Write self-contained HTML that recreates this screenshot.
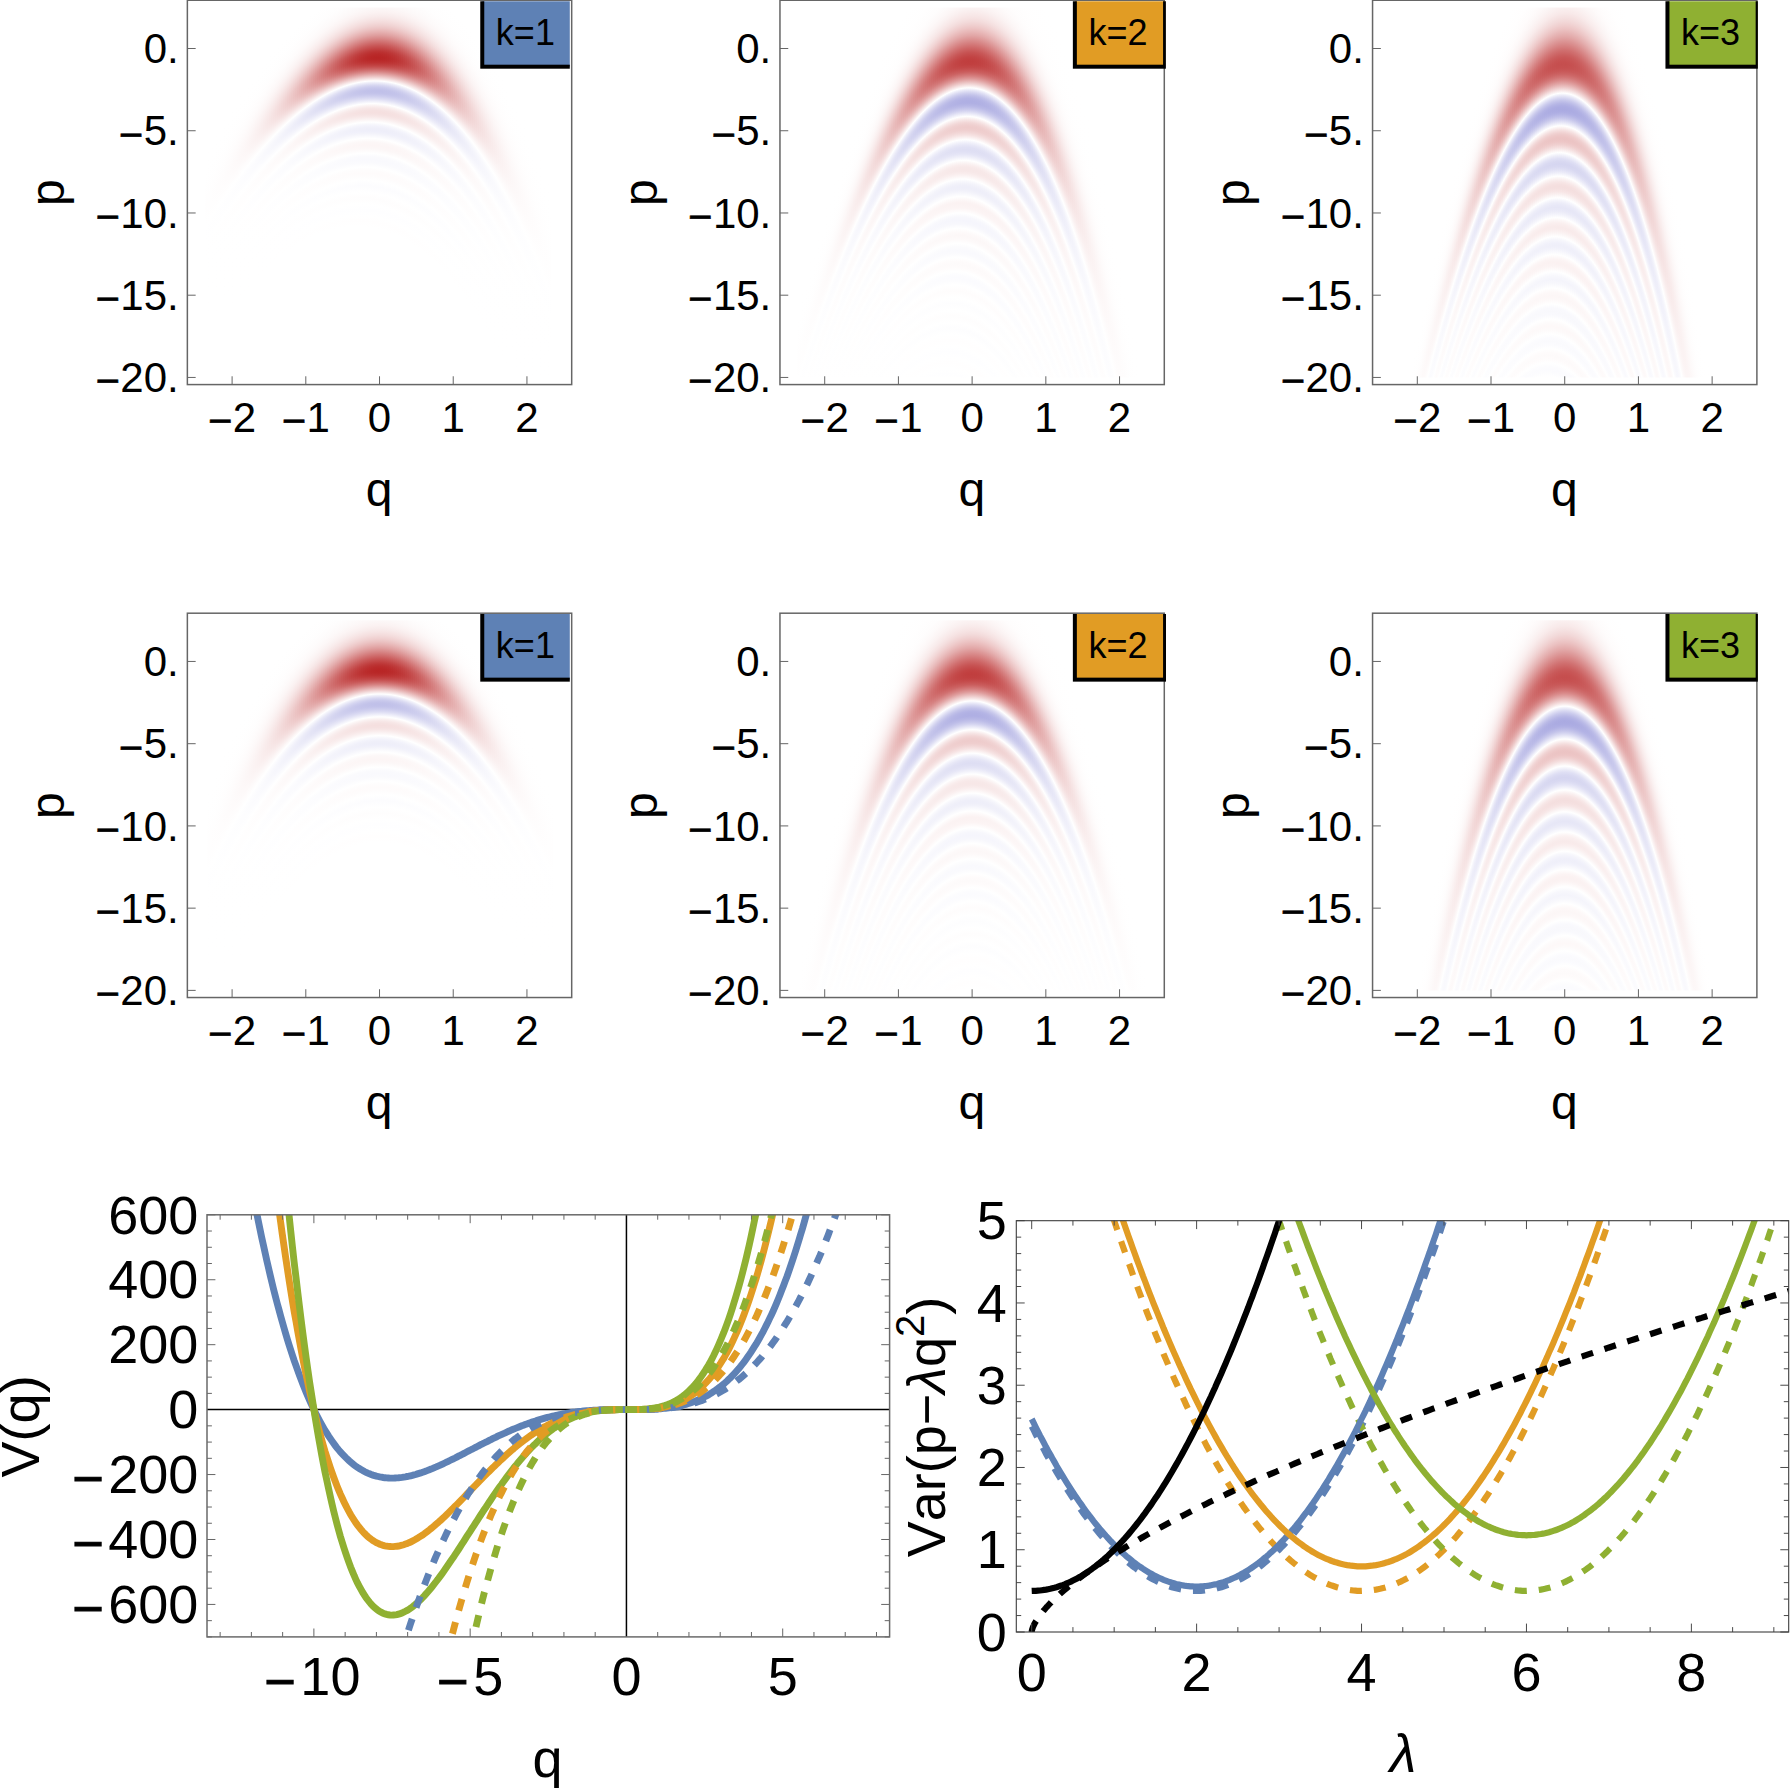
<!DOCTYPE html>
<html><head><meta charset="utf-8"><title>figure</title>
<style>html,body{margin:0;padding:0;background:#fff}svg{display:block}text{font-family:"Liberation Sans",sans-serif;fill:#000;font-kerning:none}.i{font-style:italic}</style></head><body>
<svg width="1790" height="1788" viewBox="0 0 1790 1788">
<rect width="1790" height="1788" fill="#fff"/>
<defs><linearGradient id="g00" x1="0" y1="0" x2="0" y2="1"><stop offset="0" stop-color="#fff"/><stop offset=".0551" stop-color="#fff"/><stop offset=".0784" stop-color="#fefdfd"/><stop offset=".0878" stop-color="#fdfafa"/><stop offset=".0957" stop-color="#fcf7f7"/><stop offset=".1027" stop-color="#fbf2f2"/><stop offset=".1092" stop-color="#f8ebeb"/><stop offset=".1146" stop-color="#f6e3e3"/><stop offset=".1197" stop-color="#f3dada"/><stop offset=".1249" stop-color="#efcfcf"/><stop offset=".1297" stop-color="#ebc2c2"/><stop offset=".1349" stop-color="#e6b1b1"/><stop offset=".1403" stop-color="#df9e9e"/><stop offset=".1457" stop-color="#d88888"/><stop offset=".1578" stop-color="#c85555"/><stop offset=".1643" stop-color="#c03d3d"/><stop offset=".1678" stop-color="#bc3232"/><stop offset=".1711" stop-color="#ba2b2b"/><stop offset=".1743" stop-color="#b92727"/><stop offset=".1773" stop-color="#b82525"/><stop offset=".1795" stop-color="#b82626"/><stop offset=".1814" stop-color="#b92828"/><stop offset=".1851" stop-color="#bc3030"/><stop offset=".1889" stop-color="#c03e3e"/><stop offset=".1908" stop-color="#c34646"/><stop offset=".193" stop-color="#c75252"/><stop offset=".1962" stop-color="#cd6666"/><stop offset=".2" stop-color="#d68181"/><stop offset=".2035" stop-color="#df9d9d"/><stop offset=".2116" stop-color="#f5e0e0"/><stop offset=".2157" stop-color="#fff"/><stop offset=".2181" stop-color="#efeff9"/><stop offset=".2203" stop-color="#e3e3f5"/><stop offset=".2224" stop-color="#d8d8f1"/><stop offset=".2246" stop-color="#cfcfee"/><stop offset=".2268" stop-color="#c8c8ec"/><stop offset=".2286" stop-color="#c4c4ea"/><stop offset=".2305" stop-color="#c1c1e9"/><stop offset=".2327" stop-color="#c0c0e9"/><stop offset=".2346" stop-color="#c1c1e9"/><stop offset=".2365" stop-color="#c3c3ea"/><stop offset=".2386" stop-color="#c8c8ec"/><stop offset=".2408" stop-color="#ceceee"/><stop offset=".2449" stop-color="#dcdcf3"/><stop offset=".2532" stop-color="#fff"/><stop offset=".257" stop-color="#faf1f1"/><stop offset=".2605" stop-color="#f7e7e7"/><stop offset=".2641" stop-color="#f5e1e1"/><stop offset=".2673" stop-color="#f5dfdf"/><stop offset=".2705" stop-color="#f5e1e1"/><stop offset=".2738" stop-color="#f7e6e6"/><stop offset=".277" stop-color="#f9eded"/><stop offset=".2841" stop-color="#fff"/><stop offset=".2876" stop-color="#f7f7fc"/><stop offset=".2905" stop-color="#f2f2fb"/><stop offset=".2935" stop-color="#efeff9"/><stop offset=".2965" stop-color="#eeeef9"/><stop offset=".2995" stop-color="#efeffa"/><stop offset=".3024" stop-color="#f2f2fa"/><stop offset=".3111" stop-color="#fff"/><stop offset=".317" stop-color="#fcf7f7"/><stop offset=".3224" stop-color="#fcf5f5"/><stop offset=".3278" stop-color="#fcf7f7"/><stop offset=".3359" stop-color="#fff"/><stop offset=".3416" stop-color="#fafafd"/><stop offset=".3468" stop-color="#f9f9fd"/><stop offset=".3516" stop-color="#fafafd"/><stop offset=".3592" stop-color="#fff"/><stop offset=".3646" stop-color="#fefcfc"/><stop offset=".3692" stop-color="#fefbfb"/><stop offset=".3738" stop-color="#fefcfc"/><stop offset=".3811" stop-color="#fff"/><stop offset=".3905" stop-color="#fcfcfe"/><stop offset=".4016" stop-color="#fff"/><stop offset=".4111" stop-color="#fefdfd"/><stop offset=".4216" stop-color="#fff"/><stop offset=".4305" stop-color="#fefeff"/><stop offset=".4408" stop-color="#fff"/><stop offset=".4495" stop-color="#fffefe"/><stop offset=".4592" stop-color="#fff"/><stop offset="1" stop-color="#fff"/></linearGradient><rect id="c00" x="-1.0" y="-98.68" width="2" height="608.54" fill="url(#g00)"/>
<linearGradient id="g01" x1="0" y1="0" x2="0" y2="1"><stop offset="0" stop-color="#fff"/><stop offset=".0473" stop-color="#fffefe"/><stop offset=".0719" stop-color="#fefcfc"/><stop offset=".0819" stop-color="#fdf9f9"/><stop offset=".0908" stop-color="#fcf5f5"/><stop offset=".0986" stop-color="#faf0f0"/><stop offset=".1059" stop-color="#f8e9e9"/><stop offset=".1116" stop-color="#f6e3e3"/><stop offset=".1173" stop-color="#f3dbdb"/><stop offset=".1227" stop-color="#f0d1d1"/><stop offset=".1281" stop-color="#edc6c6"/><stop offset=".1343" stop-color="#e8b7b7"/><stop offset=".1405" stop-color="#e2a7a7"/><stop offset=".1611" stop-color="#ce6767"/><stop offset=".1684" stop-color="#c75353"/><stop offset=".1727" stop-color="#c44a4a"/><stop offset=".1765" stop-color="#c24343"/><stop offset=".1803" stop-color="#c13f3f"/><stop offset=".1838" stop-color="#c03e3e"/><stop offset=".1886" stop-color="#c14040"/><stop offset=".1932" stop-color="#c34848"/><stop offset=".1978" stop-color="#c85555"/><stop offset=".2003" stop-color="#ca5d5d"/><stop offset=".2027" stop-color="#ce6868"/><stop offset=".207" stop-color="#d57d7d"/><stop offset=".2119" stop-color="#de9999"/><stop offset=".2162" stop-color="#e7b6b6"/><stop offset=".227" stop-color="#fff"/><stop offset=".2305" stop-color="#eaeaf8"/><stop offset=".2335" stop-color="#dadaf2"/><stop offset=".2365" stop-color="#cccced"/><stop offset=".2392" stop-color="#c1c1e9"/><stop offset=".2419" stop-color="#b9b9e6"/><stop offset=".2443" stop-color="#b3b3e5"/><stop offset=".247" stop-color="#b0b0e3"/><stop offset=".2495" stop-color="#afafe3"/><stop offset=".2519" stop-color="#afafe3"/><stop offset=".2543" stop-color="#b3b3e4"/><stop offset=".257" stop-color="#b8b8e6"/><stop offset=".2597" stop-color="#c0c0e9"/><stop offset=".2624" stop-color="#c9c9ec"/><stop offset=".2651" stop-color="#d4d4f0"/><stop offset=".2743" stop-color="#fff"/><stop offset=".2797" stop-color="#f7e7e7"/><stop offset=".2843" stop-color="#f2d7d7"/><stop offset=".2865" stop-color="#f0d2d2"/><stop offset=".2886" stop-color="#efcece"/><stop offset=".2908" stop-color="#ecc"/><stop offset=".2927" stop-color="#eecbcb"/><stop offset=".2968" stop-color="#efcece"/><stop offset=".3011" stop-color="#f2d7d7"/><stop offset=".3051" stop-color="#f6e2e2"/><stop offset=".313" stop-color="#fff"/><stop offset=".3132" stop-color="#fefeff"/><stop offset=".3178" stop-color="#f0f0fa"/><stop offset=".3219" stop-color="#e6e6f6"/><stop offset=".3257" stop-color="#e0e0f4"/><stop offset=".3295" stop-color="#dedef3"/><stop offset=".333" stop-color="#e0e0f4"/><stop offset=".3368" stop-color="#e5e5f6"/><stop offset=".3408" stop-color="#eeeef9"/><stop offset=".3473" stop-color="#fff"/><stop offset=".3516" stop-color="#fbf4f4"/><stop offset=".3554" stop-color="#f9ecec"/><stop offset=".3589" stop-color="#f7e8e8"/><stop offset=".3622" stop-color="#f7e7e7"/><stop offset=".3654" stop-color="#f7e8e8"/><stop offset=".3689" stop-color="#f9ecec"/><stop offset=".3724" stop-color="#fbf2f2"/><stop offset=".3786" stop-color="#fff"/><stop offset=".3827" stop-color="#f7f7fc"/><stop offset=".3862" stop-color="#f2f2fa"/><stop offset=".3895" stop-color="#efeff9"/><stop offset=".3924" stop-color="#eeeef9"/><stop offset=".3954" stop-color="#efeff9"/><stop offset=".3986" stop-color="#f2f2fa"/><stop offset=".4078" stop-color="#fff"/><stop offset=".4149" stop-color="#fcf5f5"/><stop offset=".4178" stop-color="#fbf2f2"/><stop offset=".4208" stop-color="#fbf2f2"/><stop offset=".4268" stop-color="#fcf4f4"/><stop offset=".4354" stop-color="#fff"/><stop offset=".4422" stop-color="#f7f7fc"/><stop offset=".4478" stop-color="#f5f5fc"/><stop offset=".4535" stop-color="#f7f7fc"/><stop offset=".4614" stop-color="#fff"/><stop offset=".4681" stop-color="#fdf9f9"/><stop offset=".4735" stop-color="#fcf7f7"/><stop offset=".4789" stop-color="#fdf9f9"/><stop offset=".4865" stop-color="#fff"/><stop offset=".4927" stop-color="#fbfbfd"/><stop offset=".4981" stop-color="#f9f9fd"/><stop offset=".5032" stop-color="#fafafd"/><stop offset=".5105" stop-color="#fff"/><stop offset=".5168" stop-color="#fefbfb"/><stop offset=".5219" stop-color="#fdfafa"/><stop offset=".5268" stop-color="#fefbfb"/><stop offset=".5341" stop-color="#fff"/><stop offset=".54" stop-color="#fcfcfe"/><stop offset=".5449" stop-color="#fbfbfe"/><stop offset=".5497" stop-color="#fcfcfe"/><stop offset=".5565" stop-color="#fff"/><stop offset=".567" stop-color="#fefcfc"/><stop offset=".5786" stop-color="#fff"/><stop offset=".5886" stop-color="#fdfdfe"/><stop offset=".6" stop-color="#fff"/><stop offset=".61" stop-color="#fefdfd"/><stop offset=".6208" stop-color="#fff"/><stop offset=".6305" stop-color="#fdfdfe"/><stop offset=".6414" stop-color="#fff"/><stop offset=".6508" stop-color="#fffefe"/><stop offset=".6614" stop-color="#fff"/><stop offset=".6705" stop-color="#fefeff"/><stop offset=".6808" stop-color="#fff"/><stop offset=".69" stop-color="#fffefe"/><stop offset=".7" stop-color="#fff"/><stop offset=".7092" stop-color="#fefeff"/><stop offset=".7189" stop-color="#fff"/><stop offset="1" stop-color="#fff"/></linearGradient><rect id="c01" x="-1.0" y="-98.68" width="2" height="608.54" fill="url(#g01)"/>
<linearGradient id="g02" x1="0" y1="0" x2="0" y2="1"><stop offset="0" stop-color="#fff"/><stop offset=".043" stop-color="#fffefe"/><stop offset=".0681" stop-color="#fefbfb"/><stop offset=".0784" stop-color="#fdf8f8"/><stop offset=".0876" stop-color="#fbf4f4"/><stop offset=".0959" stop-color="#faefef"/><stop offset=".1038" stop-color="#f8e9e9"/><stop offset=".1108" stop-color="#f5e1e1"/><stop offset=".1178" stop-color="#f2d8d8"/><stop offset=".1246" stop-color="#efcdcd"/><stop offset=".1311" stop-color="#ebc1c1"/><stop offset=".143" stop-color="#e2a7a7"/><stop offset=".1651" stop-color="#d06f6f"/><stop offset=".1735" stop-color="#ca5d5d"/><stop offset=".1776" stop-color="#c85656"/><stop offset=".1814" stop-color="#c75252"/><stop offset=".1849" stop-color="#c64f4f"/><stop offset=".1884" stop-color="#c54e4e"/><stop offset=".1938" stop-color="#c65050"/><stop offset=".1989" stop-color="#c85757"/><stop offset=".2041" stop-color="#cc6363"/><stop offset=".2095" stop-color="#d27575"/><stop offset=".2143" stop-color="#d98989"/><stop offset=".2197" stop-color="#e1a4a4"/><stop offset=".2246" stop-color="#eabfbf"/><stop offset=".2357" stop-color="#fff"/><stop offset=".2397" stop-color="#e9e9f7"/><stop offset=".2435" stop-color="#d7d7f1"/><stop offset=".2468" stop-color="#c9c9ec"/><stop offset=".25" stop-color="#bebee8"/><stop offset=".253" stop-color="#b5b5e5"/><stop offset=".2559" stop-color="#afafe3"/><stop offset=".2589" stop-color="#ababe2"/><stop offset=".2619" stop-color="#aaaae1"/><stop offset=".2646" stop-color="#ababe2"/><stop offset=".2676" stop-color="#aeaee3"/><stop offset=".2705" stop-color="#b4b4e5"/><stop offset=".2738" stop-color="#bdbde8"/><stop offset=".2768" stop-color="#c7c7eb"/><stop offset=".28" stop-color="#d4d4f0"/><stop offset=".2897" stop-color="#fff"/><stop offset=".2962" stop-color="#f6e3e3"/><stop offset=".2989" stop-color="#f3d9d9"/><stop offset=".3014" stop-color="#f0d1d1"/><stop offset=".3038" stop-color="#eecbcb"/><stop offset=".3062" stop-color="#edc7c7"/><stop offset=".3086" stop-color="#ecc4c4"/><stop offset=".3111" stop-color="#ebc3c3"/><stop offset=".3135" stop-color="#ecc4c4"/><stop offset=".3159" stop-color="#edc6c6"/><stop offset=".3184" stop-color="#eecbcb"/><stop offset=".3208" stop-color="#f0d0d0"/><stop offset=".3259" stop-color="#f5e0e0"/><stop offset=".3341" stop-color="#fff"/><stop offset=".3397" stop-color="#ececf8"/><stop offset=".3443" stop-color="#dfdff4"/><stop offset=".3486" stop-color="#d8d8f1"/><stop offset=".353" stop-color="#d5d5f0"/><stop offset=".3573" stop-color="#d8d8f1"/><stop offset=".3616" stop-color="#dfdff4"/><stop offset=".3662" stop-color="#eaeaf8"/><stop offset=".3732" stop-color="#fff"/><stop offset=".3784" stop-color="#faf0f0"/><stop offset=".3827" stop-color="#f7e6e6"/><stop offset=".3868" stop-color="#f5e0e0"/><stop offset=".3905" stop-color="#f4dede"/><stop offset=".3943" stop-color="#f5e0e0"/><stop offset=".3984" stop-color="#f7e5e5"/><stop offset=".4024" stop-color="#f9eeee"/><stop offset=".4092" stop-color="#fff"/><stop offset=".4141" stop-color="#f3f3fb"/><stop offset=".4178" stop-color="#ececf8"/><stop offset=".4216" stop-color="#e8e8f7"/><stop offset=".4251" stop-color="#e6e6f6"/><stop offset=".4286" stop-color="#e8e8f7"/><stop offset=".4324" stop-color="#ececf8"/><stop offset=".4365" stop-color="#f3f3fb"/><stop offset=".4424" stop-color="#fff"/><stop offset=".447" stop-color="#fcf5f5"/><stop offset=".4508" stop-color="#faefef"/><stop offset=".4543" stop-color="#f9ecec"/><stop offset=".4576" stop-color="#f8eaea"/><stop offset=".4608" stop-color="#f9ebeb"/><stop offset=".4643" stop-color="#faefef"/><stop offset=".4678" stop-color="#fbf4f4"/><stop offset=".4741" stop-color="#fff"/><stop offset=".4784" stop-color="#f7f7fc"/><stop offset=".4819" stop-color="#f3f3fb"/><stop offset=".4851" stop-color="#f0f0fa"/><stop offset=".4884" stop-color="#efeff9"/><stop offset=".4916" stop-color="#f0f0fa"/><stop offset=".4949" stop-color="#f3f3fb"/><stop offset=".5041" stop-color="#fff"/><stop offset=".5116" stop-color="#fcf4f4"/><stop offset=".5149" stop-color="#fbf2f2"/><stop offset=".5178" stop-color="#fbf1f1"/><stop offset=".5208" stop-color="#fbf2f2"/><stop offset=".5241" stop-color="#fcf4f4"/><stop offset=".5327" stop-color="#fff"/><stop offset=".54" stop-color="#f7f7fc"/><stop offset=".5459" stop-color="#f4f4fb"/><stop offset=".5519" stop-color="#f7f7fc"/><stop offset=".5603" stop-color="#fff"/><stop offset=".5673" stop-color="#fdf8f8"/><stop offset=".5732" stop-color="#fcf6f6"/><stop offset=".5789" stop-color="#fdf8f8"/><stop offset=".587" stop-color="#fff"/><stop offset=".5938" stop-color="#f9f9fd"/><stop offset=".5995" stop-color="#f8f8fc"/><stop offset=".6051" stop-color="#f9f9fd"/><stop offset=".6127" stop-color="#fff"/><stop offset=".6195" stop-color="#fdfafa"/><stop offset=".6249" stop-color="#fdf8f8"/><stop offset=".6305" stop-color="#fdfafa"/><stop offset=".6378" stop-color="#fff"/><stop offset=".6446" stop-color="#fbfbfe"/><stop offset=".6497" stop-color="#fafafd"/><stop offset=".6551" stop-color="#fbfbfe"/><stop offset=".6624" stop-color="#fff"/><stop offset=".6689" stop-color="#fefbfb"/><stop offset=".6741" stop-color="#fdfafa"/><stop offset=".6792" stop-color="#fefbfb"/><stop offset=".6865" stop-color="#fff"/><stop offset=".6927" stop-color="#fcfcfe"/><stop offset=".6978" stop-color="#fbfbfe"/><stop offset=".703" stop-color="#fcfcfe"/><stop offset=".7097" stop-color="#fff"/><stop offset=".7159" stop-color="#fefcfc"/><stop offset=".7208" stop-color="#fefcfc"/><stop offset=".7327" stop-color="#fff"/><stop offset=".7435" stop-color="#fcfcfe"/><stop offset=".7551" stop-color="#fff"/><stop offset=".7657" stop-color="#fefcfc"/><stop offset=".777" stop-color="#fff"/><stop offset=".7876" stop-color="#fdfdfe"/><stop offset=".7986" stop-color="#fff"/><stop offset=".8089" stop-color="#fefdfd"/><stop offset=".82" stop-color="#fff"/><stop offset=".8303" stop-color="#fdfdfe"/><stop offset=".8408" stop-color="#fff"/><stop offset=".8508" stop-color="#fffefe"/><stop offset=".8616" stop-color="#fff"/><stop offset=".8714" stop-color="#fefeff"/><stop offset=".8819" stop-color="#fff"/><stop offset=".8916" stop-color="#fffefe"/><stop offset=".9019" stop-color="#fff"/><stop offset=".9114" stop-color="#fefeff"/><stop offset=".9216" stop-color="#fff"/><stop offset=".9311" stop-color="#fffefe"/><stop offset=".9411" stop-color="#fff"/><stop offset=".9505" stop-color="#fefeff"/><stop offset="1" stop-color="#fff"/></linearGradient><rect id="c02" x="-1.0" y="-98.68" width="2" height="608.54" fill="url(#g02)"/>
<linearGradient id="g10" x1="0" y1="0" x2="0" y2="1"><stop offset="0" stop-color="#fff"/><stop offset=".0551" stop-color="#fff"/><stop offset=".0784" stop-color="#fefdfd"/><stop offset=".0878" stop-color="#fdfafa"/><stop offset=".0957" stop-color="#fcf7f7"/><stop offset=".1027" stop-color="#fbf2f2"/><stop offset=".1092" stop-color="#f8ebeb"/><stop offset=".1146" stop-color="#f6e3e3"/><stop offset=".1197" stop-color="#f3dada"/><stop offset=".1249" stop-color="#efcfcf"/><stop offset=".1297" stop-color="#ebc2c2"/><stop offset=".1349" stop-color="#e6b1b1"/><stop offset=".1403" stop-color="#df9e9e"/><stop offset=".1457" stop-color="#d88888"/><stop offset=".1578" stop-color="#c85555"/><stop offset=".1643" stop-color="#c03d3d"/><stop offset=".1678" stop-color="#bc3232"/><stop offset=".1711" stop-color="#ba2b2b"/><stop offset=".1743" stop-color="#b92727"/><stop offset=".1773" stop-color="#b82525"/><stop offset=".1795" stop-color="#b82626"/><stop offset=".1814" stop-color="#b92828"/><stop offset=".1851" stop-color="#bc3030"/><stop offset=".1889" stop-color="#c03e3e"/><stop offset=".1908" stop-color="#c34646"/><stop offset=".193" stop-color="#c75252"/><stop offset=".1962" stop-color="#cd6666"/><stop offset=".2" stop-color="#d68181"/><stop offset=".2035" stop-color="#df9d9d"/><stop offset=".2116" stop-color="#f5e0e0"/><stop offset=".2157" stop-color="#fff"/><stop offset=".2181" stop-color="#efeff9"/><stop offset=".2203" stop-color="#e3e3f5"/><stop offset=".2224" stop-color="#d8d8f1"/><stop offset=".2246" stop-color="#cfcfee"/><stop offset=".2268" stop-color="#c8c8ec"/><stop offset=".2286" stop-color="#c4c4ea"/><stop offset=".2305" stop-color="#c1c1e9"/><stop offset=".2327" stop-color="#c0c0e9"/><stop offset=".2346" stop-color="#c1c1e9"/><stop offset=".2365" stop-color="#c3c3ea"/><stop offset=".2386" stop-color="#c8c8ec"/><stop offset=".2408" stop-color="#ceceee"/><stop offset=".2449" stop-color="#dcdcf3"/><stop offset=".2532" stop-color="#fff"/><stop offset=".257" stop-color="#faf1f1"/><stop offset=".2605" stop-color="#f7e7e7"/><stop offset=".2641" stop-color="#f5e1e1"/><stop offset=".2673" stop-color="#f5dfdf"/><stop offset=".2705" stop-color="#f5e1e1"/><stop offset=".2738" stop-color="#f7e6e6"/><stop offset=".277" stop-color="#f9eded"/><stop offset=".2841" stop-color="#fff"/><stop offset=".2876" stop-color="#f7f7fc"/><stop offset=".2905" stop-color="#f2f2fb"/><stop offset=".2935" stop-color="#efeff9"/><stop offset=".2965" stop-color="#eeeef9"/><stop offset=".2995" stop-color="#efeffa"/><stop offset=".3024" stop-color="#f2f2fa"/><stop offset=".3111" stop-color="#fff"/><stop offset=".317" stop-color="#fcf7f7"/><stop offset=".3224" stop-color="#fcf5f5"/><stop offset=".3278" stop-color="#fcf7f7"/><stop offset=".3359" stop-color="#fff"/><stop offset=".3416" stop-color="#fafafd"/><stop offset=".3468" stop-color="#f9f9fd"/><stop offset=".3516" stop-color="#fafafd"/><stop offset=".3592" stop-color="#fff"/><stop offset=".3646" stop-color="#fefcfc"/><stop offset=".3692" stop-color="#fefbfb"/><stop offset=".3738" stop-color="#fefcfc"/><stop offset=".3811" stop-color="#fff"/><stop offset=".3905" stop-color="#fcfcfe"/><stop offset=".4016" stop-color="#fff"/><stop offset=".4111" stop-color="#fefdfd"/><stop offset=".4216" stop-color="#fff"/><stop offset=".4305" stop-color="#fefeff"/><stop offset=".4408" stop-color="#fff"/><stop offset=".4495" stop-color="#fffefe"/><stop offset=".4592" stop-color="#fff"/><stop offset="1" stop-color="#fff"/></linearGradient><rect id="c10" x="-1.0" y="-98.68" width="2" height="608.54" fill="url(#g10)"/>
<linearGradient id="g11" x1="0" y1="0" x2="0" y2="1"><stop offset="0" stop-color="#fff"/><stop offset=".0473" stop-color="#fffefe"/><stop offset=".0719" stop-color="#fefcfc"/><stop offset=".0819" stop-color="#fdf9f9"/><stop offset=".0908" stop-color="#fcf5f5"/><stop offset=".0986" stop-color="#faf0f0"/><stop offset=".1059" stop-color="#f8e9e9"/><stop offset=".1116" stop-color="#f6e3e3"/><stop offset=".1173" stop-color="#f3dbdb"/><stop offset=".1227" stop-color="#f0d1d1"/><stop offset=".1281" stop-color="#edc6c6"/><stop offset=".1343" stop-color="#e8b7b7"/><stop offset=".1405" stop-color="#e2a7a7"/><stop offset=".1611" stop-color="#ce6767"/><stop offset=".1684" stop-color="#c75353"/><stop offset=".1727" stop-color="#c44a4a"/><stop offset=".1765" stop-color="#c24343"/><stop offset=".1803" stop-color="#c13f3f"/><stop offset=".1838" stop-color="#c03e3e"/><stop offset=".1886" stop-color="#c14040"/><stop offset=".1932" stop-color="#c34848"/><stop offset=".1978" stop-color="#c85555"/><stop offset=".2003" stop-color="#ca5d5d"/><stop offset=".2027" stop-color="#ce6868"/><stop offset=".207" stop-color="#d57d7d"/><stop offset=".2119" stop-color="#de9999"/><stop offset=".2162" stop-color="#e7b6b6"/><stop offset=".227" stop-color="#fff"/><stop offset=".2305" stop-color="#eaeaf8"/><stop offset=".2335" stop-color="#dadaf2"/><stop offset=".2365" stop-color="#cccced"/><stop offset=".2392" stop-color="#c1c1e9"/><stop offset=".2419" stop-color="#b9b9e6"/><stop offset=".2443" stop-color="#b3b3e5"/><stop offset=".247" stop-color="#b0b0e3"/><stop offset=".2495" stop-color="#afafe3"/><stop offset=".2519" stop-color="#afafe3"/><stop offset=".2543" stop-color="#b3b3e4"/><stop offset=".257" stop-color="#b8b8e6"/><stop offset=".2597" stop-color="#c0c0e9"/><stop offset=".2624" stop-color="#c9c9ec"/><stop offset=".2651" stop-color="#d4d4f0"/><stop offset=".2743" stop-color="#fff"/><stop offset=".2797" stop-color="#f7e7e7"/><stop offset=".2843" stop-color="#f2d7d7"/><stop offset=".2865" stop-color="#f0d2d2"/><stop offset=".2886" stop-color="#efcece"/><stop offset=".2908" stop-color="#ecc"/><stop offset=".2927" stop-color="#eecbcb"/><stop offset=".2968" stop-color="#efcece"/><stop offset=".3011" stop-color="#f2d7d7"/><stop offset=".3051" stop-color="#f6e2e2"/><stop offset=".313" stop-color="#fff"/><stop offset=".3132" stop-color="#fefeff"/><stop offset=".3178" stop-color="#f0f0fa"/><stop offset=".3219" stop-color="#e6e6f6"/><stop offset=".3257" stop-color="#e0e0f4"/><stop offset=".3295" stop-color="#dedef3"/><stop offset=".333" stop-color="#e0e0f4"/><stop offset=".3368" stop-color="#e5e5f6"/><stop offset=".3408" stop-color="#eeeef9"/><stop offset=".3473" stop-color="#fff"/><stop offset=".3516" stop-color="#fbf4f4"/><stop offset=".3554" stop-color="#f9ecec"/><stop offset=".3589" stop-color="#f7e8e8"/><stop offset=".3622" stop-color="#f7e7e7"/><stop offset=".3654" stop-color="#f7e8e8"/><stop offset=".3689" stop-color="#f9ecec"/><stop offset=".3724" stop-color="#fbf2f2"/><stop offset=".3786" stop-color="#fff"/><stop offset=".3827" stop-color="#f7f7fc"/><stop offset=".3862" stop-color="#f2f2fa"/><stop offset=".3895" stop-color="#efeff9"/><stop offset=".3924" stop-color="#eeeef9"/><stop offset=".3954" stop-color="#efeff9"/><stop offset=".3986" stop-color="#f2f2fa"/><stop offset=".4078" stop-color="#fff"/><stop offset=".4149" stop-color="#fcf5f5"/><stop offset=".4178" stop-color="#fbf2f2"/><stop offset=".4208" stop-color="#fbf2f2"/><stop offset=".4268" stop-color="#fcf4f4"/><stop offset=".4354" stop-color="#fff"/><stop offset=".4422" stop-color="#f7f7fc"/><stop offset=".4478" stop-color="#f5f5fc"/><stop offset=".4535" stop-color="#f7f7fc"/><stop offset=".4614" stop-color="#fff"/><stop offset=".4681" stop-color="#fdf9f9"/><stop offset=".4735" stop-color="#fcf7f7"/><stop offset=".4789" stop-color="#fdf9f9"/><stop offset=".4865" stop-color="#fff"/><stop offset=".4927" stop-color="#fbfbfd"/><stop offset=".4981" stop-color="#f9f9fd"/><stop offset=".5032" stop-color="#fafafd"/><stop offset=".5105" stop-color="#fff"/><stop offset=".5168" stop-color="#fefbfb"/><stop offset=".5219" stop-color="#fdfafa"/><stop offset=".5268" stop-color="#fefbfb"/><stop offset=".5341" stop-color="#fff"/><stop offset=".54" stop-color="#fcfcfe"/><stop offset=".5449" stop-color="#fbfbfe"/><stop offset=".5497" stop-color="#fcfcfe"/><stop offset=".5565" stop-color="#fff"/><stop offset=".567" stop-color="#fefcfc"/><stop offset=".5786" stop-color="#fff"/><stop offset=".5886" stop-color="#fdfdfe"/><stop offset=".6" stop-color="#fff"/><stop offset=".61" stop-color="#fefdfd"/><stop offset=".6208" stop-color="#fff"/><stop offset=".6305" stop-color="#fdfdfe"/><stop offset=".6414" stop-color="#fff"/><stop offset=".6508" stop-color="#fffefe"/><stop offset=".6614" stop-color="#fff"/><stop offset=".6705" stop-color="#fefeff"/><stop offset=".6808" stop-color="#fff"/><stop offset=".69" stop-color="#fffefe"/><stop offset=".7" stop-color="#fff"/><stop offset=".7092" stop-color="#fefeff"/><stop offset=".7189" stop-color="#fff"/><stop offset="1" stop-color="#fff"/></linearGradient><rect id="c11" x="-1.0" y="-98.68" width="2" height="608.54" fill="url(#g11)"/>
<linearGradient id="g12" x1="0" y1="0" x2="0" y2="1"><stop offset="0" stop-color="#fff"/><stop offset=".043" stop-color="#fffefe"/><stop offset=".0681" stop-color="#fefbfb"/><stop offset=".0784" stop-color="#fdf8f8"/><stop offset=".0876" stop-color="#fbf4f4"/><stop offset=".0959" stop-color="#faefef"/><stop offset=".1038" stop-color="#f8e9e9"/><stop offset=".1108" stop-color="#f5e1e1"/><stop offset=".1178" stop-color="#f2d8d8"/><stop offset=".1246" stop-color="#efcdcd"/><stop offset=".1311" stop-color="#ebc1c1"/><stop offset=".143" stop-color="#e2a7a7"/><stop offset=".1651" stop-color="#d06f6f"/><stop offset=".1735" stop-color="#ca5d5d"/><stop offset=".1776" stop-color="#c85656"/><stop offset=".1814" stop-color="#c75252"/><stop offset=".1849" stop-color="#c64f4f"/><stop offset=".1884" stop-color="#c54e4e"/><stop offset=".1938" stop-color="#c65050"/><stop offset=".1989" stop-color="#c85757"/><stop offset=".2041" stop-color="#cc6363"/><stop offset=".2095" stop-color="#d27575"/><stop offset=".2143" stop-color="#d98989"/><stop offset=".2197" stop-color="#e1a4a4"/><stop offset=".2246" stop-color="#eabfbf"/><stop offset=".2357" stop-color="#fff"/><stop offset=".2397" stop-color="#e9e9f7"/><stop offset=".2435" stop-color="#d7d7f1"/><stop offset=".2468" stop-color="#c9c9ec"/><stop offset=".25" stop-color="#bebee8"/><stop offset=".253" stop-color="#b5b5e5"/><stop offset=".2559" stop-color="#afafe3"/><stop offset=".2589" stop-color="#ababe2"/><stop offset=".2619" stop-color="#aaaae1"/><stop offset=".2646" stop-color="#ababe2"/><stop offset=".2676" stop-color="#aeaee3"/><stop offset=".2705" stop-color="#b4b4e5"/><stop offset=".2738" stop-color="#bdbde8"/><stop offset=".2768" stop-color="#c7c7eb"/><stop offset=".28" stop-color="#d4d4f0"/><stop offset=".2897" stop-color="#fff"/><stop offset=".2962" stop-color="#f6e3e3"/><stop offset=".2989" stop-color="#f3d9d9"/><stop offset=".3014" stop-color="#f0d1d1"/><stop offset=".3038" stop-color="#eecbcb"/><stop offset=".3062" stop-color="#edc7c7"/><stop offset=".3086" stop-color="#ecc4c4"/><stop offset=".3111" stop-color="#ebc3c3"/><stop offset=".3135" stop-color="#ecc4c4"/><stop offset=".3159" stop-color="#edc6c6"/><stop offset=".3184" stop-color="#eecbcb"/><stop offset=".3208" stop-color="#f0d0d0"/><stop offset=".3259" stop-color="#f5e0e0"/><stop offset=".3341" stop-color="#fff"/><stop offset=".3397" stop-color="#ececf8"/><stop offset=".3443" stop-color="#dfdff4"/><stop offset=".3486" stop-color="#d8d8f1"/><stop offset=".353" stop-color="#d5d5f0"/><stop offset=".3573" stop-color="#d8d8f1"/><stop offset=".3616" stop-color="#dfdff4"/><stop offset=".3662" stop-color="#eaeaf8"/><stop offset=".3732" stop-color="#fff"/><stop offset=".3784" stop-color="#faf0f0"/><stop offset=".3827" stop-color="#f7e6e6"/><stop offset=".3868" stop-color="#f5e0e0"/><stop offset=".3905" stop-color="#f4dede"/><stop offset=".3943" stop-color="#f5e0e0"/><stop offset=".3984" stop-color="#f7e5e5"/><stop offset=".4024" stop-color="#f9eeee"/><stop offset=".4092" stop-color="#fff"/><stop offset=".4141" stop-color="#f3f3fb"/><stop offset=".4178" stop-color="#ececf8"/><stop offset=".4216" stop-color="#e8e8f7"/><stop offset=".4251" stop-color="#e6e6f6"/><stop offset=".4286" stop-color="#e8e8f7"/><stop offset=".4324" stop-color="#ececf8"/><stop offset=".4365" stop-color="#f3f3fb"/><stop offset=".4424" stop-color="#fff"/><stop offset=".447" stop-color="#fcf5f5"/><stop offset=".4508" stop-color="#faefef"/><stop offset=".4543" stop-color="#f9ecec"/><stop offset=".4576" stop-color="#f8eaea"/><stop offset=".4608" stop-color="#f9ebeb"/><stop offset=".4643" stop-color="#faefef"/><stop offset=".4678" stop-color="#fbf4f4"/><stop offset=".4741" stop-color="#fff"/><stop offset=".4784" stop-color="#f7f7fc"/><stop offset=".4819" stop-color="#f3f3fb"/><stop offset=".4851" stop-color="#f0f0fa"/><stop offset=".4884" stop-color="#efeff9"/><stop offset=".4916" stop-color="#f0f0fa"/><stop offset=".4949" stop-color="#f3f3fb"/><stop offset=".5041" stop-color="#fff"/><stop offset=".5116" stop-color="#fcf4f4"/><stop offset=".5149" stop-color="#fbf2f2"/><stop offset=".5178" stop-color="#fbf1f1"/><stop offset=".5208" stop-color="#fbf2f2"/><stop offset=".5241" stop-color="#fcf4f4"/><stop offset=".5327" stop-color="#fff"/><stop offset=".54" stop-color="#f7f7fc"/><stop offset=".5459" stop-color="#f4f4fb"/><stop offset=".5519" stop-color="#f7f7fc"/><stop offset=".5603" stop-color="#fff"/><stop offset=".5673" stop-color="#fdf8f8"/><stop offset=".5732" stop-color="#fcf6f6"/><stop offset=".5789" stop-color="#fdf8f8"/><stop offset=".587" stop-color="#fff"/><stop offset=".5938" stop-color="#f9f9fd"/><stop offset=".5995" stop-color="#f8f8fc"/><stop offset=".6051" stop-color="#f9f9fd"/><stop offset=".6127" stop-color="#fff"/><stop offset=".6195" stop-color="#fdfafa"/><stop offset=".6249" stop-color="#fdf8f8"/><stop offset=".6305" stop-color="#fdfafa"/><stop offset=".6378" stop-color="#fff"/><stop offset=".6446" stop-color="#fbfbfe"/><stop offset=".6497" stop-color="#fafafd"/><stop offset=".6551" stop-color="#fbfbfe"/><stop offset=".6624" stop-color="#fff"/><stop offset=".6689" stop-color="#fefbfb"/><stop offset=".6741" stop-color="#fdfafa"/><stop offset=".6792" stop-color="#fefbfb"/><stop offset=".6865" stop-color="#fff"/><stop offset=".6927" stop-color="#fcfcfe"/><stop offset=".6978" stop-color="#fbfbfe"/><stop offset=".703" stop-color="#fcfcfe"/><stop offset=".7097" stop-color="#fff"/><stop offset=".7159" stop-color="#fefcfc"/><stop offset=".7208" stop-color="#fefcfc"/><stop offset=".7327" stop-color="#fff"/><stop offset=".7435" stop-color="#fcfcfe"/><stop offset=".7551" stop-color="#fff"/><stop offset=".7657" stop-color="#fefcfc"/><stop offset=".777" stop-color="#fff"/><stop offset=".7876" stop-color="#fdfdfe"/><stop offset=".7986" stop-color="#fff"/><stop offset=".8089" stop-color="#fefdfd"/><stop offset=".82" stop-color="#fff"/><stop offset=".8303" stop-color="#fdfdfe"/><stop offset=".8408" stop-color="#fff"/><stop offset=".8508" stop-color="#fffefe"/><stop offset=".8616" stop-color="#fff"/><stop offset=".8714" stop-color="#fefeff"/><stop offset=".8819" stop-color="#fff"/><stop offset=".8916" stop-color="#fffefe"/><stop offset=".9019" stop-color="#fff"/><stop offset=".9114" stop-color="#fefeff"/><stop offset=".9216" stop-color="#fff"/><stop offset=".9311" stop-color="#fffefe"/><stop offset=".9411" stop-color="#fff"/><stop offset=".9505" stop-color="#fefeff"/><stop offset="1" stop-color="#fff"/></linearGradient><rect id="c12" x="-1.0" y="-98.68" width="2" height="608.54" fill="url(#g12)"/></defs>
<clipPath id="k00"><rect x="195.25" y="7.38" width="368.55" height="370.06"/></clipPath><g clip-path="url(#k00)"><use href="#c00" transform="matrix(1 -1.607 0 .838 206 197.73)" opacity=".004"/><use href="#c00" transform="matrix(1 -1.594 0 .837 208 194.61)" opacity=".005"/><use href="#c00" transform="matrix(1 -1.581 0 .836 210 191.52)" opacity=".005"/><use href="#c00" transform="matrix(1 -1.567 0 .835 212 188.45)" opacity=".006"/><use href="#c00" transform="matrix(1 -1.554 0 .834 214 185.42)" opacity=".007"/><use href="#c00" transform="matrix(1 -1.541 0 .834 216 182.4)" opacity=".008"/><use href="#c00" transform="matrix(1 -1.527 0 .834 218 179.42)" opacity=".009"/><use href="#c00" transform="matrix(1 -1.514 0 .834 220 176.46)" opacity=".01"/><use href="#c00" transform="matrix(1 -1.5 0 .834 222 173.53)" opacity=".011"/><use href="#c00" transform="matrix(1 -1.486 0 .834 224 170.63)" opacity=".012"/><use href="#c00" transform="matrix(1 -1.472 0 .834 226 167.75)" opacity=".014"/><use href="#c00" transform="matrix(1 -1.458 0 .834 228 164.9)" opacity=".016"/><use href="#c00" transform="matrix(1 -1.443 0 .834 230 162.09)" opacity=".017"/><use href="#c00" transform="matrix(1 -1.429 0 .834 232 159.3)" opacity=".019"/><use href="#c00" transform="matrix(1 -1.414 0 .834 234 156.53)" opacity=".022"/><use href="#c00" transform="matrix(1 -1.399 0 .835 236 153.79)" opacity=".024"/><use href="#c00" transform="matrix(1 -1.385 0 .836 238 151.09)" opacity=".027"/><use href="#c00" transform="matrix(1 -1.37 0 .836 240 148.41)" opacity=".03"/><use href="#c00" transform="matrix(1 -1.355 0 .837 242 145.76)" opacity=".033"/><use href="#c00" transform="matrix(1 -1.339 0 .838 244 143.14)" opacity=".036"/><use href="#c00" transform="matrix(1 -1.324 0 .839 246 140.56)" opacity=".04"/><use href="#c00" transform="matrix(1 -1.308 0 .839 248 138)" opacity=".044"/><use href="#c00" transform="matrix(1 -1.293 0 .84 250 135.48)" opacity=".049"/><use href="#c00" transform="matrix(1 -1.277 0 .841 252 132.98)" opacity=".054"/><use href="#c00" transform="matrix(1 -1.261 0 .843 254 130.51)" opacity=".059"/><use href="#c00" transform="matrix(1 -1.245 0 .844 256 128.07)" opacity=".065"/><use href="#c00" transform="matrix(1 -1.229 0 .846 258 125.66)" opacity=".071"/><use href="#c00" transform="matrix(1 -1.213 0 .847 260 123.29)" opacity=".077"/><use href="#c00" transform="matrix(1 -1.196 0 .849 262 120.94)" opacity=".084"/><use href="#c00" transform="matrix(1 -1.18 0 .851 264 118.63)" opacity=".092"/><use href="#c00" transform="matrix(1 -1.163 0 .852 266 116.36)" opacity=".1"/><use href="#c00" transform="matrix(1 -1.146 0 .854 268 114.12)" opacity=".108"/><use href="#c00" transform="matrix(1 -1.129 0 .856 270 111.9)" opacity=".117"/><use href="#c00" transform="matrix(1 -1.112 0 .858 272 109.72)" opacity=".127"/><use href="#c00" transform="matrix(1 -1.095 0 .86 274 107.57)" opacity=".137"/><use href="#c00" transform="matrix(1 -1.077 0 .862 276 105.45)" opacity=".148"/><use href="#c00" transform="matrix(1 -1.06 0 .864 278 103.37)" opacity=".16"/><use href="#c00" transform="matrix(1 -1.042 0 .866 280 101.32)" opacity=".172"/><use href="#c00" transform="matrix(1 -1.025 0 .869 282 99.31)" opacity=".185"/><use href="#c00" transform="matrix(1 -1.007 0 .871 284 97.34)" opacity=".198"/><use href="#c00" transform="matrix(1 -.989 0 .873 286 95.4)" opacity=".212"/><use href="#c00" transform="matrix(1 -.971 0 .875 288 93.49)" opacity=".227"/><use href="#c00" transform="matrix(1 -.952 0 .878 290 91.61)" opacity=".242"/><use href="#c00" transform="matrix(1 -.934 0 .88 292 89.77)" opacity=".258"/><use href="#c00" transform="matrix(1 -.915 0 .883 294 87.97)" opacity=".275"/><use href="#c00" transform="matrix(1 -.897 0 .885 296 86.2)" opacity=".292"/><use href="#c00" transform="matrix(1 -.878 0 .888 298 84.47)" opacity=".31"/><use href="#c00" transform="matrix(1 -.859 0 .891 300 82.78)" opacity=".329"/><use href="#c00" transform="matrix(1 -.84 0 .893 302 81.13)" opacity=".348"/><use href="#c00" transform="matrix(1 -.821 0 .896 304 79.51)" opacity=".368"/><use href="#c00" transform="matrix(1 -.801 0 .898 306 77.94)" opacity=".388"/><use href="#c00" transform="matrix(1 -.782 0 .901 308 76.39)" opacity=".409"/><use href="#c00" transform="matrix(1 -.762 0 .904 310 74.89)" opacity=".43"/><use href="#c00" transform="matrix(1 -.743 0 .906 312 73.42)" opacity=".452"/><use href="#c00" transform="matrix(1 -.723 0 .909 314 71.99)" opacity=".474"/><use href="#c00" transform="matrix(1 -.703 0 .912 316 70.6)" opacity=".497"/><use href="#c00" transform="matrix(1 -.683 0 .915 318 69.26)" opacity=".519"/><use href="#c00" transform="matrix(1 -.663 0 .917 320 67.95)" opacity=".542"/><use href="#c00" transform="matrix(1 -.642 0 .92 322 66.68)" opacity=".566"/><use href="#c00" transform="matrix(1 -.622 0 .923 324 65.46)" opacity=".589"/><use href="#c00" transform="matrix(1 -.601 0 .926 326 64.27)" opacity=".612"/><use href="#c00" transform="matrix(1 -.58 0 .928 328 63.12)" opacity=".635"/><use href="#c00" transform="matrix(1 -.559 0 .931 330 62.01)" opacity=".659"/><use href="#c00" transform="matrix(1 -.538 0 .934 332 60.94)" opacity=".682"/><use href="#c00" transform="matrix(1 -.517 0 .937 334 59.92)" opacity=".704"/><use href="#c00" transform="matrix(1 -.496 0 .94 336 58.94)" opacity=".727"/><use href="#c00" transform="matrix(1 -.474 0 .942 338 58)" opacity=".749"/><use href="#c00" transform="matrix(1 -.453 0 .945 340 57.11)" opacity=".771"/><use href="#c00" transform="matrix(1 -.431 0 .948 342 56.25)" opacity=".792"/><use href="#c00" transform="matrix(1 -.409 0 .951 344 55.44)" opacity=".812"/><use href="#c00" transform="matrix(1 -.387 0 .954 346 54.67)" opacity=".832"/><use href="#c00" transform="matrix(1 -.365 0 .956 348 53.95)" opacity=".851"/><use href="#c00" transform="matrix(1 -.343 0 .959 350 53.27)" opacity=".869"/><use href="#c00" transform="matrix(1 -.321 0 .962 352 52.63)" opacity=".886"/><use href="#c00" transform="matrix(1 -.298 0 .965 354 52.04)" opacity=".903"/><use href="#c00" transform="matrix(1 -.276 0 .968 356 51.49)" opacity=".918"/><use href="#c00" transform="matrix(1 -.253 0 .97 358 50.99)" opacity=".932"/><use href="#c00" transform="matrix(1 -.23 0 .973 360 50.53)" opacity=".945"/><use href="#c00" transform="matrix(1 -.207 0 .976 362 50.12)" opacity=".956"/><use href="#c00" transform="matrix(1 -.184 0 .979 364 49.75)" opacity=".967"/><use href="#c00" transform="matrix(1 -.161 0 .981 366 49.43)" opacity=".976"/><use href="#c00" transform="matrix(1 -.137 0 .984 368 49.16)" opacity=".984"/><use href="#c00" transform="matrix(1 -.114 0 .987 370 48.93)" opacity=".99"/><use href="#c00" transform="matrix(1 -.09 0 .99 372 48.75)" opacity=".995"/><use href="#c00" transform="matrix(1 -.066 0 .992 374 48.62)" opacity=".998"/><use href="#c00" transform="matrix(1 -.042 0 .995 376 48.53)" opacity="1"/><use href="#c00" transform="matrix(1 -.018 0 .998 378 48.5)" opacity="1"/><use href="#c00" transform="matrix(1 .006 0 1.001 380 48.51)" opacity="1"/><use href="#c00" transform="matrix(1 .03 0 1.003 382 48.56)" opacity=".997"/><use href="#c00" transform="matrix(1 .055 0 1.006 384 48.67)" opacity=".993"/><use href="#c00" transform="matrix(1 .079 0 1.009 386 48.82)" opacity=".988"/><use href="#c00" transform="matrix(1 .104 0 1.011 388 49.03)" opacity=".981"/><use href="#c00" transform="matrix(1 .129 0 1.014 390 49.28)" opacity=".973"/><use href="#c00" transform="matrix(1 .154 0 1.017 392 49.58)" opacity=".964"/><use href="#c00" transform="matrix(1 .179 0 1.019 394 49.94)" opacity=".953"/><use href="#c00" transform="matrix(1 .204 0 1.022 396 50.34)" opacity=".941"/><use href="#c00" transform="matrix(1 .229 0 1.025 398 50.8)" opacity=".928"/><use href="#c00" transform="matrix(1 .255 0 1.027 400 51.3)" opacity=".913"/><use href="#c00" transform="matrix(1 .28 0 1.03 402 51.85)" opacity=".898"/><use href="#c00" transform="matrix(1 .306 0 1.033 404 52.46)" opacity=".881"/><use href="#c00" transform="matrix(1 .332 0 1.035 406 53.11)" opacity=".864"/><use href="#c00" transform="matrix(1 .358 0 1.038 408 53.82)" opacity=".845"/><use href="#c00" transform="matrix(1 .384 0 1.04 410 54.58)" opacity=".826"/><use href="#c00" transform="matrix(1 .411 0 1.043 412 55.4)" opacity=".806"/><use href="#c00" transform="matrix(1 .437 0 1.046 414 56.26)" opacity=".785"/><use href="#c00" transform="matrix(1 .464 0 1.048 416 57.18)" opacity=".764"/><use href="#c00" transform="matrix(1 .49 0 1.051 418 58.15)" opacity=".742"/><use href="#c00" transform="matrix(1 .517 0 1.053 420 59.18)" opacity=".72"/><use href="#c00" transform="matrix(1 .544 0 1.056 422 60.26)" opacity=".698"/><use href="#c00" transform="matrix(1 .571 0 1.058 424 61.39)" opacity=".675"/><use href="#c00" transform="matrix(1 .598 0 1.061 426 62.57)" opacity=".652"/><use href="#c00" transform="matrix(1 .626 0 1.063 428 63.82)" opacity=".629"/><use href="#c00" transform="matrix(1 .653 0 1.066 430 65.11)" opacity=".605"/><use href="#c00" transform="matrix(1 .681 0 1.068 432 66.46)" opacity=".582"/><use href="#c00" transform="matrix(1 .708 0 1.071 434 67.87)" opacity=".559"/><use href="#c00" transform="matrix(1 .736 0 1.073 436 69.33)" opacity=".536"/><use href="#c00" transform="matrix(1 .764 0 1.076 438 70.84)" opacity=".513"/><use href="#c00" transform="matrix(1 .792 0 1.078 440 72.42)" opacity=".49"/><use href="#c00" transform="matrix(1 .821 0 1.081 442 74.04)" opacity=".468"/><use href="#c00" transform="matrix(1 .849 0 1.083 444 75.73)" opacity=".446"/><use href="#c00" transform="matrix(1 .878 0 1.086 446 77.47)" opacity=".425"/><use href="#c00" transform="matrix(1 .906 0 1.088 448 79.27)" opacity=".404"/><use href="#c00" transform="matrix(1 .935 0 1.09 450 81.13)" opacity=".383"/><use href="#c00" transform="matrix(1 .964 0 1.093 452 83.04)" opacity=".363"/><use href="#c00" transform="matrix(1 .993 0 1.095 454 85.01)" opacity=".343"/><use href="#c00" transform="matrix(1 1.022 0 1.098 456 87.04)" opacity=".324"/><use href="#c00" transform="matrix(1 1.051 0 1.1 458 89.13)" opacity=".306"/><use href="#c00" transform="matrix(1 1.081 0 1.102 460 91.28)" opacity=".288"/><use href="#c00" transform="matrix(1 1.11 0 1.105 462 93.48)" opacity=".271"/><use href="#c00" transform="matrix(1 1.14 0 1.107 464 95.75)" opacity=".255"/><use href="#c00" transform="matrix(1 1.17 0 1.11 466 98.07)" opacity=".239"/><use href="#c00" transform="matrix(1 1.2 0 1.112 468 100.45)" opacity=".224"/><use href="#c00" transform="matrix(1 1.23 0 1.114 470 102.9)" opacity=".209"/><use href="#c00" transform="matrix(1 1.26 0 1.117 472 105.4)" opacity=".195"/><use href="#c00" transform="matrix(1 1.291 0 1.119 474 107.97)" opacity=".182"/><use href="#c00" transform="matrix(1 1.321 0 1.121 476 110.59)" opacity=".17"/><use href="#c00" transform="matrix(1 1.352 0 1.124 478 113.28)" opacity=".158"/><use href="#c00" transform="matrix(1 1.382 0 1.126 480 116.02)" opacity=".146"/><use href="#c00" transform="matrix(1 1.413 0 1.128 482 118.83)" opacity=".136"/><use href="#c00" transform="matrix(1 1.444 0 1.13 484 121.7)" opacity=".126"/><use href="#c00" transform="matrix(1 1.475 0 1.133 486 124.64)" opacity=".116"/><use href="#c00" transform="matrix(1 1.507 0 1.135 488 127.63)" opacity=".107"/><use href="#c00" transform="matrix(1 1.538 0 1.137 490 130.69)" opacity=".099"/><use href="#c00" transform="matrix(1 1.57 0 1.14 492 133.81)" opacity=".091"/><use href="#c00" transform="matrix(1 1.601 0 1.142 494 136.99)" opacity=".083"/><use href="#c00" transform="matrix(1 1.633 0 1.144 496 140.24)" opacity=".077"/><use href="#c00" transform="matrix(1 1.665 0 1.146 498 143.55)" opacity=".07"/><use href="#c00" transform="matrix(1 1.697 0 1.148 500 146.93)" opacity=".064"/><use href="#c00" transform="matrix(1 1.729 0 1.151 502 150.36)" opacity=".059"/><use href="#c00" transform="matrix(1 1.762 0 1.153 504 153.87)" opacity=".053"/><use href="#c00" transform="matrix(1 1.794 0 1.155 506 157.44)" opacity=".049"/><use href="#c00" transform="matrix(1 1.827 0 1.157 508 161.07)" opacity=".044"/><use href="#c00" transform="matrix(1 1.86 0 1.16 510 164.77)" opacity=".04"/><use href="#c00" transform="matrix(1 1.892 0 1.162 512 168.53)" opacity=".036"/><use href="#c00" transform="matrix(1 1.925 0 1.164 514 172.36)" opacity=".033"/><use href="#c00" transform="matrix(1 1.958 0 1.166 516 176.25)" opacity=".03"/><use href="#c00" transform="matrix(1 1.992 0 1.168 518 180.22)" opacity=".027"/><use href="#c00" transform="matrix(1 2.025 0 1.17 520 184.24)" opacity=".024"/><use href="#c00" transform="matrix(1 2.059 0 1.173 522 188.34)" opacity=".022"/><use href="#c00" transform="matrix(1 2.092 0 1.175 524 192.5)" opacity=".02"/><use href="#c00" transform="matrix(1 2.126 0 1.177 526 196.73)" opacity=".018"/><use href="#c00" transform="matrix(1 2.16 0 1.179 528 201.03)" opacity=".016"/><use href="#c00" transform="matrix(1 2.194 0 1.181 530 205.39)" opacity=".014"/><use href="#c00" transform="matrix(1 2.228 0 1.183 532 209.83)" opacity=".013"/><use href="#c00" transform="matrix(1 2.262 0 1.185 534 214.33)" opacity=".011"/><use href="#c00" transform="matrix(1 2.297 0 1.187 536 218.9)" opacity=".01"/><use href="#c00" transform="matrix(1 2.331 0 1.19 538 223.54)" opacity=".009"/><use href="#c00" transform="matrix(1 2.366 0 1.192 540 228.24)" opacity=".008"/><use href="#c00" transform="matrix(1 2.401 0 1.194 542 233.02)" opacity=".007"/><use href="#c00" transform="matrix(1 2.436 0 1.196 544 237.87)" opacity=".006"/><use href="#c00" transform="matrix(1 2.471 0 1.198 546 242.79)" opacity=".006"/><use href="#c00" transform="matrix(1 2.506 0 1.2 548 247.77)" opacity=".005"/><use href="#c00" transform="matrix(1 2.542 0 1.202 550 252.83)" opacity=".004"/></g>
<clipPath id="k01"><rect x="787.85" y="7.38" width="368.55" height="370.06"/></clipPath><g clip-path="url(#k01)"><use href="#c01" transform="matrix(1 -3.221 0 .723 798 352.23)" opacity=".004"/><use href="#c01" transform="matrix(1 -3.195 0 .721 800 345.99)" opacity=".005"/><use href="#c01" transform="matrix(1 -3.169 0 .719 802 339.8)" opacity=".005"/><use href="#c01" transform="matrix(1 -3.143 0 .717 804 333.66)" opacity=".006"/><use href="#c01" transform="matrix(1 -3.116 0 .715 806 327.58)" opacity=".007"/><use href="#c01" transform="matrix(1 -3.09 0 .715 808 321.54)" opacity=".008"/><use href="#c01" transform="matrix(1 -3.063 0 .715 810 315.55)" opacity=".009"/><use href="#c01" transform="matrix(1 -3.035 0 .715 812 309.62)" opacity=".01"/><use href="#c01" transform="matrix(1 -3.008 0 .715 814 303.74)" opacity=".011"/><use href="#c01" transform="matrix(1 -2.98 0 .716 816 297.91)" opacity=".013"/><use href="#c01" transform="matrix(1 -2.952 0 .716 818 292.14)" opacity=".014"/><use href="#c01" transform="matrix(1 -2.924 0 .716 820 286.43)" opacity=".016"/><use href="#c01" transform="matrix(1 -2.895 0 .717 822 280.78)" opacity=".018"/><use href="#c01" transform="matrix(1 -2.866 0 .717 824 275.18)" opacity=".02"/><use href="#c01" transform="matrix(1 -2.837 0 .719 826 269.61)" opacity=".022"/><use href="#c01" transform="matrix(1 -2.808 0 .722 828 264.08)" opacity=".025"/><use href="#c01" transform="matrix(1 -2.778 0 .725 830 258.62)" opacity=".027"/><use href="#c01" transform="matrix(1 -2.748 0 .728 832 253.21)" opacity=".03"/><use href="#c01" transform="matrix(1 -2.718 0 .731 834 247.86)" opacity=".034"/><use href="#c01" transform="matrix(1 -2.688 0 .733 836 242.57)" opacity=".037"/><use href="#c01" transform="matrix(1 -2.657 0 .736 838 237.34)" opacity=".041"/><use href="#c01" transform="matrix(1 -2.626 0 .739 840 232.18)" opacity=".045"/><use href="#c01" transform="matrix(1 -2.595 0 .742 842 227.07)" opacity=".05"/><use href="#c01" transform="matrix(1 -2.563 0 .746 844 222.01)" opacity=".055"/><use href="#c01" transform="matrix(1 -2.532 0 .75 846 216.99)" opacity=".06"/><use href="#c01" transform="matrix(1 -2.5 0 .754 848 212.04)" opacity=".066"/><use href="#c01" transform="matrix(1 -2.468 0 .758 850 207.15)" opacity=".072"/><use href="#c01" transform="matrix(1 -2.435 0 .762 852 202.32)" opacity=".079"/><use href="#c01" transform="matrix(1 -2.402 0 .766 854 197.56)" opacity=".086"/><use href="#c01" transform="matrix(1 -2.369 0 .77 856 192.87)" opacity=".093"/><use href="#c01" transform="matrix(1 -2.336 0 .775 858 188.24)" opacity=".101"/><use href="#c01" transform="matrix(1 -2.302 0 .779 860 183.67)" opacity=".11"/><use href="#c01" transform="matrix(1 -2.268 0 .783 862 179.17)" opacity=".119"/><use href="#c01" transform="matrix(1 -2.234 0 .787 864 174.72)" opacity=".129"/><use href="#c01" transform="matrix(1 -2.2 0 .792 866 170.34)" opacity=".139"/><use href="#c01" transform="matrix(1 -2.165 0 .796 868 166.02)" opacity=".15"/><use href="#c01" transform="matrix(1 -2.131 0 .8 870 161.78)" opacity=".161"/><use href="#c01" transform="matrix(1 -2.095 0 .805 872 157.6)" opacity=".174"/><use href="#c01" transform="matrix(1 -2.06 0 .809 874 153.5)" opacity=".186"/><use href="#c01" transform="matrix(1 -2.024 0 .814 876 149.47)" opacity=".2"/><use href="#c01" transform="matrix(1 -1.988 0 .818 878 145.5)" opacity=".214"/><use href="#c01" transform="matrix(1 -1.952 0 .822 880 141.61)" opacity=".229"/><use href="#c01" transform="matrix(1 -1.916 0 .827 882 137.78)" opacity=".244"/><use href="#c01" transform="matrix(1 -1.879 0 .831 884 134.02)" opacity=".26"/><use href="#c01" transform="matrix(1 -1.842 0 .835 886 130.34)" opacity=".277"/><use href="#c01" transform="matrix(1 -1.805 0 .839 888 126.73)" opacity=".294"/><use href="#c01" transform="matrix(1 -1.767 0 .844 890 123.19)" opacity=".312"/><use href="#c01" transform="matrix(1 -1.729 0 .848 892 119.73)" opacity=".331"/><use href="#c01" transform="matrix(1 -1.691 0 .852 894 116.35)" opacity=".35"/><use href="#c01" transform="matrix(1 -1.653 0 .857 896 113.04)" opacity=".369"/><use href="#c01" transform="matrix(1 -1.615 0 .861 898 109.81)" opacity=".39"/><use href="#c01" transform="matrix(1 -1.576 0 .865 900 106.65)" opacity=".41"/><use href="#c01" transform="matrix(1 -1.537 0 .869 902 103.56)" opacity=".431"/><use href="#c01" transform="matrix(1 -1.497 0 .873 904 100.56)" opacity=".453"/><use href="#c01" transform="matrix(1 -1.458 0 .877 906 97.63)" opacity=".475"/><use href="#c01" transform="matrix(1 -1.418 0 .881 908 94.78)" opacity=".497"/><use href="#c01" transform="matrix(1 -1.378 0 .885 910 92.01)" opacity=".52"/><use href="#c01" transform="matrix(1 -1.337 0 .89 912 89.33)" opacity=".543"/><use href="#c01" transform="matrix(1 -1.297 0 .894 914 86.72)" opacity=".566"/><use href="#c01" transform="matrix(1 -1.256 0 .898 916 84.19)" opacity=".589"/><use href="#c01" transform="matrix(1 -1.215 0 .902 918 81.75)" opacity=".612"/><use href="#c01" transform="matrix(1 -1.173 0 .905 920 79.38)" opacity=".636"/><use href="#c01" transform="matrix(1 -1.131 0 .909 922 77.1)" opacity=".659"/><use href="#c01" transform="matrix(1 -1.089 0 .913 924 74.9)" opacity=".682"/><use href="#c01" transform="matrix(1 -1.047 0 .917 926 72.79)" opacity=".704"/><use href="#c01" transform="matrix(1 -1.005 0 .921 928 70.76)" opacity=".727"/><use href="#c01" transform="matrix(1 -.962 0 .925 930 68.81)" opacity=".749"/><use href="#c01" transform="matrix(1 -.919 0 .929 932 66.95)" opacity=".77"/><use href="#c01" transform="matrix(1 -.876 0 .932 934 65.18)" opacity=".791"/><use href="#c01" transform="matrix(1 -.832 0 .936 936 63.49)" opacity=".812"/><use href="#c01" transform="matrix(1 -.788 0 .94 938 61.89)" opacity=".832"/><use href="#c01" transform="matrix(1 -.744 0 .943 940 60.37)" opacity=".851"/><use href="#c01" transform="matrix(1 -.7 0 .947 942 58.95)" opacity=".869"/><use href="#c01" transform="matrix(1 -.655 0 .951 944 57.61)" opacity=".886"/><use href="#c01" transform="matrix(1 -.61 0 .954 946 56.36)" opacity=".902"/><use href="#c01" transform="matrix(1 -.565 0 .958 948 55.21)" opacity=".917"/><use href="#c01" transform="matrix(1 -.52 0 .962 950 54.14)" opacity=".932"/><use href="#c01" transform="matrix(1 -.474 0 .965 952 53.16)" opacity=".944"/><use href="#c01" transform="matrix(1 -.428 0 .969 954 52.28)" opacity=".956"/><use href="#c01" transform="matrix(1 -.382 0 .972 956 51.48)" opacity=".967"/><use href="#c01" transform="matrix(1 -.336 0 .976 958 50.78)" opacity=".976"/><use href="#c01" transform="matrix(1 -.289 0 .979 960 50.17)" opacity=".984"/><use href="#c01" transform="matrix(1 -.242 0 .983 962 49.65)" opacity=".99"/><use href="#c01" transform="matrix(1 -.195 0 .986 964 49.23)" opacity=".995"/><use href="#c01" transform="matrix(1 -.147 0 .989 966 48.91)" opacity=".998"/><use href="#c01" transform="matrix(1 -.099 0 .993 968 48.67)" opacity="1"/><use href="#c01" transform="matrix(1 -.051 0 .996 970 48.54)" opacity="1"/><use href="#c01" transform="matrix(1 -.003 0 1 972 48.5)" opacity="1"/><use href="#c01" transform="matrix(1 .046 0 1.003 974 48.55)" opacity=".998"/><use href="#c01" transform="matrix(1 .094 0 1.006 976 48.71)" opacity=".994"/><use href="#c01" transform="matrix(1 .143 0 1.01 978 48.96)" opacity=".989"/><use href="#c01" transform="matrix(1 .193 0 1.013 980 49.31)" opacity=".982"/><use href="#c01" transform="matrix(1 .242 0 1.016 982 49.75)" opacity=".974"/><use href="#c01" transform="matrix(1 .292 0 1.019 984 50.3)" opacity=".965"/><use href="#c01" transform="matrix(1 .342 0 1.023 986 50.95)" opacity=".954"/><use href="#c01" transform="matrix(1 .393 0 1.026 988 51.7)" opacity=".942"/><use href="#c01" transform="matrix(1 .443 0 1.029 990 52.55)" opacity=".929"/><use href="#c01" transform="matrix(1 .494 0 1.032 992 53.49)" opacity=".915"/><use href="#c01" transform="matrix(1 .545 0 1.035 994 54.55)" opacity=".9"/><use href="#c01" transform="matrix(1 .597 0 1.038 996 55.7)" opacity=".883"/><use href="#c01" transform="matrix(1 .649 0 1.041 998 56.96)" opacity=".866"/><use href="#c01" transform="matrix(1 .701 0 1.045 1000 58.32)" opacity=".848"/><use href="#c01" transform="matrix(1 .753 0 1.048 1002 59.78)" opacity=".829"/><use href="#c01" transform="matrix(1 .805 0 1.051 1004 61.35)" opacity=".809"/><use href="#c01" transform="matrix(1 .858 0 1.054 1006 63.02)" opacity=".788"/><use href="#c01" transform="matrix(1 .911 0 1.057 1008 64.8)" opacity=".767"/><use href="#c01" transform="matrix(1 .964 0 1.06 1010 66.69)" opacity=".745"/><use href="#c01" transform="matrix(1 1.018 0 1.063 1012 68.68)" opacity=".723"/><use href="#c01" transform="matrix(1 1.072 0 1.066 1014 70.78)" opacity=".701"/><use href="#c01" transform="matrix(1 1.126 0 1.069 1016 72.99)" opacity=".678"/><use href="#c01" transform="matrix(1 1.18 0 1.072 1018 75.31)" opacity=".655"/><use href="#c01" transform="matrix(1 1.235 0 1.075 1020 77.73)" opacity=".632"/><use href="#c01" transform="matrix(1 1.29 0 1.078 1022 80.26)" opacity=".609"/><use href="#c01" transform="matrix(1 1.345 0 1.081 1024 82.91)" opacity=".585"/><use href="#c01" transform="matrix(1 1.4 0 1.084 1026 85.66)" opacity=".562"/><use href="#c01" transform="matrix(1 1.456 0 1.086 1028 88.53)" opacity=".539"/><use href="#c01" transform="matrix(1 1.512 0 1.089 1030 91.5)" opacity=".516"/><use href="#c01" transform="matrix(1 1.568 0 1.092 1032 94.59)" opacity=".494"/><use href="#c01" transform="matrix(1 1.624 0 1.095 1034 97.79)" opacity=".471"/><use href="#c01" transform="matrix(1 1.681 0 1.098 1036 101.11)" opacity=".449"/><use href="#c01" transform="matrix(1 1.738 0 1.1 1038 104.53)" opacity=".428"/><use href="#c01" transform="matrix(1 1.795 0 1.103 1040 108.08)" opacity=".407"/><use href="#c01" transform="matrix(1 1.853 0 1.106 1042 111.73)" opacity=".386"/><use href="#c01" transform="matrix(1 1.91 0 1.109 1044 115.5)" opacity=".366"/><use href="#c01" transform="matrix(1 1.968 0 1.112 1046 119.39)" opacity=".346"/><use href="#c01" transform="matrix(1 2.027 0 1.114 1048 123.4)" opacity=".327"/><use href="#c01" transform="matrix(1 2.085 0 1.117 1050 127.52)" opacity=".309"/><use href="#c01" transform="matrix(1 2.144 0 1.12 1052 131.75)" opacity=".291"/><use href="#c01" transform="matrix(1 2.203 0 1.123 1054 136.11)" opacity=".274"/><use href="#c01" transform="matrix(1 2.262 0 1.125 1056 140.58)" opacity=".257"/><use href="#c01" transform="matrix(1 2.322 0 1.128 1058 145.17)" opacity=".241"/><use href="#c01" transform="matrix(1 2.382 0 1.131 1060 149.88)" opacity=".226"/><use href="#c01" transform="matrix(1 2.442 0 1.133 1062 154.72)" opacity=".212"/><use href="#c01" transform="matrix(1 2.502 0 1.136 1064 159.67)" opacity=".198"/><use href="#c01" transform="matrix(1 2.563 0 1.139 1066 164.74)" opacity=".184"/><use href="#c01" transform="matrix(1 2.624 0 1.141 1068 169.94)" opacity=".172"/><use href="#c01" transform="matrix(1 2.685 0 1.144 1070 175.25)" opacity=".16"/><use href="#c01" transform="matrix(1 2.746 0 1.146 1072 180.69)" opacity=".148"/><use href="#c01" transform="matrix(1 2.808 0 1.149 1074 186.25)" opacity=".137"/><use href="#c01" transform="matrix(1 2.87 0 1.152 1076 191.94)" opacity=".127"/><use href="#c01" transform="matrix(1 2.932 0 1.154 1078 197.75)" opacity=".118"/><use href="#c01" transform="matrix(1 2.995 0 1.157 1080 203.68)" opacity=".109"/><use href="#c01" transform="matrix(1 3.058 0 1.159 1082 209.74)" opacity=".1"/><use href="#c01" transform="matrix(1 3.121 0 1.162 1084 215.93)" opacity=".092"/><use href="#c01" transform="matrix(1 3.184 0 1.164 1086 222.24)" opacity=".085"/><use href="#c01" transform="matrix(1 3.247 0 1.167 1088 228.68)" opacity=".078"/><use href="#c01" transform="matrix(1 3.311 0 1.169 1090 235.24)" opacity=".071"/><use href="#c01" transform="matrix(1 3.375 0 1.172 1092 241.93)" opacity=".065"/><use href="#c01" transform="matrix(1 3.439 0 1.174 1094 248.76)" opacity=".06"/><use href="#c01" transform="matrix(1 3.504 0 1.177 1096 255.71)" opacity=".054"/><use href="#c01" transform="matrix(1 3.569 0 1.179 1098 262.79)" opacity=".049"/><use href="#c01" transform="matrix(1 3.634 0 1.182 1100 269.99)" opacity=".045"/><use href="#c01" transform="matrix(1 3.699 0 1.184 1102 277.33)" opacity=".041"/><use href="#c01" transform="matrix(1 3.765 0 1.187 1104 284.81)" opacity=".037"/><use href="#c01" transform="matrix(1 3.831 0 1.189 1106 292.41)" opacity=".034"/><use href="#c01" transform="matrix(1 3.897 0 1.191 1108 300.14)" opacity=".03"/><use href="#c01" transform="matrix(1 3.963 0 1.194 1110 308.01)" opacity=".027"/><use href="#c01" transform="matrix(1 4.03 0 1.196 1112 316.01)" opacity=".025"/><use href="#c01" transform="matrix(1 4.097 0 1.199 1114 324.14)" opacity=".022"/><use href="#c01" transform="matrix(1 4.164 0 1.201 1116 332.41)" opacity=".02"/><use href="#c01" transform="matrix(1 4.232 0 1.203 1118 340.81)" opacity=".018"/><use href="#c01" transform="matrix(1 4.3 0 1.206 1120 349.35)" opacity=".016"/><use href="#c01" transform="matrix(1 4.368 0 1.208 1122 358.02)" opacity=".014"/><use href="#c01" transform="matrix(1 4.436 0 1.21 1124 366.83)" opacity=".013"/><use href="#c01" transform="matrix(1 4.504 0 1.213 1126 375.78)" opacity=".012"/><use href="#c01" transform="matrix(1 4.573 0 1.215 1128 384.86)" opacity=".01"/><use href="#c01" transform="matrix(1 4.642 0 1.217 1130 394.08)" opacity=".009"/><use href="#c01" transform="matrix(1 4.711 0 1.22 1132 403.44)" opacity=".008"/><use href="#c01" transform="matrix(1 4.781 0 1.222 1134 412.94)" opacity=".007"/><use href="#c01" transform="matrix(1 4.851 0 1.224 1136 422.58)" opacity=".006"/><use href="#c01" transform="matrix(1 4.921 0 1.227 1138 432.36)" opacity=".006"/><use href="#c01" transform="matrix(1 4.991 0 1.229 1140 442.28)" opacity=".005"/><use href="#c01" transform="matrix(1 5.062 0 1.231 1142 452.33)" opacity=".004"/></g>
<clipPath id="k02"><rect x="1380.45" y="7.38" width="368.55" height="370.06"/></clipPath><g clip-path="url(#k02)"><use href="#c02" transform="matrix(1 -4.823 0 .65 1391 504.72)" opacity=".004"/><use href="#c02" transform="matrix(1 -4.785 0 .647 1393 495.39)" opacity=".005"/><use href="#c02" transform="matrix(1 -4.746 0 .644 1395 486.14)" opacity=".006"/><use href="#c02" transform="matrix(1 -4.706 0 .641 1397 476.97)" opacity=".006"/><use href="#c02" transform="matrix(1 -4.667 0 .638 1399 467.87)" opacity=".007"/><use href="#c02" transform="matrix(1 -4.626 0 .64 1401 458.79)" opacity=".008"/><use href="#c02" transform="matrix(1 -4.586 0 .642 1403 449.79)" opacity=".009"/><use href="#c02" transform="matrix(1 -4.545 0 .645 1405 440.88)" opacity=".011"/><use href="#c02" transform="matrix(1 -4.503 0 .647 1407 432.04)" opacity=".012"/><use href="#c02" transform="matrix(1 -4.462 0 .649 1409 423.29)" opacity=".013"/><use href="#c02" transform="matrix(1 -4.42 0 .651 1411 414.63)" opacity=".015"/><use href="#c02" transform="matrix(1 -4.377 0 .653 1413 406.04)" opacity=".017"/><use href="#c02" transform="matrix(1 -4.334 0 .656 1415 397.55)" opacity=".019"/><use href="#c02" transform="matrix(1 -4.291 0 .658 1417 389.14)" opacity=".021"/><use href="#c02" transform="matrix(1 -4.247 0 .663 1419 380.73)" opacity=".023"/><use href="#c02" transform="matrix(1 -4.203 0 .668 1421 372.39)" opacity=".026"/><use href="#c02" transform="matrix(1 -4.158 0 .673 1423 364.14)" opacity=".029"/><use href="#c02" transform="matrix(1 -4.113 0 .678 1425 355.98)" opacity=".032"/><use href="#c02" transform="matrix(1 -4.068 0 .684 1427 347.91)" opacity=".035"/><use href="#c02" transform="matrix(1 -4.022 0 .689 1429 339.93)" opacity=".039"/><use href="#c02" transform="matrix(1 -3.976 0 .694 1431 332.05)" opacity=".043"/><use href="#c02" transform="matrix(1 -3.93 0 .7 1433 324.25)" opacity=".047"/><use href="#c02" transform="matrix(1 -3.883 0 .705 1435 316.55)" opacity=".052"/><use href="#c02" transform="matrix(1 -3.836 0 .71 1437 308.91)" opacity=".057"/><use href="#c02" transform="matrix(1 -3.788 0 .716 1439 301.35)" opacity=".062"/><use href="#c02" transform="matrix(1 -3.74 0 .722 1441 293.89)" opacity=".068"/><use href="#c02" transform="matrix(1 -3.692 0 .727 1443 286.51)" opacity=".075"/><use href="#c02" transform="matrix(1 -3.643 0 .733 1445 279.24)" opacity=".081"/><use href="#c02" transform="matrix(1 -3.593 0 .738 1447 272.07)" opacity=".088"/><use href="#c02" transform="matrix(1 -3.544 0 .744 1449 264.99)" opacity=".096"/><use href="#c02" transform="matrix(1 -3.494 0 .75 1451 258.01)" opacity=".104"/><use href="#c02" transform="matrix(1 -3.443 0 .755 1453 251.14)" opacity=".113"/><use href="#c02" transform="matrix(1 -3.393 0 .761 1455 244.35)" opacity=".122"/><use href="#c02" transform="matrix(1 -3.341 0 .766 1457 237.66)" opacity=".132"/><use href="#c02" transform="matrix(1 -3.29 0 .771 1459 231.07)" opacity=".143"/><use href="#c02" transform="matrix(1 -3.238 0 .777 1461 224.58)" opacity=".154"/><use href="#c02" transform="matrix(1 -3.185 0 .782 1463 218.19)" opacity=".166"/><use href="#c02" transform="matrix(1 -3.132 0 .787 1465 211.91)" opacity=".178"/><use href="#c02" transform="matrix(1 -3.079 0 .793 1467 205.74)" opacity=".191"/><use href="#c02" transform="matrix(1 -3.026 0 .798 1469 199.67)" opacity=".204"/><use href="#c02" transform="matrix(1 -2.972 0 .803 1471 193.71)" opacity=".219"/><use href="#c02" transform="matrix(1 -2.917 0 .808 1473 187.86)" opacity=".234"/><use href="#c02" transform="matrix(1 -2.863 0 .813 1475 182.11)" opacity=".249"/><use href="#c02" transform="matrix(1 -2.807 0 .818 1477 176.46)" opacity=".265"/><use href="#c02" transform="matrix(1 -2.752 0 .823 1479 170.93)" opacity=".282"/><use href="#c02" transform="matrix(1 -2.696 0 .828 1481 165.51)" opacity=".3"/><use href="#c02" transform="matrix(1 -2.64 0 .833 1483 160.2)" opacity=".318"/><use href="#c02" transform="matrix(1 -2.583 0 .838 1485 155)" opacity=".336"/><use href="#c02" transform="matrix(1 -2.526 0 .842 1487 149.92)" opacity=".356"/><use href="#c02" transform="matrix(1 -2.468 0 .847 1489 144.95)" opacity=".375"/><use href="#c02" transform="matrix(1 -2.41 0 .852 1491 140.1)" opacity=".396"/><use href="#c02" transform="matrix(1 -2.352 0 .857 1493 135.36)" opacity=".417"/><use href="#c02" transform="matrix(1 -2.293 0 .861 1495 130.73)" opacity=".438"/><use href="#c02" transform="matrix(1 -2.234 0 .866 1497 126.23)" opacity=".46"/><use href="#c02" transform="matrix(1 -2.175 0 .87 1499 121.84)" opacity=".482"/><use href="#c02" transform="matrix(1 -2.115 0 .874 1501 117.57)" opacity=".504"/><use href="#c02" transform="matrix(1 -2.054 0 .879 1503 113.42)" opacity=".527"/><use href="#c02" transform="matrix(1 -1.994 0 .883 1505 109.39)" opacity=".55"/><use href="#c02" transform="matrix(1 -1.933 0 .888 1507 105.48)" opacity=".573"/><use href="#c02" transform="matrix(1 -1.871 0 .892 1509 101.7)" opacity=".596"/><use href="#c02" transform="matrix(1 -1.809 0 .897 1511 98.03)" opacity=".619"/><use href="#c02" transform="matrix(1 -1.747 0 .901 1513 94.49)" opacity=".642"/><use href="#c02" transform="matrix(1 -1.684 0 .905 1515 91.08)" opacity=".665"/><use href="#c02" transform="matrix(1 -1.621 0 .909 1517 87.79)" opacity=".688"/><use href="#c02" transform="matrix(1 -1.558 0 .913 1519 84.62)" opacity=".711"/><use href="#c02" transform="matrix(1 -1.494 0 .917 1521 81.59)" opacity=".733"/><use href="#c02" transform="matrix(1 -1.43 0 .921 1523 78.68)" opacity=".755"/><use href="#c02" transform="matrix(1 -1.365 0 .925 1525 75.9)" opacity=".776"/><use href="#c02" transform="matrix(1 -1.3 0 .93 1527 73.25)" opacity=".797"/><use href="#c02" transform="matrix(1 -1.235 0 .934 1529 70.73)" opacity=".817"/><use href="#c02" transform="matrix(1 -1.169 0 .937 1531 68.33)" opacity=".837"/><use href="#c02" transform="matrix(1 -1.103 0 .941 1533 66.08)" opacity=".856"/><use href="#c02" transform="matrix(1 -1.036 0 .945 1535 63.95)" opacity=".874"/><use href="#c02" transform="matrix(1 -.969 0 .949 1537 61.96)" opacity=".891"/><use href="#c02" transform="matrix(1 -.902 0 .953 1539 60.1)" opacity=".906"/><use href="#c02" transform="matrix(1 -.834 0 .957 1541 58.37)" opacity=".921"/><use href="#c02" transform="matrix(1 -.766 0 .961 1543 56.79)" opacity=".935"/><use href="#c02" transform="matrix(1 -.697 0 .964 1545 55.34)" opacity=".948"/><use href="#c02" transform="matrix(1 -.628 0 .968 1547 54.02)" opacity=".959"/><use href="#c02" transform="matrix(1 -.559 0 .972 1549 52.84)" opacity=".969"/><use href="#c02" transform="matrix(1 -.489 0 .975 1551 51.81)" opacity=".978"/><use href="#c02" transform="matrix(1 -.419 0 .979 1553 50.91)" opacity=".985"/><use href="#c02" transform="matrix(1 -.349 0 .983 1555 50.15)" opacity=".991"/><use href="#c02" transform="matrix(1 -.278 0 .986 1557 49.54)" opacity=".996"/><use href="#c02" transform="matrix(1 -.206 0 .99 1559 49.06)" opacity=".999"/><use href="#c02" transform="matrix(1 -.135 0 .993 1561 48.73)" opacity="1"/><use href="#c02" transform="matrix(1 -.063 0 .997 1563 48.54)" opacity="1"/><use href="#c02" transform="matrix(1 .01 0 1 1565 48.5)" opacity="1"/><use href="#c02" transform="matrix(1 .083 0 1.004 1567 48.6)" opacity=".997"/><use href="#c02" transform="matrix(1 .156 0 1.007 1569 48.85)" opacity=".993"/><use href="#c02" transform="matrix(1 .23 0 1.011 1571 49.25)" opacity=".988"/><use href="#c02" transform="matrix(1 .304 0 1.014 1573 49.79)" opacity=".981"/><use href="#c02" transform="matrix(1 .378 0 1.017 1575 50.48)" opacity=".972"/><use href="#c02" transform="matrix(1 .453 0 1.021 1577 51.32)" opacity=".963"/><use href="#c02" transform="matrix(1 .529 0 1.024 1579 52.31)" opacity=".952"/><use href="#c02" transform="matrix(1 .604 0 1.028 1581 53.46)" opacity=".939"/><use href="#c02" transform="matrix(1 .68 0 1.031 1583 54.75)" opacity=".926"/><use href="#c02" transform="matrix(1 .757 0 1.034 1585 56.19)" opacity=".911"/><use href="#c02" transform="matrix(1 .834 0 1.037 1587 57.79)" opacity=".896"/><use href="#c02" transform="matrix(1 .911 0 1.041 1589 59.55)" opacity=".879"/><use href="#c02" transform="matrix(1 .988 0 1.044 1591 61.45)" opacity=".862"/><use href="#c02" transform="matrix(1 1.067 0 1.047 1593 63.52)" opacity=".843"/><use href="#c02" transform="matrix(1 1.145 0 1.05 1595 65.74)" opacity=".824"/><use href="#c02" transform="matrix(1 1.224 0 1.053 1597 68.11)" opacity=".804"/><use href="#c02" transform="matrix(1 1.303 0 1.057 1599 70.65)" opacity=".783"/><use href="#c02" transform="matrix(1 1.383 0 1.06 1601 73.34)" opacity=".762"/><use href="#c02" transform="matrix(1 1.463 0 1.063 1603 76.19)" opacity=".74"/><use href="#c02" transform="matrix(1 1.543 0 1.066 1605 79.21)" opacity=".718"/><use href="#c02" transform="matrix(1 1.624 0 1.069 1607 82.38)" opacity=".695"/><use href="#c02" transform="matrix(1 1.705 0 1.072 1609 85.72)" opacity=".672"/><use href="#c02" transform="matrix(1 1.787 0 1.075 1611 89.21)" opacity=".649"/><use href="#c02" transform="matrix(1 1.868 0 1.078 1613 92.88)" opacity=".626"/><use href="#c02" transform="matrix(1 1.951 0 1.081 1615 96.7)" opacity=".603"/><use href="#c02" transform="matrix(1 2.034 0 1.084 1617 100.7)" opacity=".58"/><use href="#c02" transform="matrix(1 2.117 0 1.087 1619 104.85)" opacity=".557"/><use href="#c02" transform="matrix(1 2.2 0 1.09 1621 109.18)" opacity=".534"/><use href="#c02" transform="matrix(1 2.284 0 1.093 1623 113.67)" opacity=".511"/><use href="#c02" transform="matrix(1 2.369 0 1.096 1625 118.33)" opacity=".488"/><use href="#c02" transform="matrix(1 2.453 0 1.099 1627 123.16)" opacity=".466"/><use href="#c02" transform="matrix(1 2.538 0 1.102 1629 128.15)" opacity=".444"/><use href="#c02" transform="matrix(1 2.624 0 1.104 1631 133.32)" opacity=".423"/><use href="#c02" transform="matrix(1 2.71 0 1.107 1633 138.66)" opacity=".402"/><use href="#c02" transform="matrix(1 2.796 0 1.11 1635 144.18)" opacity=".381"/><use href="#c02" transform="matrix(1 2.883 0 1.113 1637 149.86)" opacity=".361"/><use href="#c02" transform="matrix(1 2.97 0 1.116 1639 155.72)" opacity=".342"/><use href="#c02" transform="matrix(1 3.057 0 1.119 1641 161.76)" opacity=".323"/><use href="#c02" transform="matrix(1 3.145 0 1.121 1643 167.96)" opacity=".305"/><use href="#c02" transform="matrix(1 3.234 0 1.124 1645 174.35)" opacity=".287"/><use href="#c02" transform="matrix(1 3.322 0 1.127 1647 180.91)" opacity=".27"/><use href="#c02" transform="matrix(1 3.411 0 1.13 1649 187.65)" opacity=".254"/><use href="#c02" transform="matrix(1 3.501 0 1.132 1651 194.57)" opacity=".238"/><use href="#c02" transform="matrix(1 3.591 0 1.135 1653 201.67)" opacity=".223"/><use href="#c02" transform="matrix(1 3.681 0 1.138 1655 208.94)" opacity=".208"/><use href="#c02" transform="matrix(1 3.772 0 1.141 1657 216.4)" opacity=".194"/><use href="#c02" transform="matrix(1 3.863 0 1.143 1659 224.04)" opacity=".181"/><use href="#c02" transform="matrix(1 3.954 0 1.146 1661 231.86)" opacity=".169"/><use href="#c02" transform="matrix(1 4.046 0 1.149 1663 239.87)" opacity=".157"/><use href="#c02" transform="matrix(1 4.138 0 1.151 1665 248.06)" opacity=".146"/><use href="#c02" transform="matrix(1 4.231 0 1.154 1667 256.44)" opacity=".135"/><use href="#c02" transform="matrix(1 4.324 0 1.157 1669 265)" opacity=".125"/><use href="#c02" transform="matrix(1 4.417 0 1.159 1671 273.74)" opacity=".116"/><use href="#c02" transform="matrix(1 4.511 0 1.162 1673 282.68)" opacity=".107"/><use href="#c02" transform="matrix(1 4.605 0 1.164 1675 291.8)" opacity=".098"/><use href="#c02" transform="matrix(1 4.7 0 1.167 1677 301.11)" opacity=".09"/><use href="#c02" transform="matrix(1 4.795 0 1.17 1679 310.61)" opacity=".083"/><use href="#c02" transform="matrix(1 4.89 0 1.172 1681 320.3)" opacity=".076"/><use href="#c02" transform="matrix(1 4.986 0 1.175 1683 330.18)" opacity=".07"/><use href="#c02" transform="matrix(1 5.082 0 1.177 1685 340.25)" opacity=".064"/><use href="#c02" transform="matrix(1 5.179 0 1.18 1687 350.52)" opacity=".058"/><use href="#c02" transform="matrix(1 5.276 0 1.182 1689 360.98)" opacity=".053"/><use href="#c02" transform="matrix(1 5.373 0 1.185 1691 371.63)" opacity=".048"/><use href="#c02" transform="matrix(1 5.471 0 1.187 1693 382.48)" opacity=".044"/><use href="#c02" transform="matrix(1 5.569 0 1.19 1695 393.52)" opacity=".04"/><use href="#c02" transform="matrix(1 5.667 0 1.192 1697 404.77)" opacity=".036"/><use href="#c02" transform="matrix(1 5.766 0 1.195 1699 416.21)" opacity=".033"/><use href="#c02" transform="matrix(1 5.866 0 1.197 1701 427.84)" opacity=".03"/><use href="#c02" transform="matrix(1 5.965 0 1.2 1703 439.68)" opacity=".027"/><use href="#c02" transform="matrix(1 6.065 0 1.202 1705 451.72)" opacity=".024"/><use href="#c02" transform="matrix(1 6.166 0 1.204 1707 463.95)" opacity=".022"/><use href="#c02" transform="matrix(1 6.267 0 1.207 1709 476.39)" opacity=".02"/><use href="#c02" transform="matrix(1 6.368 0 1.209 1711 489.03)" opacity=".018"/><use href="#c02" transform="matrix(1 6.47 0 1.212 1713 501.87)" opacity=".016"/><use href="#c02" transform="matrix(1 6.572 0 1.214 1715 514.92)" opacity=".014"/><use href="#c02" transform="matrix(1 6.674 0 1.216 1717 528.17)" opacity=".013"/><use href="#c02" transform="matrix(1 6.777 0 1.219 1719 541.63)" opacity=".011"/><use href="#c02" transform="matrix(1 6.88 0 1.221 1721 555.29)" opacity=".01"/><use href="#c02" transform="matrix(1 6.984 0 1.223 1723 569.16)" opacity=".009"/><use href="#c02" transform="matrix(1 7.088 0 1.226 1725 583.23)" opacity=".008"/><use href="#c02" transform="matrix(1 7.193 0 1.228 1727 597.52)" opacity=".007"/><use href="#c02" transform="matrix(1 7.297 0 1.231 1729 612.01)" opacity=".006"/><use href="#c02" transform="matrix(1 7.403 0 1.233 1731 626.72)" opacity=".005"/><use href="#c02" transform="matrix(1 7.508 0 1.235 1733 641.63)" opacity=".005"/><use href="#c02" transform="matrix(1 7.614 0 1.237 1735 656.76)" opacity=".004"/></g>
<clipPath id="k10"><rect x="195.25" y="620.33" width="368.55" height="370.06"/></clipPath><g clip-path="url(#k10)"><use href="#c10" transform="matrix(1 -2.077 0 1 208 839.57)" opacity=".004"/><use href="#c10" transform="matrix(1 -2.053 0 1 210 835.44)" opacity=".005"/><use href="#c10" transform="matrix(1 -2.028 0 1 212 831.36)" opacity=".006"/><use href="#c10" transform="matrix(1 -2.004 0 1 214 827.33)" opacity=".006"/><use href="#c10" transform="matrix(1 -1.98 0 1 216 823.34)" opacity=".007"/><use href="#c10" transform="matrix(1 -1.956 0 1 218 819.41)" opacity=".008"/><use href="#c10" transform="matrix(1 -1.932 0 1 220 815.52)" opacity=".009"/><use href="#c10" transform="matrix(1 -1.907 0 1 222 811.68)" opacity=".01"/><use href="#c10" transform="matrix(1 -1.883 0 1 224 807.89)" opacity=".012"/><use href="#c10" transform="matrix(1 -1.859 0 1 226 804.15)" opacity=".013"/><use href="#c10" transform="matrix(1 -1.835 0 1 228 800.46)" opacity=".015"/><use href="#c10" transform="matrix(1 -1.811 0 1 230 796.81)" opacity=".016"/><use href="#c10" transform="matrix(1 -1.786 0 1 232 793.21)" opacity=".018"/><use href="#c10" transform="matrix(1 -1.762 0 1 234 789.67)" opacity=".02"/><use href="#c10" transform="matrix(1 -1.738 0 1 236 786.17)" opacity=".023"/><use href="#c10" transform="matrix(1 -1.714 0 1 238 782.71)" opacity=".025"/><use href="#c10" transform="matrix(1 -1.689 0 1 240 779.31)" opacity=".028"/><use href="#c10" transform="matrix(1 -1.665 0 1 242 775.96)" opacity=".031"/><use href="#c10" transform="matrix(1 -1.641 0 1 244 772.65)" opacity=".034"/><use href="#c10" transform="matrix(1 -1.617 0 1 246 769.39)" opacity=".038"/><use href="#c10" transform="matrix(1 -1.593 0 1 248 766.18)" opacity=".041"/><use href="#c10" transform="matrix(1 -1.568 0 1 250 763.02)" opacity=".046"/><use href="#c10" transform="matrix(1 -1.544 0 1 252 759.91)" opacity=".05"/><use href="#c10" transform="matrix(1 -1.52 0 1 254 756.84)" opacity=".055"/><use href="#c10" transform="matrix(1 -1.496 0 1 256 753.83)" opacity=".06"/><use href="#c10" transform="matrix(1 -1.471 0 1 258 750.86)" opacity=".066"/><use href="#c10" transform="matrix(1 -1.447 0 1 260 747.94)" opacity=".072"/><use href="#c10" transform="matrix(1 -1.423 0 1 262 745.07)" opacity=".079"/><use href="#c10" transform="matrix(1 -1.399 0 1 264 742.25)" opacity=".086"/><use href="#c10" transform="matrix(1 -1.375 0 1 266 739.48)" opacity=".093"/><use href="#c10" transform="matrix(1 -1.35 0 1 268 736.75)" opacity=".101"/><use href="#c10" transform="matrix(1 -1.326 0 1 270 734.08)" opacity=".11"/><use href="#c10" transform="matrix(1 -1.302 0 1 272 731.45)" opacity=".119"/><use href="#c10" transform="matrix(1 -1.278 0 1 274 728.87)" opacity=".129"/><use href="#c10" transform="matrix(1 -1.254 0 1 276 726.34)" opacity=".139"/><use href="#c10" transform="matrix(1 -1.229 0 1 278 723.85)" opacity=".15"/><use href="#c10" transform="matrix(1 -1.205 0 1 280 721.42)" opacity=".162"/><use href="#c10" transform="matrix(1 -1.181 0 1 282 719.03)" opacity=".174"/><use href="#c10" transform="matrix(1 -1.157 0 1 284 716.7)" opacity=".186"/><use href="#c10" transform="matrix(1 -1.132 0 1 286 714.41)" opacity=".2"/><use href="#c10" transform="matrix(1 -1.108 0 1 288 712.17)" opacity=".214"/><use href="#c10" transform="matrix(1 -1.084 0 1 290 709.97)" opacity=".229"/><use href="#c10" transform="matrix(1 -1.06 0 1 292 707.83)" opacity=".244"/><use href="#c10" transform="matrix(1 -1.036 0 1 294 705.73)" opacity=".26"/><use href="#c10" transform="matrix(1 -1.011 0 1 296 703.69)" opacity=".277"/><use href="#c10" transform="matrix(1 -.987 0 1 298 701.69)" opacity=".294"/><use href="#c10" transform="matrix(1 -.963 0 1 300 699.74)" opacity=".312"/><use href="#c10" transform="matrix(1 -.939 0 1 302 697.84)" opacity=".331"/><use href="#c10" transform="matrix(1 -.915 0 1 304 695.98)" opacity=".35"/><use href="#c10" transform="matrix(1 -.89 0 1 306 694.18)" opacity=".37"/><use href="#c10" transform="matrix(1 -.866 0 1 308 692.42)" opacity=".39"/><use href="#c10" transform="matrix(1 -.842 0 1 310 690.71)" opacity=".411"/><use href="#c10" transform="matrix(1 -.818 0 1 312 689.06)" opacity=".432"/><use href="#c10" transform="matrix(1 -.793 0 1 314 687.44)" opacity=".454"/><use href="#c10" transform="matrix(1 -.769 0 1 316 685.88)" opacity=".476"/><use href="#c10" transform="matrix(1 -.745 0 1 318 684.37)" opacity=".498"/><use href="#c10" transform="matrix(1 -.721 0 1 320 682.9)" opacity=".521"/><use href="#c10" transform="matrix(1 -.697 0 1 322 681.48)" opacity=".544"/><use href="#c10" transform="matrix(1 -.672 0 1 324 680.12)" opacity=".567"/><use href="#c10" transform="matrix(1 -.648 0 1 326 678.8)" opacity=".59"/><use href="#c10" transform="matrix(1 -.624 0 1 328 677.52)" opacity=".613"/><use href="#c10" transform="matrix(1 -.6 0 1 330 676.3)" opacity=".637"/><use href="#c10" transform="matrix(1 -.575 0 1 332 675.12)" opacity=".66"/><use href="#c10" transform="matrix(1 -.551 0 1 334 674)" opacity=".683"/><use href="#c10" transform="matrix(1 -.527 0 1 336 672.92)" opacity=".706"/><use href="#c10" transform="matrix(1 -.503 0 1 338 671.89)" opacity=".728"/><use href="#c10" transform="matrix(1 -.479 0 1 340 670.91)" opacity=".75"/><use href="#c10" transform="matrix(1 -.454 0 1 342 669.98)" opacity=".772"/><use href="#c10" transform="matrix(1 -.43 0 1 344 669.09)" opacity=".793"/><use href="#c10" transform="matrix(1 -.406 0 1 346 668.25)" opacity=".813"/><use href="#c10" transform="matrix(1 -.382 0 1 348 667.47)" opacity=".833"/><use href="#c10" transform="matrix(1 -.358 0 1 350 666.73)" opacity=".852"/><use href="#c10" transform="matrix(1 -.333 0 1 352 666.04)" opacity=".87"/><use href="#c10" transform="matrix(1 -.309 0 1 354 665.39)" opacity=".887"/><use href="#c10" transform="matrix(1 -.285 0 1 356 664.8)" opacity=".903"/><use href="#c10" transform="matrix(1 -.261 0 1 358 664.26)" opacity=".918"/><use href="#c10" transform="matrix(1 -.236 0 1 360 663.76)" opacity=".932"/><use href="#c10" transform="matrix(1 -.212 0 1 362 663.31)" opacity=".945"/><use href="#c10" transform="matrix(1 -.188 0 1 364 662.91)" opacity=".957"/><use href="#c10" transform="matrix(1 -.164 0 1 366 662.56)" opacity=".967"/><use href="#c10" transform="matrix(1 -.14 0 1 368 662.25)" opacity=".976"/><use href="#c10" transform="matrix(1 -.115 0 1 370 662)" opacity=".983"/><use href="#c10" transform="matrix(1 -.091 0 1 372 661.79)" opacity=".99"/><use href="#c10" transform="matrix(1 -.067 0 1 374 661.63)" opacity=".994"/><use href="#c10" transform="matrix(1 -.043 0 1 376 661.53)" opacity=".998"/><use href="#c10" transform="matrix(1 -.018 0 1 378 661.46)" opacity="1"/><use href="#c10" transform="matrix(1 .006 0 1 380 661.45)" opacity="1"/><use href="#c10" transform="matrix(1 .03 0 1 382 661.49)" opacity=".999"/><use href="#c10" transform="matrix(1 .054 0 1 384 661.57)" opacity=".996"/><use href="#c10" transform="matrix(1 .078 0 1 386 661.7)" opacity=".992"/><use href="#c10" transform="matrix(1 .103 0 1 388 661.88)" opacity=".987"/><use href="#c10" transform="matrix(1 .127 0 1 390 662.11)" opacity=".98"/><use href="#c10" transform="matrix(1 .151 0 1 392 662.39)" opacity=".972"/><use href="#c10" transform="matrix(1 .175 0 1 394 662.72)" opacity=".962"/><use href="#c10" transform="matrix(1 .199 0 1 396 663.09)" opacity=".951"/><use href="#c10" transform="matrix(1 .224 0 1 398 663.52)" opacity=".939"/><use href="#c10" transform="matrix(1 .248 0 1 400 663.99)" opacity=".926"/><use href="#c10" transform="matrix(1 .272 0 1 402 664.51)" opacity=".911"/><use href="#c10" transform="matrix(1 .296 0 1 404 665.08)" opacity=".896"/><use href="#c10" transform="matrix(1 .321 0 1 406 665.69)" opacity=".879"/><use href="#c10" transform="matrix(1 .345 0 1 408 666.36)" opacity=".861"/><use href="#c10" transform="matrix(1 .369 0 1 410 667.07)" opacity=".843"/><use href="#c10" transform="matrix(1 .393 0 1 412 667.84)" opacity=".824"/><use href="#c10" transform="matrix(1 .417 0 1 414 668.65)" opacity=".804"/><use href="#c10" transform="matrix(1 .442 0 1 416 669.5)" opacity=".783"/><use href="#c10" transform="matrix(1 .466 0 1 418 670.41)" opacity=".762"/><use href="#c10" transform="matrix(1 .49 0 1 420 671.37)" opacity=".74"/><use href="#c10" transform="matrix(1 .514 0 1 422 672.37)" opacity=".717"/><use href="#c10" transform="matrix(1 .539 0 1 424 673.43)" opacity=".695"/><use href="#c10" transform="matrix(1 .563 0 1 426 674.53)" opacity=".672"/><use href="#c10" transform="matrix(1 .587 0 1 428 675.68)" opacity=".649"/><use href="#c10" transform="matrix(1 .611 0 1 430 676.87)" opacity=".626"/><use href="#c10" transform="matrix(1 .635 0 1 432 678.12)" opacity=".602"/><use href="#c10" transform="matrix(1 .66 0 1 434 679.42)" opacity=".579"/><use href="#c10" transform="matrix(1 .684 0 1 436 680.76)" opacity=".556"/><use href="#c10" transform="matrix(1 .708 0 1 438 682.15)" opacity=".533"/><use href="#c10" transform="matrix(1 .732 0 1 440 683.59)" opacity=".51"/><use href="#c10" transform="matrix(1 .756 0 1 442 685.08)" opacity=".488"/><use href="#c10" transform="matrix(1 .781 0 1 444 686.62)" opacity=".465"/><use href="#c10" transform="matrix(1 .805 0 1 446 688.2)" opacity=".443"/><use href="#c10" transform="matrix(1 .829 0 1 448 689.84)" opacity=".422"/><use href="#c10" transform="matrix(1 .853 0 1 450 691.52)" opacity=".401"/><use href="#c10" transform="matrix(1 .878 0 1 452 693.25)" opacity=".38"/><use href="#c10" transform="matrix(1 .902 0 1 454 695.03)" opacity=".36"/><use href="#c10" transform="matrix(1 .926 0 1 456 696.86)" opacity=".341"/><use href="#c10" transform="matrix(1 .95 0 1 458 698.73)" opacity=".322"/><use href="#c10" transform="matrix(1 .974 0 1 460 700.66)" opacity=".304"/><use href="#c10" transform="matrix(1 .999 0 1 462 702.63)" opacity=".286"/><use href="#c10" transform="matrix(1 1.023 0 1 464 704.65)" opacity=".269"/><use href="#c10" transform="matrix(1 1.047 0 1 466 706.72)" opacity=".252"/><use href="#c10" transform="matrix(1 1.071 0 1 468 708.84)" opacity=".237"/><use href="#c10" transform="matrix(1 1.096 0 1 470 711.01)" opacity=".222"/><use href="#c10" transform="matrix(1 1.12 0 1 472 713.22)" opacity=".207"/><use href="#c10" transform="matrix(1 1.144 0 1 474 715.49)" opacity=".193"/><use href="#c10" transform="matrix(1 1.168 0 1 476 717.8)" opacity=".18"/><use href="#c10" transform="matrix(1 1.192 0 1 478 720.16)" opacity=".168"/><use href="#c10" transform="matrix(1 1.217 0 1 480 722.57)" opacity=".156"/><use href="#c10" transform="matrix(1 1.241 0 1 482 725.03)" opacity=".145"/><use href="#c10" transform="matrix(1 1.265 0 1 484 727.53)" opacity=".134"/><use href="#c10" transform="matrix(1 1.289 0 1 486 730.09)" opacity=".124"/><use href="#c10" transform="matrix(1 1.313 0 1 488 732.69)" opacity=".115"/><use href="#c10" transform="matrix(1 1.338 0 1 490 735.34)" opacity=".106"/><use href="#c10" transform="matrix(1 1.362 0 1 492 738.04)" opacity=".097"/><use href="#c10" transform="matrix(1 1.386 0 1 494 740.79)" opacity=".09"/><use href="#c10" transform="matrix(1 1.41 0 1 496 743.59)" opacity=".082"/><use href="#c10" transform="matrix(1 1.435 0 1 498 746.43)" opacity=".076"/><use href="#c10" transform="matrix(1 1.459 0 1 500 749.32)" opacity=".069"/><use href="#c10" transform="matrix(1 1.483 0 1 502 752.27)" opacity=".063"/><use href="#c10" transform="matrix(1 1.507 0 1 504 755.26)" opacity=".058"/><use href="#c10" transform="matrix(1 1.531 0 1 506 758.29)" opacity=".053"/><use href="#c10" transform="matrix(1 1.556 0 1 508 761.38)" opacity=".048"/><use href="#c10" transform="matrix(1 1.58 0 1 510 764.52)" opacity=".044"/><use href="#c10" transform="matrix(1 1.604 0 1 512 767.7)" opacity=".04"/><use href="#c10" transform="matrix(1 1.628 0 1 514 770.93)" opacity=".036"/><use href="#c10" transform="matrix(1 1.653 0 1 516 774.21)" opacity=".032"/><use href="#c10" transform="matrix(1 1.677 0 1 518 777.54)" opacity=".029"/><use href="#c10" transform="matrix(1 1.701 0 1 520 780.92)" opacity=".026"/><use href="#c10" transform="matrix(1 1.725 0 1 522 784.35)" opacity=".024"/><use href="#c10" transform="matrix(1 1.749 0 1 524 787.82)" opacity=".021"/><use href="#c10" transform="matrix(1 1.774 0 1 526 791.34)" opacity=".019"/><use href="#c10" transform="matrix(1 1.798 0 1 528 794.92)" opacity=".017"/><use href="#c10" transform="matrix(1 1.822 0 1 530 798.54)" opacity=".015"/><use href="#c10" transform="matrix(1 1.846 0 1 532 802.2)" opacity=".014"/><use href="#c10" transform="matrix(1 1.87 0 1 534 805.92)" opacity=".012"/><use href="#c10" transform="matrix(1 1.895 0 1 536 809.69)" opacity=".011"/><use href="#c10" transform="matrix(1 1.919 0 1 538 813.5)" opacity=".01"/><use href="#c10" transform="matrix(1 1.943 0 1 540 817.36)" opacity=".009"/><use href="#c10" transform="matrix(1 1.967 0 1 542 821.27)" opacity=".008"/><use href="#c10" transform="matrix(1 1.992 0 1 544 825.23)" opacity=".007"/><use href="#c10" transform="matrix(1 2.016 0 1 546 829.24)" opacity=".006"/><use href="#c10" transform="matrix(1 2.04 0 1 548 833.29)" opacity=".005"/><use href="#c10" transform="matrix(1 2.064 0 1 550 837.4)" opacity=".005"/><use href="#c10" transform="matrix(1 2.088 0 1 552 841.55)" opacity=".004"/></g>
<clipPath id="k11"><rect x="787.85" y="620.33" width="368.55" height="370.06"/></clipPath><g clip-path="url(#k11)"><use href="#c11" transform="matrix(1 -4.168 0 1 800 1020.19)" opacity=".004"/><use href="#c11" transform="matrix(1 -4.12 0 1 802 1011.9)" opacity=".005"/><use href="#c11" transform="matrix(1 -4.072 0 1 804 1003.71)" opacity=".006"/><use href="#c11" transform="matrix(1 -4.023 0 1 806 995.62)" opacity=".006"/><use href="#c11" transform="matrix(1 -3.975 0 1 808 987.62)" opacity=".007"/><use href="#c11" transform="matrix(1 -3.926 0 1 810 979.72)" opacity=".008"/><use href="#c11" transform="matrix(1 -3.878 0 1 812 971.91)" opacity=".009"/><use href="#c11" transform="matrix(1 -3.829 0 1 814 964.21)" opacity=".01"/><use href="#c11" transform="matrix(1 -3.781 0 1 816 956.6)" opacity=".011"/><use href="#c11" transform="matrix(1 -3.732 0 1 818 949.08)" opacity=".013"/><use href="#c11" transform="matrix(1 -3.684 0 1 820 941.67)" opacity=".014"/><use href="#c11" transform="matrix(1 -3.636 0 1 822 934.35)" opacity=".016"/><use href="#c11" transform="matrix(1 -3.587 0 1 824 927.12)" opacity=".018"/><use href="#c11" transform="matrix(1 -3.539 0 1 826 920)" opacity=".02"/><use href="#c11" transform="matrix(1 -3.49 0 1 828 912.97)" opacity=".022"/><use href="#c11" transform="matrix(1 -3.442 0 1 830 906.04)" opacity=".024"/><use href="#c11" transform="matrix(1 -3.393 0 1 832 899.2)" opacity=".027"/><use href="#c11" transform="matrix(1 -3.345 0 1 834 892.46)" opacity=".03"/><use href="#c11" transform="matrix(1 -3.297 0 1 836 885.82)" opacity=".033"/><use href="#c11" transform="matrix(1 -3.248 0 1 838 879.28)" opacity=".036"/><use href="#c11" transform="matrix(1 -3.2 0 1 840 872.83)" opacity=".04"/><use href="#c11" transform="matrix(1 -3.151 0 1 842 866.48)" opacity=".044"/><use href="#c11" transform="matrix(1 -3.103 0 1 844 860.22)" opacity=".049"/><use href="#c11" transform="matrix(1 -3.054 0 1 846 854.07)" opacity=".054"/><use href="#c11" transform="matrix(1 -3.006 0 1 848 848.01)" opacity=".059"/><use href="#c11" transform="matrix(1 -2.958 0 1 850 842.04)" opacity=".064"/><use href="#c11" transform="matrix(1 -2.909 0 1 852 836.18)" opacity=".07"/><use href="#c11" transform="matrix(1 -2.861 0 1 854 830.41)" opacity=".077"/><use href="#c11" transform="matrix(1 -2.812 0 1 856 824.73)" opacity=".084"/><use href="#c11" transform="matrix(1 -2.764 0 1 858 819.16)" opacity=".091"/><use href="#c11" transform="matrix(1 -2.715 0 1 860 813.68)" opacity=".099"/><use href="#c11" transform="matrix(1 -2.667 0 1 862 808.3)" opacity=".107"/><use href="#c11" transform="matrix(1 -2.618 0 1 864 803.01)" opacity=".116"/><use href="#c11" transform="matrix(1 -2.57 0 1 866 797.82)" opacity=".126"/><use href="#c11" transform="matrix(1 -2.522 0 1 868 792.73)" opacity=".136"/><use href="#c11" transform="matrix(1 -2.473 0 1 870 787.74)" opacity=".147"/><use href="#c11" transform="matrix(1 -2.425 0 1 872 782.84)" opacity=".158"/><use href="#c11" transform="matrix(1 -2.376 0 1 874 778.04)" opacity=".17"/><use href="#c11" transform="matrix(1 -2.328 0 1 876 773.33)" opacity=".183"/><use href="#c11" transform="matrix(1 -2.279 0 1 878 768.73)" opacity=".196"/><use href="#c11" transform="matrix(1 -2.231 0 1 880 764.22)" opacity=".21"/><use href="#c11" transform="matrix(1 -2.183 0 1 882 759.8)" opacity=".224"/><use href="#c11" transform="matrix(1 -2.134 0 1 884 755.49)" opacity=".239"/><use href="#c11" transform="matrix(1 -2.086 0 1 886 751.27)" opacity=".255"/><use href="#c11" transform="matrix(1 -2.037 0 1 888 747.14)" opacity=".272"/><use href="#c11" transform="matrix(1 -1.989 0 1 890 743.12)" opacity=".289"/><use href="#c11" transform="matrix(1 -1.94 0 1 892 739.19)" opacity=".307"/><use href="#c11" transform="matrix(1 -1.892 0 1 894 735.36)" opacity=".325"/><use href="#c11" transform="matrix(1 -1.844 0 1 896 731.62)" opacity=".344"/><use href="#c11" transform="matrix(1 -1.795 0 1 898 727.98)" opacity=".364"/><use href="#c11" transform="matrix(1 -1.747 0 1 900 724.44)" opacity=".384"/><use href="#c11" transform="matrix(1 -1.698 0 1 902 720.99)" opacity=".405"/><use href="#c11" transform="matrix(1 -1.65 0 1 904 717.65)" opacity=".426"/><use href="#c11" transform="matrix(1 -1.601 0 1 906 714.4)" opacity=".447"/><use href="#c11" transform="matrix(1 -1.553 0 1 908 711.24)" opacity=".469"/><use href="#c11" transform="matrix(1 -1.504 0 1 910 708.18)" opacity=".491"/><use href="#c11" transform="matrix(1 -1.456 0 1 912 705.22)" opacity=".514"/><use href="#c11" transform="matrix(1 -1.408 0 1 914 702.36)" opacity=".537"/><use href="#c11" transform="matrix(1 -1.359 0 1 916 699.59)" opacity=".56"/><use href="#c11" transform="matrix(1 -1.311 0 1 918 696.92)" opacity=".583"/><use href="#c11" transform="matrix(1 -1.262 0 1 920 694.35)" opacity=".606"/><use href="#c11" transform="matrix(1 -1.214 0 1 922 691.87)" opacity=".63"/><use href="#c11" transform="matrix(1 -1.165 0 1 924 689.49)" opacity=".653"/><use href="#c11" transform="matrix(1 -1.117 0 1 926 687.21)" opacity=".676"/><use href="#c11" transform="matrix(1 -1.069 0 1 928 685.03)" opacity=".699"/><use href="#c11" transform="matrix(1 -1.02 0 1 930 682.94)" opacity=".721"/><use href="#c11" transform="matrix(1 -.972 0 1 932 680.95)" opacity=".744"/><use href="#c11" transform="matrix(1 -.923 0 1 934 679.05)" opacity=".765"/><use href="#c11" transform="matrix(1 -.875 0 1 936 677.25)" opacity=".786"/><use href="#c11" transform="matrix(1 -.826 0 1 938 675.55)" opacity=".807"/><use href="#c11" transform="matrix(1 -.778 0 1 940 673.95)" opacity=".827"/><use href="#c11" transform="matrix(1 -.73 0 1 942 672.44)" opacity=".846"/><use href="#c11" transform="matrix(1 -.681 0 1 944 671.03)" opacity=".865"/><use href="#c11" transform="matrix(1 -.633 0 1 946 669.71)" opacity=".882"/><use href="#c11" transform="matrix(1 -.584 0 1 948 668.5)" opacity=".898"/><use href="#c11" transform="matrix(1 -.536 0 1 950 667.38)" opacity=".914"/><use href="#c11" transform="matrix(1 -.487 0 1 952 666.35)" opacity=".928"/><use href="#c11" transform="matrix(1 -.439 0 1 954 665.43)" opacity=".941"/><use href="#c11" transform="matrix(1 -.391 0 1 956 664.6)" opacity=".953"/><use href="#c11" transform="matrix(1 -.342 0 1 958 663.87)" opacity=".964"/><use href="#c11" transform="matrix(1 -.294 0 1 960 663.23)" opacity=".973"/><use href="#c11" transform="matrix(1 -.245 0 1 962 662.69)" opacity=".981"/><use href="#c11" transform="matrix(1 -.197 0 1 964 662.25)" opacity=".988"/><use href="#c11" transform="matrix(1 -.148 0 1 966 661.9)" opacity=".993"/><use href="#c11" transform="matrix(1 -.1 0 1 968 661.66)" opacity=".997"/><use href="#c11" transform="matrix(1 -.051 0 1 970 661.5)" opacity=".999"/><use href="#c11" transform="matrix(1 -.003 0 1 972 661.45)" opacity="1"/><use href="#c11" transform="matrix(1 .045 0 1 974 661.49)" opacity=".999"/><use href="#c11" transform="matrix(1 .094 0 1 976 661.63)" opacity=".997"/><use href="#c11" transform="matrix(1 .142 0 1 978 661.87)" opacity=".994"/><use href="#c11" transform="matrix(1 .191 0 1 980 662.2)" opacity=".989"/><use href="#c11" transform="matrix(1 .239 0 1 982 662.63)" opacity=".982"/><use href="#c11" transform="matrix(1 .288 0 1 984 663.16)" opacity=".974"/><use href="#c11" transform="matrix(1 .336 0 1 986 663.78)" opacity=".965"/><use href="#c11" transform="matrix(1 .384 0 1 988 664.5)" opacity=".955"/><use href="#c11" transform="matrix(1 .433 0 1 990 665.32)" opacity=".943"/><use href="#c11" transform="matrix(1 .481 0 1 992 666.23)" opacity=".93"/><use href="#c11" transform="matrix(1 .53 0 1 994 667.24)" opacity=".916"/><use href="#c11" transform="matrix(1 .578 0 1 996 668.35)" opacity=".9"/><use href="#c11" transform="matrix(1 .627 0 1 998 669.56)" opacity=".884"/><use href="#c11" transform="matrix(1 .675 0 1 1000 670.86)" opacity=".867"/><use href="#c11" transform="matrix(1 .723 0 1 1002 672.26)" opacity=".849"/><use href="#c11" transform="matrix(1 .772 0 1 1004 673.75)" opacity=".829"/><use href="#c11" transform="matrix(1 .82 0 1 1006 675.34)" opacity=".81"/><use href="#c11" transform="matrix(1 .869 0 1 1008 677.03)" opacity=".789"/><use href="#c11" transform="matrix(1 .917 0 1 1010 678.82)" opacity=".768"/><use href="#c11" transform="matrix(1 .966 0 1 1012 680.7)" opacity=".746"/><use href="#c11" transform="matrix(1 1.014 0 1 1014 682.68)" opacity=".724"/><use href="#c11" transform="matrix(1 1.063 0 1 1016 684.76)" opacity=".702"/><use href="#c11" transform="matrix(1 1.111 0 1 1018 686.93)" opacity=".679"/><use href="#c11" transform="matrix(1 1.159 0 1 1020 689.2)" opacity=".656"/><use href="#c11" transform="matrix(1 1.208 0 1 1022 691.57)" opacity=".633"/><use href="#c11" transform="matrix(1 1.256 0 1 1024 694.03)" opacity=".609"/><use href="#c11" transform="matrix(1 1.305 0 1 1026 696.6)" opacity=".586"/><use href="#c11" transform="matrix(1 1.353 0 1 1028 699.25)" opacity=".563"/><use href="#c11" transform="matrix(1 1.402 0 1 1030 702.01)" opacity=".54"/><use href="#c11" transform="matrix(1 1.45 0 1 1032 704.86)" opacity=".517"/><use href="#c11" transform="matrix(1 1.498 0 1 1034 707.81)" opacity=".494"/><use href="#c11" transform="matrix(1 1.547 0 1 1036 710.85)" opacity=".472"/><use href="#c11" transform="matrix(1 1.595 0 1 1038 714)" opacity=".45"/><use href="#c11" transform="matrix(1 1.644 0 1 1040 717.23)" opacity=".428"/><use href="#c11" transform="matrix(1 1.692 0 1 1042 720.57)" opacity=".407"/><use href="#c11" transform="matrix(1 1.741 0 1 1044 724)" opacity=".386"/><use href="#c11" transform="matrix(1 1.789 0 1 1046 727.53)" opacity=".366"/><use href="#c11" transform="matrix(1 1.837 0 1 1048 731.16)" opacity=".347"/><use href="#c11" transform="matrix(1 1.886 0 1 1050 734.88)" opacity=".328"/><use href="#c11" transform="matrix(1 1.934 0 1 1052 738.7)" opacity=".309"/><use href="#c11" transform="matrix(1 1.983 0 1 1054 742.62)" opacity=".291"/><use href="#c11" transform="matrix(1 2.031 0 1 1056 746.63)" opacity=".274"/><use href="#c11" transform="matrix(1 2.08 0 1 1058 750.75)" opacity=".257"/><use href="#c11" transform="matrix(1 2.128 0 1 1060 754.95)" opacity=".241"/><use href="#c11" transform="matrix(1 2.177 0 1 1062 759.26)" opacity=".226"/><use href="#c11" transform="matrix(1 2.225 0 1 1064 763.66)" opacity=".211"/><use href="#c11" transform="matrix(1 2.273 0 1 1066 768.16)" opacity=".198"/><use href="#c11" transform="matrix(1 2.322 0 1 1068 772.75)" opacity=".184"/><use href="#c11" transform="matrix(1 2.37 0 1 1070 777.44)" opacity=".172"/><use href="#c11" transform="matrix(1 2.419 0 1 1072 782.23)" opacity=".159"/><use href="#c11" transform="matrix(1 2.467 0 1 1074 787.12)" opacity=".148"/><use href="#c11" transform="matrix(1 2.516 0 1 1076 792.1)" opacity=".137"/><use href="#c11" transform="matrix(1 2.564 0 1 1078 797.18)" opacity=".127"/><use href="#c11" transform="matrix(1 2.612 0 1 1080 802.36)" opacity=".117"/><use href="#c11" transform="matrix(1 2.661 0 1 1082 807.63)" opacity=".108"/><use href="#c11" transform="matrix(1 2.709 0 1 1084 813)" opacity=".1"/><use href="#c11" transform="matrix(1 2.758 0 1 1086 818.47)" opacity=".092"/><use href="#c11" transform="matrix(1 2.806 0 1 1088 824.03)" opacity=".084"/><use href="#c11" transform="matrix(1 2.855 0 1 1090 829.69)" opacity=".078"/><use href="#c11" transform="matrix(1 2.903 0 1 1092 835.45)" opacity=".071"/><use href="#c11" transform="matrix(1 2.951 0 1 1094 841.31)" opacity=".065"/><use href="#c11" transform="matrix(1 3 0 1 1096 847.26)" opacity=".059"/><use href="#c11" transform="matrix(1 3.048 0 1 1098 853.3)" opacity=".054"/><use href="#c11" transform="matrix(1 3.097 0 1 1100 859.45)" opacity=".049"/><use href="#c11" transform="matrix(1 3.145 0 1 1102 865.69)" opacity=".045"/><use href="#c11" transform="matrix(1 3.194 0 1 1104 872.03)" opacity=".041"/><use href="#c11" transform="matrix(1 3.242 0 1 1106 878.47)" opacity=".037"/><use href="#c11" transform="matrix(1 3.291 0 1 1108 885)" opacity=".033"/><use href="#c11" transform="matrix(1 3.339 0 1 1110 891.63)" opacity=".03"/><use href="#c11" transform="matrix(1 3.387 0 1 1112 898.35)" opacity=".027"/><use href="#c11" transform="matrix(1 3.436 0 1 1114 905.18)" opacity=".025"/><use href="#c11" transform="matrix(1 3.484 0 1 1116 912.1)" opacity=".022"/><use href="#c11" transform="matrix(1 3.533 0 1 1118 919.12)" opacity=".02"/><use href="#c11" transform="matrix(1 3.581 0 1 1120 926.23)" opacity=".018"/><use href="#c11" transform="matrix(1 3.63 0 1 1122 933.44)" opacity=".016"/><use href="#c11" transform="matrix(1 3.678 0 1 1124 940.75)" opacity=".014"/><use href="#c11" transform="matrix(1 3.726 0 1 1126 948.15)" opacity=".013"/><use href="#c11" transform="matrix(1 3.775 0 1 1128 955.65)" opacity=".011"/><use href="#c11" transform="matrix(1 3.823 0 1 1130 963.25)" opacity=".01"/><use href="#c11" transform="matrix(1 3.872 0 1 1132 970.95)" opacity=".009"/><use href="#c11" transform="matrix(1 3.92 0 1 1134 978.74)" opacity=".008"/><use href="#c11" transform="matrix(1 3.969 0 1 1136 986.63)" opacity=".007"/><use href="#c11" transform="matrix(1 4.017 0 1 1138 994.61)" opacity=".006"/><use href="#c11" transform="matrix(1 4.065 0 1 1140 1002.69)" opacity=".006"/><use href="#c11" transform="matrix(1 4.114 0 1 1142 1010.87)" opacity=".005"/><use href="#c11" transform="matrix(1 4.162 0 1 1144 1019.15)" opacity=".004"/></g>
<clipPath id="k12"><rect x="1380.45" y="620.33" width="368.55" height="370.06"/></clipPath><g clip-path="url(#k12)"><use href="#c12" transform="matrix(1 -6.238 0 1 1393 1197.06)" opacity=".004"/><use href="#c12" transform="matrix(1 -6.165 0 1 1395 1184.66)" opacity=".005"/><use href="#c12" transform="matrix(1 -6.093 0 1 1397 1172.4)" opacity=".006"/><use href="#c12" transform="matrix(1 -6.02 0 1 1399 1160.29)" opacity=".006"/><use href="#c12" transform="matrix(1 -5.947 0 1 1401 1148.32)" opacity=".007"/><use href="#c12" transform="matrix(1 -5.875 0 1 1403 1136.5)" opacity=".008"/><use href="#c12" transform="matrix(1 -5.802 0 1 1405 1124.82)" opacity=".009"/><use href="#c12" transform="matrix(1 -5.729 0 1 1407 1113.29)" opacity=".01"/><use href="#c12" transform="matrix(1 -5.657 0 1 1409 1101.91)" opacity=".012"/><use href="#c12" transform="matrix(1 -5.584 0 1 1411 1090.66)" opacity=".013"/><use href="#c12" transform="matrix(1 -5.512 0 1 1413 1079.57)" opacity=".014"/><use href="#c12" transform="matrix(1 -5.439 0 1 1415 1068.62)" opacity=".016"/><use href="#c12" transform="matrix(1 -5.366 0 1 1417 1057.81)" opacity=".018"/><use href="#c12" transform="matrix(1 -5.294 0 1 1419 1047.15)" opacity=".02"/><use href="#c12" transform="matrix(1 -5.221 0 1 1421 1036.64)" opacity=".022"/><use href="#c12" transform="matrix(1 -5.148 0 1 1423 1026.27)" opacity=".025"/><use href="#c12" transform="matrix(1 -5.076 0 1 1425 1016.05)" opacity=".028"/><use href="#c12" transform="matrix(1 -5.003 0 1 1427 1005.97)" opacity=".03"/><use href="#c12" transform="matrix(1 -4.93 0 1 1429 996.03)" opacity=".034"/><use href="#c12" transform="matrix(1 -4.858 0 1 1431 986.25)" opacity=".037"/><use href="#c12" transform="matrix(1 -4.785 0 1 1433 976.6)" opacity=".041"/><use href="#c12" transform="matrix(1 -4.712 0 1 1435 967.11)" opacity=".045"/><use href="#c12" transform="matrix(1 -4.64 0 1 1437 957.75)" opacity=".05"/><use href="#c12" transform="matrix(1 -4.567 0 1 1439 948.55)" opacity=".055"/><use href="#c12" transform="matrix(1 -4.494 0 1 1441 939.49)" opacity=".06"/><use href="#c12" transform="matrix(1 -4.422 0 1 1443 930.57)" opacity=".065"/><use href="#c12" transform="matrix(1 -4.349 0 1 1445 921.8)" opacity=".071"/><use href="#c12" transform="matrix(1 -4.276 0 1 1447 913.17)" opacity=".078"/><use href="#c12" transform="matrix(1 -4.204 0 1 1449 904.69)" opacity=".085"/><use href="#c12" transform="matrix(1 -4.131 0 1 1451 896.36)" opacity=".093"/><use href="#c12" transform="matrix(1 -4.058 0 1 1453 888.17)" opacity=".101"/><use href="#c12" transform="matrix(1 -3.986 0 1 1455 880.12)" opacity=".109"/><use href="#c12" transform="matrix(1 -3.913 0 1 1457 872.22)" opacity=".118"/><use href="#c12" transform="matrix(1 -3.841 0 1 1459 864.47)" opacity=".128"/><use href="#c12" transform="matrix(1 -3.768 0 1 1461 856.86)" opacity=".138"/><use href="#c12" transform="matrix(1 -3.695 0 1 1463 849.4)" opacity=".149"/><use href="#c12" transform="matrix(1 -3.623 0 1 1465 842.08)" opacity=".16"/><use href="#c12" transform="matrix(1 -3.55 0 1 1467 834.91)" opacity=".172"/><use href="#c12" transform="matrix(1 -3.477 0 1 1469 827.88)" opacity=".185"/><use href="#c12" transform="matrix(1 -3.405 0 1 1471 821)" opacity=".199"/><use href="#c12" transform="matrix(1 -3.332 0 1 1473 814.26)" opacity=".213"/><use href="#c12" transform="matrix(1 -3.259 0 1 1475 807.67)" opacity=".227"/><use href="#c12" transform="matrix(1 -3.187 0 1 1477 801.23)" opacity=".243"/><use href="#c12" transform="matrix(1 -3.114 0 1 1479 794.93)" opacity=".259"/><use href="#c12" transform="matrix(1 -3.041 0 1 1481 788.77)" opacity=".275"/><use href="#c12" transform="matrix(1 -2.969 0 1 1483 782.76)" opacity=".292"/><use href="#c12" transform="matrix(1 -2.896 0 1 1485 776.89)" opacity=".31"/><use href="#c12" transform="matrix(1 -2.823 0 1 1487 771.18)" opacity=".329"/><use href="#c12" transform="matrix(1 -2.751 0 1 1489 765.6)" opacity=".348"/><use href="#c12" transform="matrix(1 -2.678 0 1 1491 760.17)" opacity=".368"/><use href="#c12" transform="matrix(1 -2.605 0 1 1493 754.89)" opacity=".388"/><use href="#c12" transform="matrix(1 -2.533 0 1 1495 749.75)" opacity=".409"/><use href="#c12" transform="matrix(1 -2.46 0 1 1497 744.76)" opacity=".43"/><use href="#c12" transform="matrix(1 -2.388 0 1 1499 739.91)" opacity=".452"/><use href="#c12" transform="matrix(1 -2.315 0 1 1501 735.21)" opacity=".474"/><use href="#c12" transform="matrix(1 -2.242 0 1 1503 730.65)" opacity=".496"/><use href="#c12" transform="matrix(1 -2.17 0 1 1505 726.24)" opacity=".519"/><use href="#c12" transform="matrix(1 -2.097 0 1 1507 721.97)" opacity=".542"/><use href="#c12" transform="matrix(1 -2.024 0 1 1509 717.85)" opacity=".565"/><use href="#c12" transform="matrix(1 -1.952 0 1 1511 713.87)" opacity=".588"/><use href="#c12" transform="matrix(1 -1.879 0 1 1513 710.04)" opacity=".611"/><use href="#c12" transform="matrix(1 -1.806 0 1 1515 706.36)" opacity=".634"/><use href="#c12" transform="matrix(1 -1.734 0 1 1517 702.82)" opacity=".658"/><use href="#c12" transform="matrix(1 -1.661 0 1 1519 699.42)" opacity=".681"/><use href="#c12" transform="matrix(1 -1.588 0 1 1521 696.18)" opacity=".703"/><use href="#c12" transform="matrix(1 -1.516 0 1 1523 693.07)" opacity=".726"/><use href="#c12" transform="matrix(1 -1.443 0 1 1525 690.11)" opacity=".748"/><use href="#c12" transform="matrix(1 -1.37 0 1 1527 687.3)" opacity=".77"/><use href="#c12" transform="matrix(1 -1.298 0 1 1529 684.63)" opacity=".791"/><use href="#c12" transform="matrix(1 -1.225 0 1 1531 682.11)" opacity=".811"/><use href="#c12" transform="matrix(1 -1.152 0 1 1533 679.73)" opacity=".831"/><use href="#c12" transform="matrix(1 -1.08 0 1 1535 677.5)" opacity=".85"/><use href="#c12" transform="matrix(1 -1.007 0 1 1537 675.41)" opacity=".868"/><use href="#c12" transform="matrix(1 -.934 0 1 1539 673.47)" opacity=".885"/><use href="#c12" transform="matrix(1 -.862 0 1 1541 671.67)" opacity=".902"/><use href="#c12" transform="matrix(1 -.789 0 1 1543 670.02)" opacity=".917"/><use href="#c12" transform="matrix(1 -.717 0 1 1545 668.52)" opacity=".931"/><use href="#c12" transform="matrix(1 -.644 0 1 1547 667.16)" opacity=".944"/><use href="#c12" transform="matrix(1 -.571 0 1 1549 665.94)" opacity=".956"/><use href="#c12" transform="matrix(1 -.499 0 1 1551 664.87)" opacity=".966"/><use href="#c12" transform="matrix(1 -.426 0 1 1553 663.95)" opacity=".975"/><use href="#c12" transform="matrix(1 -.353 0 1 1555 663.17)" opacity=".983"/><use href="#c12" transform="matrix(1 -.281 0 1 1557 662.53)" opacity=".989"/><use href="#c12" transform="matrix(1 -.208 0 1 1559 662.05)" opacity=".994"/><use href="#c12" transform="matrix(1 -.135 0 1 1561 661.7)" opacity=".997"/><use href="#c12" transform="matrix(1 -.063 0 1 1563 661.5)" opacity=".999"/><use href="#c12" transform="matrix(1 .01 0 1 1565 661.45)" opacity="1"/><use href="#c12" transform="matrix(1 .083 0 1 1567 661.54)" opacity=".999"/><use href="#c12" transform="matrix(1 .155 0 1 1569 661.78)" opacity=".997"/><use href="#c12" transform="matrix(1 .228 0 1 1571 662.17)" opacity=".993"/><use href="#c12" transform="matrix(1 .301 0 1 1573 662.69)" opacity=".987"/><use href="#c12" transform="matrix(1 .373 0 1 1575 663.37)" opacity=".981"/><use href="#c12" transform="matrix(1 .446 0 1 1577 664.19)" opacity=".973"/><use href="#c12" transform="matrix(1 .519 0 1 1579 665.15)" opacity=".963"/><use href="#c12" transform="matrix(1 .591 0 1 1581 666.26)" opacity=".952"/><use href="#c12" transform="matrix(1 .664 0 1 1583 667.52)" opacity=".94"/><use href="#c12" transform="matrix(1 .737 0 1 1585 668.92)" opacity=".927"/><use href="#c12" transform="matrix(1 .809 0 1 1587 670.46)" opacity=".913"/><use href="#c12" transform="matrix(1 .882 0 1 1589 672.15)" opacity=".897"/><use href="#c12" transform="matrix(1 .954 0 1 1591 673.99)" opacity=".881"/><use href="#c12" transform="matrix(1 1.027 0 1 1593 675.97)" opacity=".863"/><use href="#c12" transform="matrix(1 1.1 0 1 1595 678.1)" opacity=".845"/><use href="#c12" transform="matrix(1 1.172 0 1 1597 680.37)" opacity=".826"/><use href="#c12" transform="matrix(1 1.245 0 1 1599 682.79)" opacity=".806"/><use href="#c12" transform="matrix(1 1.318 0 1 1601 685.35)" opacity=".785"/><use href="#c12" transform="matrix(1 1.39 0 1 1603 688.06)" opacity=".764"/><use href="#c12" transform="matrix(1 1.463 0 1 1605 690.91)" opacity=".742"/><use href="#c12" transform="matrix(1 1.536 0 1 1607 693.91)" opacity=".72"/><use href="#c12" transform="matrix(1 1.608 0 1 1609 697.05)" opacity=".697"/><use href="#c12" transform="matrix(1 1.681 0 1 1611 700.34)" opacity=".674"/><use href="#c12" transform="matrix(1 1.754 0 1 1613 703.78)" opacity=".651"/><use href="#c12" transform="matrix(1 1.826 0 1 1615 707.36)" opacity=".628"/><use href="#c12" transform="matrix(1 1.899 0 1 1617 711.08)" opacity=".605"/><use href="#c12" transform="matrix(1 1.972 0 1 1619 714.95)" opacity=".581"/><use href="#c12" transform="matrix(1 2.044 0 1 1621 718.97)" opacity=".558"/><use href="#c12" transform="matrix(1 2.117 0 1 1623 723.13)" opacity=".535"/><use href="#c12" transform="matrix(1 2.19 0 1 1625 727.44)" opacity=".512"/><use href="#c12" transform="matrix(1 2.262 0 1 1627 731.89)" opacity=".49"/><use href="#c12" transform="matrix(1 2.335 0 1 1629 736.49)" opacity=".467"/><use href="#c12" transform="matrix(1 2.407 0 1 1631 741.23)" opacity=".446"/><use href="#c12" transform="matrix(1 2.48 0 1 1633 746.12)" opacity=".424"/><use href="#c12" transform="matrix(1 2.553 0 1 1635 751.15)" opacity=".403"/><use href="#c12" transform="matrix(1 2.625 0 1 1637 756.33)" opacity=".382"/><use href="#c12" transform="matrix(1 2.698 0 1 1639 761.65)" opacity=".362"/><use href="#c12" transform="matrix(1 2.771 0 1 1641 767.12)" opacity=".343"/><use href="#c12" transform="matrix(1 2.843 0 1 1643 772.73)" opacity=".324"/><use href="#c12" transform="matrix(1 2.916 0 1 1645 778.49)" opacity=".305"/><use href="#c12" transform="matrix(1 2.989 0 1 1647 784.4)" opacity=".288"/><use href="#c12" transform="matrix(1 3.061 0 1 1649 790.45)" opacity=".271"/><use href="#c12" transform="matrix(1 3.134 0 1 1651 796.64)" opacity=".254"/><use href="#c12" transform="matrix(1 3.207 0 1 1653 802.98)" opacity=".238"/><use href="#c12" transform="matrix(1 3.279 0 1 1655 809.47)" opacity=".223"/><use href="#c12" transform="matrix(1 3.352 0 1 1657 816.1)" opacity=".209"/><use href="#c12" transform="matrix(1 3.425 0 1 1659 822.88)" opacity=".195"/><use href="#c12" transform="matrix(1 3.497 0 1 1661 829.8)" opacity=".182"/><use href="#c12" transform="matrix(1 3.57 0 1 1663 836.87)" opacity=".169"/><use href="#c12" transform="matrix(1 3.643 0 1 1665 844.08)" opacity=".157"/><use href="#c12" transform="matrix(1 3.715 0 1 1667 851.44)" opacity=".146"/><use href="#c12" transform="matrix(1 3.788 0 1 1669 858.94)" opacity=".135"/><use href="#c12" transform="matrix(1 3.861 0 1 1671 866.59)" opacity=".125"/><use href="#c12" transform="matrix(1 3.933 0 1 1673 874.38)" opacity=".116"/><use href="#c12" transform="matrix(1 4.006 0 1 1675 882.32)" opacity=".107"/><use href="#c12" transform="matrix(1 4.078 0 1 1677 890.41)" opacity=".098"/><use href="#c12" transform="matrix(1 4.151 0 1 1679 898.64)" opacity=".09"/><use href="#c12" transform="matrix(1 4.224 0 1 1681 907.01)" opacity=".083"/><use href="#c12" transform="matrix(1 4.296 0 1 1683 915.53)" opacity=".076"/><use href="#c12" transform="matrix(1 4.369 0 1 1685 924.2)" opacity=".07"/><use href="#c12" transform="matrix(1 4.442 0 1 1687 933.01)" opacity=".064"/><use href="#c12" transform="matrix(1 4.514 0 1 1689 941.96)" opacity=".058"/><use href="#c12" transform="matrix(1 4.587 0 1 1691 951.06)" opacity=".053"/><use href="#c12" transform="matrix(1 4.66 0 1 1693 960.31)" opacity=".048"/><use href="#c12" transform="matrix(1 4.732 0 1 1695 969.7)" opacity=".044"/><use href="#c12" transform="matrix(1 4.805 0 1 1697 979.24)" opacity=".04"/><use href="#c12" transform="matrix(1 4.878 0 1 1699 988.92)" opacity=".036"/><use href="#c12" transform="matrix(1 4.95 0 1 1701 998.75)" opacity=".033"/><use href="#c12" transform="matrix(1 5.023 0 1 1703 1008.72)" opacity=".03"/><use href="#c12" transform="matrix(1 5.096 0 1 1705 1018.84)" opacity=".027"/><use href="#c12" transform="matrix(1 5.168 0 1 1707 1029.11)" opacity=".024"/><use href="#c12" transform="matrix(1 5.241 0 1 1709 1039.52)" opacity=".022"/><use href="#c12" transform="matrix(1 5.314 0 1 1711 1050.07)" opacity=".019"/><use href="#c12" transform="matrix(1 5.386 0 1 1713 1060.77)" opacity=".017"/><use href="#c12" transform="matrix(1 5.459 0 1 1715 1071.61)" opacity=".016"/><use href="#c12" transform="matrix(1 5.532 0 1 1717 1082.61)" opacity=".014"/><use href="#c12" transform="matrix(1 5.604 0 1 1719 1093.74)" opacity=".013"/><use href="#c12" transform="matrix(1 5.677 0 1 1721 1105.02)" opacity=".011"/><use href="#c12" transform="matrix(1 5.749 0 1 1723 1116.45)" opacity=".01"/><use href="#c12" transform="matrix(1 5.822 0 1 1725 1128.02)" opacity=".009"/><use href="#c12" transform="matrix(1 5.895 0 1 1727 1139.74)" opacity=".008"/><use href="#c12" transform="matrix(1 5.967 0 1 1729 1151.6)" opacity=".007"/><use href="#c12" transform="matrix(1 6.04 0 1 1731 1163.61)" opacity=".006"/><use href="#c12" transform="matrix(1 6.113 0 1 1733 1175.76)" opacity=".005"/><use href="#c12" transform="matrix(1 6.185 0 1 1735 1188.06)" opacity=".005"/><use href="#c12" transform="matrix(1 6.258 0 1 1737 1200.5)" opacity=".004"/></g>
<path d="M232.1 384.58v-8.3M305.81 384.58v-8.3M379.52 384.58v-8.3M453.23 384.58v-8.3M526.94 384.58v-8.3M187.36 48.5h8.3M187.36 130.74h8.3M187.36 212.97h8.3M187.36 295.2h8.3M187.36 377.44h8.3" stroke="#666" stroke-width="1" fill="none"/>
<rect x="187.36" y=".25" width="384.33" height="384.33" fill="none" stroke="#666" stroke-width="1.5"/>
<clipPath id="lc00"><rect x="187.36" y="1.15" width="382.43" height="100"/></clipPath>
<g clip-path="url(#lc00)"><rect x="482.26" y="-9.75" width="90.2" height="76.45" fill="#5e81b5" stroke="#000" stroke-width="4"/></g>
<text x="495.86" y="44.65" font-size="36">k=1</text>
<g font-size="42"><text x="232.1" y="432.1" text-anchor="middle"><tspan dy="3.3" stroke="#000" stroke-width="0.5">−</tspan><tspan dy="-3.3" dx=".3">2</tspan></text><text x="305.81" y="432.1" text-anchor="middle"><tspan dy="3.3" stroke="#000" stroke-width="0.5">−</tspan><tspan dy="-3.3" dx=".3">1</tspan></text><text x="379.52" y="432.1" text-anchor="middle">0</text><text x="453.23" y="432.1" text-anchor="middle">1</text><text x="526.94" y="432.1" text-anchor="middle">2</text><text x="178.7" y="63.1" text-anchor="end">0.</text><text x="178.7" y="145.34" text-anchor="end"><tspan dy="3.3" stroke="#000" stroke-width="0.5">−</tspan><tspan dy="-3.3" dx=".3">5.</tspan></text><text x="178.7" y="227.57" text-anchor="end"><tspan dy="3.3" stroke="#000" stroke-width="0.5">−</tspan><tspan dy="-3.3" dx=".3">10.</tspan></text><text x="178.7" y="309.81" text-anchor="end"><tspan dy="3.3" stroke="#000" stroke-width="0.5">−</tspan><tspan dy="-3.3" dx=".3">15.</tspan></text><text x="178.7" y="392.04" text-anchor="end"><tspan dy="3.3" stroke="#000" stroke-width="0.5">−</tspan><tspan dy="-3.3" dx=".3">20.</tspan></text></g>
<text x="379.12" y="505.55" font-size="48" text-anchor="middle">q</text>
<text transform="translate(63.96 192.65) rotate(-90)" font-size="48" text-anchor="middle">p</text>
<path d="M824.71 384.58v-8.3M898.41 384.58v-8.3M972.12 384.58v-8.3M1045.84 384.58v-8.3M1119.55 384.58v-8.3M779.96 48.5h8.3M779.96 130.74h8.3M779.96 212.97h8.3M779.96 295.2h8.3M779.96 377.44h8.3" stroke="#666" stroke-width="1" fill="none"/>
<rect x="779.96" y=".25" width="384.33" height="384.33" fill="none" stroke="#666" stroke-width="1.5"/>
<clipPath id="lc01"><rect x="779.96" y="1.15" width="385.93" height="100"/></clipPath>
<g clip-path="url(#lc01)"><rect x="1074.86" y="-9.75" width="90.2" height="76.45" fill="#e19c24" stroke="#000" stroke-width="4"/></g>
<text x="1088.46" y="44.65" font-size="36">k=2</text>
<g font-size="42"><text x="824.71" y="432.1" text-anchor="middle"><tspan dy="3.3" stroke="#000" stroke-width="0.5">−</tspan><tspan dy="-3.3" dx=".3">2</tspan></text><text x="898.41" y="432.1" text-anchor="middle"><tspan dy="3.3" stroke="#000" stroke-width="0.5">−</tspan><tspan dy="-3.3" dx=".3">1</tspan></text><text x="972.12" y="432.1" text-anchor="middle">0</text><text x="1045.84" y="432.1" text-anchor="middle">1</text><text x="1119.55" y="432.1" text-anchor="middle">2</text><text x="771.3" y="63.1" text-anchor="end">0.</text><text x="771.3" y="145.34" text-anchor="end"><tspan dy="3.3" stroke="#000" stroke-width="0.5">−</tspan><tspan dy="-3.3" dx=".3">5.</tspan></text><text x="771.3" y="227.57" text-anchor="end"><tspan dy="3.3" stroke="#000" stroke-width="0.5">−</tspan><tspan dy="-3.3" dx=".3">10.</tspan></text><text x="771.3" y="309.81" text-anchor="end"><tspan dy="3.3" stroke="#000" stroke-width="0.5">−</tspan><tspan dy="-3.3" dx=".3">15.</tspan></text><text x="771.3" y="392.04" text-anchor="end"><tspan dy="3.3" stroke="#000" stroke-width="0.5">−</tspan><tspan dy="-3.3" dx=".3">20.</tspan></text></g>
<text x="971.73" y="505.55" font-size="48" text-anchor="middle">q</text>
<text transform="translate(656.56 192.65) rotate(-90)" font-size="48" text-anchor="middle">p</text>
<path d="M1417.3 384.58v-8.3M1491.01 384.58v-8.3M1564.72 384.58v-8.3M1638.43 384.58v-8.3M1712.14 384.58v-8.3M1372.56 48.5h8.3M1372.56 130.74h8.3M1372.56 212.97h8.3M1372.56 295.2h8.3M1372.56 377.44h8.3" stroke="#666" stroke-width="1" fill="none"/>
<rect x="1372.56" y=".25" width="384.33" height="384.33" fill="none" stroke="#666" stroke-width="1.5"/>
<clipPath id="lc02"><rect x="1372.56" y="1.15" width="385.28" height="100"/></clipPath>
<g clip-path="url(#lc02)"><rect x="1667.46" y="-9.75" width="90.2" height="76.45" fill="#8fb032" stroke="#000" stroke-width="4"/></g>
<text x="1681.06" y="44.65" font-size="36">k=3</text>
<g font-size="42"><text x="1417.3" y="432.1" text-anchor="middle"><tspan dy="3.3" stroke="#000" stroke-width="0.5">−</tspan><tspan dy="-3.3" dx=".3">2</tspan></text><text x="1491.01" y="432.1" text-anchor="middle"><tspan dy="3.3" stroke="#000" stroke-width="0.5">−</tspan><tspan dy="-3.3" dx=".3">1</tspan></text><text x="1564.72" y="432.1" text-anchor="middle">0</text><text x="1638.43" y="432.1" text-anchor="middle">1</text><text x="1712.14" y="432.1" text-anchor="middle">2</text><text x="1363.9" y="63.1" text-anchor="end">0.</text><text x="1363.9" y="145.34" text-anchor="end"><tspan dy="3.3" stroke="#000" stroke-width="0.5">−</tspan><tspan dy="-3.3" dx=".3">5.</tspan></text><text x="1363.9" y="227.57" text-anchor="end"><tspan dy="3.3" stroke="#000" stroke-width="0.5">−</tspan><tspan dy="-3.3" dx=".3">10.</tspan></text><text x="1363.9" y="309.81" text-anchor="end"><tspan dy="3.3" stroke="#000" stroke-width="0.5">−</tspan><tspan dy="-3.3" dx=".3">15.</tspan></text><text x="1363.9" y="392.04" text-anchor="end"><tspan dy="3.3" stroke="#000" stroke-width="0.5">−</tspan><tspan dy="-3.3" dx=".3">20.</tspan></text></g>
<text x="1564.32" y="505.55" font-size="48" text-anchor="middle">q</text>
<text transform="translate(1249.16 192.65) rotate(-90)" font-size="48" text-anchor="middle">p</text>
<path d="M232.1 997.53v-8.3M305.81 997.53v-8.3M379.52 997.53v-8.3M453.23 997.53v-8.3M526.94 997.53v-8.3M187.36 661.45h8.3M187.36 743.69h8.3M187.36 825.92h8.3M187.36 908.15h8.3M187.36 990.39h8.3" stroke="#666" stroke-width="1" fill="none"/>
<rect x="187.36" y="613.2" width="384.33" height="384.33" fill="none" stroke="#666" stroke-width="1.5"/>
<clipPath id="lc10"><rect x="187.36" y="614.1" width="382.43" height="100"/></clipPath>
<g clip-path="url(#lc10)"><rect x="482.26" y="603.2" width="90.2" height="76.45" fill="#5e81b5" stroke="#000" stroke-width="4"/></g>
<text x="495.86" y="657.6" font-size="36">k=1</text>
<g font-size="42"><text x="232.1" y="1045.05" text-anchor="middle"><tspan dy="3.3" stroke="#000" stroke-width="0.5">−</tspan><tspan dy="-3.3" dx=".3">2</tspan></text><text x="305.81" y="1045.05" text-anchor="middle"><tspan dy="3.3" stroke="#000" stroke-width="0.5">−</tspan><tspan dy="-3.3" dx=".3">1</tspan></text><text x="379.52" y="1045.05" text-anchor="middle">0</text><text x="453.23" y="1045.05" text-anchor="middle">1</text><text x="526.94" y="1045.05" text-anchor="middle">2</text><text x="178.7" y="676.05" text-anchor="end">0.</text><text x="178.7" y="758.29" text-anchor="end"><tspan dy="3.3" stroke="#000" stroke-width="0.5">−</tspan><tspan dy="-3.3" dx=".3">5.</tspan></text><text x="178.7" y="840.52" text-anchor="end"><tspan dy="3.3" stroke="#000" stroke-width="0.5">−</tspan><tspan dy="-3.3" dx=".3">10.</tspan></text><text x="178.7" y="922.75" text-anchor="end"><tspan dy="3.3" stroke="#000" stroke-width="0.5">−</tspan><tspan dy="-3.3" dx=".3">15.</tspan></text><text x="178.7" y="1004.99" text-anchor="end"><tspan dy="3.3" stroke="#000" stroke-width="0.5">−</tspan><tspan dy="-3.3" dx=".3">20.</tspan></text></g>
<text x="379.12" y="1118.5" font-size="48" text-anchor="middle">q</text>
<text transform="translate(63.96 805.6) rotate(-90)" font-size="48" text-anchor="middle">p</text>
<path d="M824.71 997.53v-8.3M898.41 997.53v-8.3M972.12 997.53v-8.3M1045.84 997.53v-8.3M1119.55 997.53v-8.3M779.96 661.45h8.3M779.96 743.69h8.3M779.96 825.92h8.3M779.96 908.15h8.3M779.96 990.39h8.3" stroke="#666" stroke-width="1" fill="none"/>
<rect x="779.96" y="613.2" width="384.33" height="384.33" fill="none" stroke="#666" stroke-width="1.5"/>
<clipPath id="lc11"><rect x="779.96" y="614.1" width="385.93" height="100"/></clipPath>
<g clip-path="url(#lc11)"><rect x="1074.86" y="603.2" width="90.2" height="76.45" fill="#e19c24" stroke="#000" stroke-width="4"/></g>
<text x="1088.46" y="657.6" font-size="36">k=2</text>
<g font-size="42"><text x="824.71" y="1045.05" text-anchor="middle"><tspan dy="3.3" stroke="#000" stroke-width="0.5">−</tspan><tspan dy="-3.3" dx=".3">2</tspan></text><text x="898.41" y="1045.05" text-anchor="middle"><tspan dy="3.3" stroke="#000" stroke-width="0.5">−</tspan><tspan dy="-3.3" dx=".3">1</tspan></text><text x="972.12" y="1045.05" text-anchor="middle">0</text><text x="1045.84" y="1045.05" text-anchor="middle">1</text><text x="1119.55" y="1045.05" text-anchor="middle">2</text><text x="771.3" y="676.05" text-anchor="end">0.</text><text x="771.3" y="758.29" text-anchor="end"><tspan dy="3.3" stroke="#000" stroke-width="0.5">−</tspan><tspan dy="-3.3" dx=".3">5.</tspan></text><text x="771.3" y="840.52" text-anchor="end"><tspan dy="3.3" stroke="#000" stroke-width="0.5">−</tspan><tspan dy="-3.3" dx=".3">10.</tspan></text><text x="771.3" y="922.75" text-anchor="end"><tspan dy="3.3" stroke="#000" stroke-width="0.5">−</tspan><tspan dy="-3.3" dx=".3">15.</tspan></text><text x="771.3" y="1004.99" text-anchor="end"><tspan dy="3.3" stroke="#000" stroke-width="0.5">−</tspan><tspan dy="-3.3" dx=".3">20.</tspan></text></g>
<text x="971.73" y="1118.5" font-size="48" text-anchor="middle">q</text>
<text transform="translate(656.56 805.6) rotate(-90)" font-size="48" text-anchor="middle">p</text>
<path d="M1417.3 997.53v-8.3M1491.01 997.53v-8.3M1564.72 997.53v-8.3M1638.43 997.53v-8.3M1712.14 997.53v-8.3M1372.56 661.45h8.3M1372.56 743.69h8.3M1372.56 825.92h8.3M1372.56 908.15h8.3M1372.56 990.39h8.3" stroke="#666" stroke-width="1" fill="none"/>
<rect x="1372.56" y="613.2" width="384.33" height="384.33" fill="none" stroke="#666" stroke-width="1.5"/>
<clipPath id="lc12"><rect x="1372.56" y="614.1" width="385.28" height="100"/></clipPath>
<g clip-path="url(#lc12)"><rect x="1667.46" y="603.2" width="90.2" height="76.45" fill="#8fb032" stroke="#000" stroke-width="4"/></g>
<text x="1681.06" y="657.6" font-size="36">k=3</text>
<g font-size="42"><text x="1417.3" y="1045.05" text-anchor="middle"><tspan dy="3.3" stroke="#000" stroke-width="0.5">−</tspan><tspan dy="-3.3" dx=".3">2</tspan></text><text x="1491.01" y="1045.05" text-anchor="middle"><tspan dy="3.3" stroke="#000" stroke-width="0.5">−</tspan><tspan dy="-3.3" dx=".3">1</tspan></text><text x="1564.72" y="1045.05" text-anchor="middle">0</text><text x="1638.43" y="1045.05" text-anchor="middle">1</text><text x="1712.14" y="1045.05" text-anchor="middle">2</text><text x="1363.9" y="676.05" text-anchor="end">0.</text><text x="1363.9" y="758.29" text-anchor="end"><tspan dy="3.3" stroke="#000" stroke-width="0.5">−</tspan><tspan dy="-3.3" dx=".3">5.</tspan></text><text x="1363.9" y="840.52" text-anchor="end"><tspan dy="3.3" stroke="#000" stroke-width="0.5">−</tspan><tspan dy="-3.3" dx=".3">10.</tspan></text><text x="1363.9" y="922.75" text-anchor="end"><tspan dy="3.3" stroke="#000" stroke-width="0.5">−</tspan><tspan dy="-3.3" dx=".3">15.</tspan></text><text x="1363.9" y="1004.99" text-anchor="end"><tspan dy="3.3" stroke="#000" stroke-width="0.5">−</tspan><tspan dy="-3.3" dx=".3">20.</tspan></text></g>
<text x="1564.32" y="1118.5" font-size="48" text-anchor="middle">q</text>
<text transform="translate(1249.16 805.6) rotate(-90)" font-size="48" text-anchor="middle">p</text>
<clipPath id="cbl"><rect x="207.0" y="1214.8" width="682.6" height="422.1"/></clipPath>
<path d="M207 1409.62L889.6 1409.62" stroke="#000" stroke-width="1.5" fill="none"/><path d="M626.44 1214.8L626.44 1636.9" stroke="#000" stroke-width="1.5" fill="none"/>
<g clip-path="url(#cbl)" fill="none" stroke-width="6.9">
<path d="M207 1052.5L208.7 1052.5L210.4 1052.5L212.1 1052.5L213.8 1052.5L215.6 1052.5L217.3 1052.5L219 1052.5L220.7 1052.5L222.4 1052.5L224.1 1052.5L225.8 1052.5L227.5 1052.5L229.2 1052.5L231 1060.5L232.7 1072.1L234.4 1083.5L236.1 1094.7L237.8 1105.6L239.5 1116.4L241.2 1126.9L242.9 1137.2L244.6 1147.3L246.3 1157.2L248.1 1166.9L249.8 1176.4L251.5 1185.7L253.2 1194.8L254.9 1203.7L256.6 1212.5L258.3 1221L260 1229.3L261.7 1237.5L263.5 1245.5L265.2 1253.3L266.9 1260.9L268.6 1268.3L270.3 1275.6L272 1282.7L273.7 1289.7L275.4 1296.4L277.1 1303L278.9 1309.5L280.6 1315.8L282.3 1321.9L284 1327.9L285.7 1333.7L287.4 1339.4L289.1 1344.9L290.8 1350.3L292.5 1355.5L294.2 1360.6L296 1365.6L297.7 1370.4L299.4 1375.1L301.1 1379.6L302.8 1384L304.5 1388.3L306.2 1392.5L307.9 1396.5L309.6 1400.4L311.4 1404.2L313.1 1407.9L314.8 1411.4L316.5 1414.9L318.2 1418.2L319.9 1421.4L321.6 1424.5L323.3 1427.5L325 1430.4L326.8 1433.2L328.5 1435.9L330.2 1438.4L331.9 1440.9L333.6 1443.3L335.3 1445.6L337 1447.8L338.7 1449.9L340.4 1451.9L342.2 1453.8L343.9 1455.6L345.6 1457.4L347.3 1459L349 1460.6L350.7 1462.1L352.4 1463.6L354.1 1464.9L355.8 1466.2L357.5 1467.4L359.3 1468.5L361 1469.6L362.7 1470.5L364.4 1471.5L366.1 1472.3L367.8 1473.1L369.5 1473.8L371.2 1474.5L372.9 1475.1L374.7 1475.6L376.4 1476.1L378.1 1476.5L379.8 1476.9L381.5 1477.2L383.2 1477.5L384.9 1477.7L386.6 1477.9L388.3 1478L390.1 1478.1L391.8 1478.1L393.5 1478.1L395.2 1478L396.9 1477.9L398.6 1477.8L400.3 1477.6L402 1477.4L403.7 1477.1L405.5 1476.9L407.2 1476.5L408.9 1476.2L410.6 1475.8L412.3 1475.4L414 1474.9L415.7 1474.5L417.4 1473.9L419.1 1473.4L420.8 1472.9L422.6 1472.3L424.3 1471.7L426 1471.1L427.7 1470.4L429.4 1469.7L431.1 1469.1L432.8 1468.4L434.5 1467.6L436.2 1466.9L438 1466.1L439.7 1465.4L441.4 1464.6L443.1 1463.8L444.8 1463L446.5 1462.2L448.2 1461.4L449.9 1460.5L451.6 1459.7L453.4 1458.8L455.1 1458L456.8 1457.1L458.5 1456.2L460.2 1455.4L461.9 1454.5L463.6 1453.6L465.3 1452.7L467 1451.8L468.7 1450.9L470.5 1450L472.2 1449.2L473.9 1448.3L475.6 1447.4L477.3 1446.5L479 1445.6L480.7 1444.7L482.4 1443.9L484.1 1443L485.9 1442.1L487.6 1441.3L489.3 1440.4L491 1439.6L492.7 1438.7L494.4 1437.9L496.1 1437.1L497.8 1436.2L499.5 1435.4L501.3 1434.6L503 1433.8L504.7 1433.1L506.4 1432.3L508.1 1431.5L509.8 1430.8L511.5 1430L513.2 1429.3L514.9 1428.6L516.7 1427.9L518.4 1427.2L520.1 1426.5L521.8 1425.8L523.5 1425.2L525.2 1424.5L526.9 1423.9L528.6 1423.3L530.3 1422.7L532 1422.1L533.8 1421.5L535.5 1421L537.2 1420.4L538.9 1419.9L540.6 1419.4L542.3 1418.9L544 1418.4L545.7 1417.9L547.4 1417.4L549.2 1417L550.9 1416.6L552.6 1416.2L554.3 1415.8L556 1415.4L557.7 1415L559.4 1414.6L561.1 1414.3L562.8 1414L564.6 1413.7L566.3 1413.4L568 1413.1L569.7 1412.8L571.4 1412.5L573.1 1412.3L574.8 1412.1L576.5 1411.8L578.2 1411.6L579.9 1411.4L581.7 1411.3L583.4 1411.1L585.1 1410.9L586.8 1410.8L588.5 1410.6L590.2 1410.5L591.9 1410.4L593.6 1410.3L595.3 1410.2L597.1 1410.1L598.8 1410L600.5 1410L602.2 1409.9L603.9 1409.8L605.6 1409.8L607.3 1409.8L609 1409.7L610.7 1409.7L612.5 1409.7L614.2 1409.7L615.9 1409.6L617.6 1409.6L619.3 1409.6L621 1409.6L622.7 1409.6L624.4 1409.6L626.1 1409.6L627.9 1409.6L629.6 1409.6L631.3 1409.6L633 1409.6L634.7 1409.6L636.4 1409.6L638.1 1409.6L639.8 1409.6L641.5 1409.5L643.2 1409.5L645 1409.5L646.7 1409.4L648.4 1409.4L650.1 1409.3L651.8 1409.2L653.5 1409.2L655.2 1409.1L656.9 1409L658.6 1408.8L660.4 1408.7L662.1 1408.5L663.8 1408.4L665.5 1408.2L667.2 1408L668.9 1407.8L670.6 1407.5L672.3 1407.3L674 1407L675.8 1406.7L677.5 1406.3L679.2 1406L680.9 1405.6L682.6 1405.2L684.3 1404.7L686 1404.3L687.7 1403.8L689.4 1403.2L691.1 1402.7L692.9 1402.1L694.6 1401.4L696.3 1400.7L698 1400L699.7 1399.3L701.4 1398.5L703.1 1397.7L704.8 1396.8L706.5 1395.9L708.3 1394.9L710 1393.9L711.7 1392.8L713.4 1391.7L715.1 1390.6L716.8 1389.4L718.5 1388.1L720.2 1386.8L721.9 1385.4L723.7 1384L725.4 1382.5L727.1 1381L728.8 1379.3L730.5 1377.7L732.2 1375.9L733.9 1374.1L735.6 1372.2L737.3 1370.3L739.1 1368.3L740.8 1366.2L742.5 1364L744.2 1361.8L745.9 1359.5L747.6 1357.1L749.3 1354.6L751 1352.1L752.7 1349.4L754.4 1346.7L756.2 1343.9L757.9 1341L759.6 1338L761.3 1334.9L763 1331.8L764.7 1328.5L766.4 1325.1L768.1 1321.7L769.8 1318.1L771.6 1314.4L773.3 1310.7L775 1306.8L776.7 1302.8L778.4 1298.7L780.1 1294.5L781.8 1290.1L783.5 1285.7L785.2 1281.1L787 1276.5L788.7 1271.7L790.4 1266.7L792.1 1261.7L793.8 1256.5L795.5 1251.2L797.2 1245.8L798.9 1240.2L800.6 1234.5L802.4 1228.7L804.1 1222.7L805.8 1216.5L807.5 1210.3L809.2 1203.9L810.9 1197.3L812.6 1190.6L814.3 1183.7L816 1176.7L817.7 1169.5L819.5 1162.2L821.2 1154.7L822.9 1147L824.6 1139.2L826.3 1131.2L828 1123L829.7 1114.7L831.4 1106.2L833.1 1097.5L834.9 1088.6L836.6 1079.6L838.3 1070.4L840 1060.9L841.7 1052.5L843.4 1052.5L845.1 1052.5L846.8 1052.5L848.5 1052.5L850.3 1052.5L852 1052.5L853.7 1052.5L855.4 1052.5L857.1 1052.5L858.8 1052.5L860.5 1052.5L862.2 1052.5L863.9 1052.5L865.6 1052.5L867.4 1052.5L869.1 1052.5L870.8 1052.5L872.5 1052.5L874.2 1052.5L875.9 1052.5L877.6 1052.5L879.3 1052.5L881 1052.5L882.8 1052.5L884.5 1052.5L886.2 1052.5L887.9 1052.5L889.6 1052.5" stroke="#5e81b5"/>
<path d="M207 1052.5L208.7 1052.5L210.4 1052.5L212.1 1052.5L213.8 1052.5L215.6 1052.5L217.3 1052.5L219 1052.5L220.7 1052.5L222.4 1052.5L224.1 1052.5L225.8 1052.5L227.5 1052.5L229.2 1052.5L231 1052.5L232.7 1052.5L234.4 1052.5L236.1 1052.5L237.8 1052.5L239.5 1052.5L241.2 1052.5L242.9 1052.5L244.6 1052.5L246.3 1052.5L248.1 1052.5L249.8 1052.5L251.5 1052.5L253.2 1052.5L254.9 1052.5L256.6 1052.5L258.3 1052.5L260 1052.5L261.7 1065.4L263.5 1081.3L265.2 1096.9L266.9 1112.2L268.6 1127.1L270.3 1141.6L272 1155.8L273.7 1169.7L275.4 1183.2L277.1 1196.5L278.9 1209.4L280.6 1221.9L282.3 1234.2L284 1246.1L285.7 1257.8L287.4 1269.1L289.1 1280.2L290.8 1291L292.5 1301.4L294.2 1311.6L296 1321.5L297.7 1331.2L299.4 1340.5L301.1 1349.6L302.8 1358.5L304.5 1367L306.2 1375.4L307.9 1383.4L309.6 1391.3L311.4 1398.8L313.1 1406.2L314.8 1413.3L316.5 1420.1L318.2 1426.8L319.9 1433.2L321.6 1439.4L323.3 1445.4L325 1451.2L326.8 1456.7L328.5 1462.1L330.2 1467.3L331.9 1472.2L333.6 1477L335.3 1481.5L337 1485.9L338.7 1490.1L340.4 1494.1L342.2 1498L343.9 1501.7L345.6 1505.2L347.3 1508.5L349 1511.7L350.7 1514.7L352.4 1517.5L354.1 1520.2L355.8 1522.7L357.5 1525.1L359.3 1527.4L361 1529.5L362.7 1531.5L364.4 1533.3L366.1 1535L367.8 1536.6L369.5 1538L371.2 1539.3L372.9 1540.5L374.7 1541.6L376.4 1542.6L378.1 1543.4L379.8 1544.2L381.5 1544.8L383.2 1545.4L384.9 1545.8L386.6 1546.1L388.3 1546.4L390.1 1546.5L391.8 1546.6L393.5 1546.6L395.2 1546.4L396.9 1546.3L398.6 1546L400.3 1545.6L402 1545.2L403.7 1544.7L405.5 1544.1L407.2 1543.5L408.9 1542.7L410.6 1542L412.3 1541.1L414 1540.2L415.7 1539.3L417.4 1538.3L419.1 1537.2L420.8 1536.1L422.6 1535L424.3 1533.8L426 1532.5L427.7 1531.2L429.4 1529.9L431.1 1528.5L432.8 1527.1L434.5 1525.7L436.2 1524.2L438 1522.7L439.7 1521.1L441.4 1519.6L443.1 1518L444.8 1516.4L446.5 1514.8L448.2 1513.1L449.9 1511.4L451.6 1509.7L453.4 1508L455.1 1506.3L456.8 1504.6L458.5 1502.9L460.2 1501.1L461.9 1499.3L463.6 1497.6L465.3 1495.8L467 1494L468.7 1492.3L470.5 1490.5L472.2 1488.7L473.9 1486.9L475.6 1485.2L477.3 1483.4L479 1481.6L480.7 1479.9L482.4 1478.1L484.1 1476.4L485.9 1474.6L487.6 1472.9L489.3 1471.2L491 1469.5L492.7 1467.8L494.4 1466.2L496.1 1464.5L497.8 1462.9L499.5 1461.2L501.3 1459.6L503 1458.1L504.7 1456.5L506.4 1454.9L508.1 1453.4L509.8 1451.9L511.5 1450.4L513.2 1449L514.9 1447.5L516.7 1446.1L518.4 1444.7L520.1 1443.4L521.8 1442L523.5 1440.7L525.2 1439.5L526.9 1438.2L528.6 1437L530.3 1435.8L532 1434.6L533.8 1433.4L535.5 1432.3L537.2 1431.2L538.9 1430.2L540.6 1429.1L542.3 1428.1L544 1427.1L545.7 1426.2L547.4 1425.3L549.2 1424.4L550.9 1423.5L552.6 1422.7L554.3 1421.9L556 1421.1L557.7 1420.4L559.4 1419.7L561.1 1419L562.8 1418.3L564.6 1417.7L566.3 1417.1L568 1416.5L569.7 1416L571.4 1415.5L573.1 1415L574.8 1414.5L576.5 1414.1L578.2 1413.6L579.9 1413.3L581.7 1412.9L583.4 1412.5L585.1 1412.2L586.8 1411.9L588.5 1411.7L590.2 1411.4L591.9 1411.2L593.6 1411L595.3 1410.8L597.1 1410.6L598.8 1410.4L600.5 1410.3L602.2 1410.2L603.9 1410.1L605.6 1410L607.3 1409.9L609 1409.8L610.7 1409.8L612.5 1409.7L614.2 1409.7L615.9 1409.7L617.6 1409.6L619.3 1409.6L621 1409.6L622.7 1409.6L624.4 1409.6L626.1 1409.6L627.9 1409.6L629.6 1409.6L631.3 1409.6L633 1409.6L634.7 1409.6L636.4 1409.6L638.1 1409.5L639.8 1409.5L641.5 1409.5L643.2 1409.4L645 1409.3L646.7 1409.2L648.4 1409.1L650.1 1409L651.8 1408.9L653.5 1408.7L655.2 1408.5L656.9 1408.3L658.6 1408L660.4 1407.8L662.1 1407.5L663.8 1407.1L665.5 1406.8L667.2 1406.4L668.9 1405.9L670.6 1405.4L672.3 1404.9L674 1404.3L675.8 1403.7L677.5 1403L679.2 1402.3L680.9 1401.6L682.6 1400.7L684.3 1399.8L686 1398.9L687.7 1397.9L689.4 1396.8L691.1 1395.7L692.9 1394.5L694.6 1393.2L696.3 1391.9L698 1390.5L699.7 1389L701.4 1387.4L703.1 1385.7L704.8 1384L706.5 1382.1L708.3 1380.2L710 1378.2L711.7 1376.1L713.4 1373.9L715.1 1371.6L716.8 1369.1L718.5 1366.6L720.2 1364L721.9 1361.2L723.7 1358.4L725.4 1355.4L727.1 1352.3L728.8 1349.1L730.5 1345.7L732.2 1342.2L733.9 1338.6L735.6 1334.9L737.3 1331L739.1 1327L740.8 1322.8L742.5 1318.5L744.2 1314L745.9 1309.4L747.6 1304.6L749.3 1299.7L751 1294.5L752.7 1289.3L754.4 1283.8L756.2 1278.2L757.9 1272.4L759.6 1266.4L761.3 1260.3L763 1253.9L764.7 1247.4L766.4 1240.7L768.1 1233.7L769.8 1226.6L771.6 1219.2L773.3 1211.7L775 1203.9L776.7 1196L778.4 1187.8L780.1 1179.3L781.8 1170.7L783.5 1161.8L785.2 1152.7L787 1143.3L788.7 1133.7L790.4 1123.9L792.1 1113.8L793.8 1103.4L795.5 1092.8L797.2 1081.9L798.9 1070.8L800.6 1059.4L802.4 1052.5L804.1 1052.5L805.8 1052.5L807.5 1052.5L809.2 1052.5L810.9 1052.5L812.6 1052.5L814.3 1052.5L816 1052.5L817.7 1052.5L819.5 1052.5L821.2 1052.5L822.9 1052.5L824.6 1052.5L826.3 1052.5L828 1052.5L829.7 1052.5L831.4 1052.5L833.1 1052.5L834.9 1052.5L836.6 1052.5L838.3 1052.5L840 1052.5L841.7 1052.5L843.4 1052.5L845.1 1052.5L846.8 1052.5L848.5 1052.5L850.3 1052.5L852 1052.5L853.7 1052.5L855.4 1052.5L857.1 1052.5L858.8 1052.5L860.5 1052.5L862.2 1052.5L863.9 1052.5L865.6 1052.5L867.4 1052.5L869.1 1052.5L870.8 1052.5L872.5 1052.5L874.2 1052.5L875.9 1052.5L877.6 1052.5L879.3 1052.5L881 1052.5L882.8 1052.5L884.5 1052.5L886.2 1052.5L887.9 1052.5L889.6 1052.5" stroke="#e19c24"/>
<path d="M207 1052.5L208.7 1052.5L210.4 1052.5L212.1 1052.5L213.8 1052.5L215.6 1052.5L217.3 1052.5L219 1052.5L220.7 1052.5L222.4 1052.5L224.1 1052.5L225.8 1052.5L227.5 1052.5L229.2 1052.5L231 1052.5L232.7 1052.5L234.4 1052.5L236.1 1052.5L237.8 1052.5L239.5 1052.5L241.2 1052.5L242.9 1052.5L244.6 1052.5L246.3 1052.5L248.1 1052.5L249.8 1052.5L251.5 1052.5L253.2 1052.5L254.9 1052.5L256.6 1052.5L258.3 1052.5L260 1052.5L261.7 1052.5L263.5 1052.5L265.2 1052.5L266.9 1052.5L268.6 1052.5L270.3 1052.5L272 1052.5L273.7 1052.5L275.4 1070.1L277.1 1089.9L278.9 1109.2L280.6 1128.1L282.3 1146.5L284 1164.4L285.7 1181.9L287.4 1198.9L289.1 1215.5L290.8 1231.6L292.5 1247.3L294.2 1262.6L296 1277.5L297.7 1291.9L299.4 1306L301.1 1319.6L302.8 1332.9L304.5 1345.8L306.2 1358.2L307.9 1370.3L309.6 1382.1L311.4 1393.4L313.1 1404.4L314.8 1415.1L316.5 1425.4L318.2 1435.4L319.9 1445L321.6 1454.3L323.3 1463.3L325 1472L326.8 1480.3L328.5 1488.3L330.2 1496.1L331.9 1503.5L333.6 1510.7L335.3 1517.5L337 1524.1L338.7 1530.4L340.4 1536.4L342.2 1542.2L343.9 1547.7L345.6 1552.9L347.3 1557.9L349 1562.7L350.7 1567.2L352.4 1571.4L354.1 1575.5L355.8 1579.3L357.5 1582.9L359.3 1586.3L361 1589.4L362.7 1592.4L364.4 1595.1L366.1 1597.7L367.8 1600L369.5 1602.2L371.2 1604.2L372.9 1606L374.7 1607.6L376.4 1609.1L378.1 1610.4L379.8 1611.5L381.5 1612.4L383.2 1613.3L384.9 1613.9L386.6 1614.4L388.3 1614.8L390.1 1615L391.8 1615.1L393.5 1615L395.2 1614.9L396.9 1614.6L398.6 1614.1L400.3 1613.6L402 1613L403.7 1612.2L405.5 1611.3L407.2 1610.4L408.9 1609.3L410.6 1608.2L412.3 1606.9L414 1605.6L415.7 1604.1L417.4 1602.6L419.1 1601L420.8 1599.4L422.6 1597.6L424.3 1595.8L426 1593.9L427.7 1592L429.4 1590L431.1 1588L432.8 1585.8L434.5 1583.7L436.2 1581.5L438 1579.2L439.7 1576.9L441.4 1574.6L443.1 1572.2L444.8 1569.8L446.5 1567.3L448.2 1564.8L449.9 1562.3L451.6 1559.8L453.4 1557.3L455.1 1554.7L456.8 1552.1L458.5 1549.5L460.2 1546.8L461.9 1544.2L463.6 1541.6L465.3 1538.9L467 1536.2L468.7 1533.6L470.5 1530.9L472.2 1528.2L473.9 1525.6L475.6 1522.9L477.3 1520.3L479 1517.6L480.7 1515L482.4 1512.4L484.1 1509.8L485.9 1507.2L487.6 1504.6L489.3 1502L491 1499.5L492.7 1496.9L494.4 1494.4L496.1 1491.9L497.8 1489.5L499.5 1487.1L501.3 1484.7L503 1482.3L504.7 1479.9L506.4 1477.6L508.1 1475.3L509.8 1473.1L511.5 1470.8L513.2 1468.7L514.9 1466.5L516.7 1464.4L518.4 1462.3L520.1 1460.3L521.8 1458.3L523.5 1456.3L525.2 1454.4L526.9 1452.5L528.6 1450.6L530.3 1448.8L532 1447.1L533.8 1445.3L535.5 1443.7L537.2 1442L538.9 1440.4L540.6 1438.9L542.3 1437.4L544 1435.9L545.7 1434.5L547.4 1433.1L549.2 1431.8L550.9 1430.5L552.6 1429.2L554.3 1428L556 1426.9L557.7 1425.8L559.4 1424.7L561.1 1423.7L562.8 1422.7L564.6 1421.7L566.3 1420.8L568 1420L569.7 1419.2L571.4 1418.4L573.1 1417.6L574.8 1416.9L576.5 1416.3L578.2 1415.7L579.9 1415.1L581.7 1414.5L583.4 1414L585.1 1413.5L586.8 1413.1L588.5 1412.7L590.2 1412.3L591.9 1411.9L593.6 1411.6L595.3 1411.3L597.1 1411.1L598.8 1410.8L600.5 1410.6L602.2 1410.5L603.9 1410.3L605.6 1410.2L607.3 1410L609 1409.9L610.7 1409.8L612.5 1409.8L614.2 1409.7L615.9 1409.7L617.6 1409.7L619.3 1409.6L621 1409.6L622.7 1409.6L624.4 1409.6L626.1 1409.6L627.9 1409.6L629.6 1409.6L631.3 1409.6L633 1409.6L634.7 1409.6L636.4 1409.6L638.1 1409.5L639.8 1409.5L641.5 1409.4L643.2 1409.3L645 1409.2L646.7 1409.1L648.4 1408.9L650.1 1408.7L651.8 1408.5L653.5 1408.2L655.2 1408L656.9 1407.6L658.6 1407.3L660.4 1406.9L662.1 1406.4L663.8 1405.9L665.5 1405.3L667.2 1404.7L668.9 1404.1L670.6 1403.3L672.3 1402.5L674 1401.7L675.8 1400.8L677.5 1399.8L679.2 1398.7L680.9 1397.5L682.6 1396.3L684.3 1395L686 1393.5L687.7 1392L689.4 1390.4L691.1 1388.7L692.9 1386.9L694.6 1385L696.3 1383L698 1380.9L699.7 1378.6L701.4 1376.3L703.1 1373.8L704.8 1371.2L706.5 1368.4L708.3 1365.5L710 1362.5L711.7 1359.3L713.4 1356L715.1 1352.5L716.8 1348.9L718.5 1345.1L720.2 1341.2L721.9 1337L723.7 1332.7L725.4 1328.3L727.1 1323.6L728.8 1318.8L730.5 1313.8L732.2 1308.6L733.9 1303.1L735.6 1297.5L737.3 1291.7L739.1 1285.6L740.8 1279.4L742.5 1272.9L744.2 1266.2L745.9 1259.3L747.6 1252.1L749.3 1244.7L751 1237L752.7 1229.1L754.4 1220.9L756.2 1212.5L757.9 1203.8L759.6 1194.8L761.3 1185.6L763 1176.1L764.7 1166.3L766.4 1156.2L768.1 1145.8L769.8 1135.1L771.6 1124.1L773.3 1112.7L775 1101.1L776.7 1089.1L778.4 1076.8L780.1 1064.2L781.8 1052.5L783.5 1052.5L785.2 1052.5L787 1052.5L788.7 1052.5L790.4 1052.5L792.1 1052.5L793.8 1052.5L795.5 1052.5L797.2 1052.5L798.9 1052.5L800.6 1052.5L802.4 1052.5L804.1 1052.5L805.8 1052.5L807.5 1052.5L809.2 1052.5L810.9 1052.5L812.6 1052.5L814.3 1052.5L816 1052.5L817.7 1052.5L819.5 1052.5L821.2 1052.5L822.9 1052.5L824.6 1052.5L826.3 1052.5L828 1052.5L829.7 1052.5L831.4 1052.5L833.1 1052.5L834.9 1052.5L836.6 1052.5L838.3 1052.5L840 1052.5L841.7 1052.5L843.4 1052.5L845.1 1052.5L846.8 1052.5L848.5 1052.5L850.3 1052.5L852 1052.5L853.7 1052.5L855.4 1052.5L857.1 1052.5L858.8 1052.5L860.5 1052.5L862.2 1052.5L863.9 1052.5L865.6 1052.5L867.4 1052.5L869.1 1052.5L870.8 1052.5L872.5 1052.5L874.2 1052.5L875.9 1052.5L877.6 1052.5L879.3 1052.5L881 1052.5L882.8 1052.5L884.5 1052.5L886.2 1052.5L887.9 1052.5L889.6 1052.5" stroke="#8fb032"/>
<path d="M364.4 1792.3L366.1 1784.9L367.8 1777.5L369.5 1770.3L371.2 1763.1L372.9 1756.1L374.7 1749.1L376.4 1742.2L378.1 1735.5L379.8 1728.8L381.5 1722.2L383.2 1715.7L384.9 1709.3L386.6 1702.9L388.3 1696.7L390.1 1690.6L391.8 1684.5L393.5 1678.5L395.2 1672.6L396.9 1666.9L398.6 1661.1L400.3 1655.5L402 1650L403.7 1644.5L405.5 1639.2L407.2 1633.9L408.9 1628.7L410.6 1623.5L412.3 1618.5L414 1613.5L415.7 1608.6L417.4 1603.8L419.1 1599.1L420.8 1594.4L422.6 1589.9L424.3 1585.4L426 1580.9L427.7 1576.6L429.4 1572.3L431.1 1568.1L432.8 1564L434.5 1559.9L436.2 1555.9L438 1552L439.7 1548.2L441.4 1544.4L443.1 1540.7L444.8 1537.1L446.5 1533.5L448.2 1530L449.9 1526.6L451.6 1523.2L453.4 1519.9L455.1 1516.7L456.8 1513.5L458.5 1510.4L460.2 1507.3L461.9 1504.3L463.6 1501.4L465.3 1498.6L467 1495.8L468.7 1493L470.5 1490.3L472.2 1487.7L473.9 1485.1L475.6 1482.6L477.3 1480.2L479 1477.8L480.7 1475.4L482.4 1473.1L484.1 1470.9L485.9 1468.7L487.6 1466.6L489.3 1464.5L491 1462.5L492.7 1460.5L494.4 1458.6L496.1 1456.7L497.8 1454.9L499.5 1453.1L501.3 1451.3L503 1449.7L504.7 1448L506.4 1446.4L508.1 1444.9L509.8 1443.4L511.5 1441.9L513.2 1440.5L514.9 1439.1L516.7 1437.8L518.4 1436.5L520.1 1435.2L521.8 1434L523.5 1432.8L525.2 1431.7L526.9 1430.6L528.6 1429.5L530.3 1428.5L532 1427.5L533.8 1426.5L535.5 1425.6L537.2 1424.7L538.9 1423.9L540.6 1423.1L542.3 1422.3L544 1421.5L545.7 1420.8L547.4 1420.1L549.2 1419.4L550.9 1418.8L552.6 1418.2L554.3 1417.6L556 1417L557.7 1416.5L559.4 1416L561.1 1415.5L562.8 1415.1L564.6 1414.7L566.3 1414.2L568 1413.9L569.7 1413.5L571.4 1413.2L573.1 1412.8L574.8 1412.5L576.5 1412.3L578.2 1412L579.9 1411.8L581.7 1411.5L583.4 1411.3L585.1 1411.1L586.8 1410.9L588.5 1410.8L590.2 1410.6L591.9 1410.5L593.6 1410.4L595.3 1410.3L597.1 1410.2L598.8 1410.1L600.5 1410L602.2 1409.9L603.9 1409.9L605.6 1409.8L607.3 1409.8L609 1409.7L610.7 1409.7L612.5 1409.7L614.2 1409.7L615.9 1409.6L617.6 1409.6L619.3 1409.6L621 1409.6L622.7 1409.6L624.4 1409.6L626.1 1409.6L627.9 1409.6L629.6 1409.6L631.3 1409.6L633 1409.6L634.7 1409.6L636.4 1409.6L638.1 1409.6L639.8 1409.6L641.5 1409.5L643.2 1409.5L645 1409.5L646.7 1409.4L648.4 1409.4L650.1 1409.3L651.8 1409.3L653.5 1409.2L655.2 1409.1L656.9 1409L658.6 1408.9L660.4 1408.8L662.1 1408.7L663.8 1408.5L665.5 1408.3L667.2 1408.2L668.9 1408L670.6 1407.8L672.3 1407.6L674 1407.3L675.8 1407.1L677.5 1406.8L679.2 1406.5L680.9 1406.2L682.6 1405.8L684.3 1405.5L686 1405.1L687.7 1404.7L689.4 1404.3L691.1 1403.9L692.9 1403.4L694.6 1402.9L696.3 1402.4L698 1401.8L699.7 1401.2L701.4 1400.7L703.1 1400L704.8 1399.4L706.5 1398.7L708.3 1398L710 1397.2L711.7 1396.4L713.4 1395.6L715.1 1394.8L716.8 1393.9L718.5 1393L720.2 1392.1L721.9 1391.1L723.7 1390.1L725.4 1389L727.1 1387.9L728.8 1386.8L730.5 1385.6L732.2 1384.4L733.9 1383.2L735.6 1381.9L737.3 1380.6L739.1 1379.2L740.8 1377.8L742.5 1376.4L744.2 1374.9L745.9 1373.4L747.6 1371.8L749.3 1370.2L751 1368.5L752.7 1366.8L754.4 1365L756.2 1363.2L757.9 1361.3L759.6 1359.4L761.3 1357.5L763 1355.4L764.7 1353.4L766.4 1351.3L768.1 1349.1L769.8 1346.9L771.6 1344.6L773.3 1342.3L775 1339.9L776.7 1337.5L778.4 1335L780.1 1332.4L781.8 1329.8L783.5 1327.2L785.2 1324.4L787 1321.6L788.7 1318.8L790.4 1315.9L792.1 1312.9L793.8 1309.9L795.5 1306.8L797.2 1303.7L798.9 1300.5L800.6 1297.2L802.4 1293.8L804.1 1290.4L805.8 1286.9L807.5 1283.4L809.2 1279.8L810.9 1276.1L812.6 1272.4L814.3 1268.5L816 1264.6L817.7 1260.7L819.5 1256.7L821.2 1252.6L822.9 1248.4L824.6 1244.1L826.3 1239.8L828 1235.4L829.7 1230.9L831.4 1226.4L833.1 1221.8L834.9 1217.1L836.6 1212.3L838.3 1207.4L840 1202.5L841.7 1197.5L843.4 1192.4L845.1 1187.2L846.8 1181.9L848.5 1176.6L850.3 1171.1L852 1165.6L853.7 1160L855.4 1154.4L857.1 1148.6L858.8 1142.7L860.5 1136.8L862.2 1130.8L863.9 1124.7L865.6 1118.5L867.4 1112.2L869.1 1105.8L870.8 1099.3L872.5 1092.8L874.2 1086.1L875.9 1079.4L877.6 1072.5L879.3 1065.6L881 1058.6" stroke="#5e81b5" stroke-dasharray="12 12"/>
<path d="M417.4 1798L419.1 1788.6L420.8 1779.3L422.6 1770.1L424.3 1761.1L426 1752.3L427.7 1743.6L429.4 1735L431.1 1726.6L432.8 1718.4L434.5 1710.2L436.2 1702.3L438 1694.5L439.7 1686.8L441.4 1679.2L443.1 1671.8L444.8 1664.5L446.5 1657.4L448.2 1650.4L449.9 1643.5L451.6 1636.8L453.4 1630.2L455.1 1623.7L456.8 1617.4L458.5 1611.1L460.2 1605.1L461.9 1599.1L463.6 1593.2L465.3 1587.5L467 1581.9L468.7 1576.4L470.5 1571L472.2 1565.8L473.9 1560.6L475.6 1555.6L477.3 1550.7L479 1545.9L480.7 1541.2L482.4 1536.6L484.1 1532.2L485.9 1527.8L487.6 1523.5L489.3 1519.4L491 1515.3L492.7 1511.4L494.4 1507.5L496.1 1503.8L497.8 1500.1L499.5 1496.5L501.3 1493.1L503 1489.7L504.7 1486.4L506.4 1483.2L508.1 1480.1L509.8 1477.1L511.5 1474.2L513.2 1471.3L514.9 1468.6L516.7 1465.9L518.4 1463.3L520.1 1460.8L521.8 1458.4L523.5 1456L525.2 1453.7L526.9 1451.5L528.6 1449.4L530.3 1447.4L532 1445.4L533.8 1443.5L535.5 1441.6L537.2 1439.9L538.9 1438.2L540.6 1436.5L542.3 1434.9L544 1433.4L545.7 1432L547.4 1430.6L549.2 1429.2L550.9 1428L552.6 1426.8L554.3 1425.6L556 1424.5L557.7 1423.4L559.4 1422.4L561.1 1421.5L562.8 1420.6L564.6 1419.7L566.3 1418.9L568 1418.1L569.7 1417.4L571.4 1416.7L573.1 1416.1L574.8 1415.5L576.5 1414.9L578.2 1414.4L579.9 1413.9L581.7 1413.4L583.4 1413L585.1 1412.6L586.8 1412.3L588.5 1411.9L590.2 1411.6L591.9 1411.4L593.6 1411.1L595.3 1410.9L597.1 1410.7L598.8 1410.5L600.5 1410.4L602.2 1410.2L603.9 1410.1L605.6 1410L607.3 1409.9L609 1409.8L610.7 1409.8L612.5 1409.7L614.2 1409.7L615.9 1409.7L617.6 1409.6L619.3 1409.6L621 1409.6L622.7 1409.6L624.4 1409.6L626.1 1409.6L627.9 1409.6L629.6 1409.6L631.3 1409.6L633 1409.6L634.7 1409.6L636.4 1409.6L638.1 1409.5L639.8 1409.5L641.5 1409.5L643.2 1409.4L645 1409.3L646.7 1409.3L648.4 1409.2L650.1 1409.1L651.8 1408.9L653.5 1408.8L655.2 1408.6L656.9 1408.4L658.6 1408.2L660.4 1408L662.1 1407.7L663.8 1407.4L665.5 1407.1L667.2 1406.7L668.9 1406.4L670.6 1405.9L672.3 1405.5L674 1405L675.8 1404.5L677.5 1404L679.2 1403.4L680.9 1402.7L682.6 1402.1L684.3 1401.4L686 1400.6L687.7 1399.8L689.4 1399L691.1 1398.1L692.9 1397.1L694.6 1396.2L696.3 1395.1L698 1394L699.7 1392.9L701.4 1391.7L703.1 1390.4L704.8 1389.1L706.5 1387.7L708.3 1386.3L710 1384.8L711.7 1383.3L713.4 1381.6L715.1 1380L716.8 1378.2L718.5 1376.4L720.2 1374.5L721.9 1372.6L723.7 1370.5L725.4 1368.4L727.1 1366.3L728.8 1364L730.5 1361.7L732.2 1359.3L733.9 1356.8L735.6 1354.2L737.3 1351.6L739.1 1348.9L740.8 1346L742.5 1343.2L744.2 1340.2L745.9 1337.1L747.6 1333.9L749.3 1330.7L751 1327.3L752.7 1323.9L754.4 1320.4L756.2 1316.8L757.9 1313L759.6 1309.2L761.3 1305.3L763 1301.3L764.7 1297.1L766.4 1292.9L768.1 1288.6L769.8 1284.2L771.6 1279.6L773.3 1275L775 1270.2L776.7 1265.3L778.4 1260.3L780.1 1255.2L781.8 1250L783.5 1244.7L785.2 1239.2L787 1233.7L788.7 1228L790.4 1222.2L792.1 1216.3L793.8 1210.2L795.5 1204L797.2 1197.7L798.9 1191.3L800.6 1184.7L802.4 1178L804.1 1171.2L805.8 1164.3L807.5 1157.2L809.2 1150L810.9 1142.6L812.6 1135.1L814.3 1127.5L816 1119.7L817.7 1111.8L819.5 1103.7L821.2 1095.5L822.9 1087.1L824.6 1078.6L826.3 1070L828 1061.2" stroke="#e19c24" stroke-dasharray="12 12"/>
<path d="M444.8 1792L446.5 1781.3L448.2 1770.8L449.9 1760.5L451.6 1750.4L453.4 1740.5L455.1 1730.8L456.8 1721.2L458.5 1711.9L460.2 1702.8L461.9 1693.8L463.6 1685L465.3 1676.5L467 1668L468.7 1659.8L470.5 1651.8L472.2 1643.9L473.9 1636.2L475.6 1628.6L477.3 1621.3L479 1614.1L480.7 1607L482.4 1600.2L484.1 1593.4L485.9 1586.9L487.6 1580.5L489.3 1574.3L491 1568.2L492.7 1562.2L494.4 1556.5L496.1 1550.8L497.8 1545.3L499.5 1540L501.3 1534.8L503 1529.7L504.7 1524.8L506.4 1520L508.1 1515.4L509.8 1510.8L511.5 1506.5L513.2 1502.2L514.9 1498.1L516.7 1494.1L518.4 1490.2L520.1 1486.4L521.8 1482.8L523.5 1479.2L525.2 1475.8L526.9 1472.5L528.6 1469.3L530.3 1466.2L532 1463.3L533.8 1460.4L535.5 1457.6L537.2 1455L538.9 1452.4L540.6 1450L542.3 1447.6L544 1445.3L545.7 1443.2L547.4 1441.1L549.2 1439.1L550.9 1437.2L552.6 1435.3L554.3 1433.6L556 1431.9L557.7 1430.3L559.4 1428.8L561.1 1427.4L562.8 1426L564.6 1424.7L566.3 1423.5L568 1422.4L569.7 1421.3L571.4 1420.3L573.1 1419.3L574.8 1418.4L576.5 1417.5L578.2 1416.8L579.9 1416L581.7 1415.3L583.4 1414.7L585.1 1414.1L586.8 1413.6L588.5 1413.1L590.2 1412.6L591.9 1412.2L593.6 1411.9L595.3 1411.5L597.1 1411.2L598.8 1411L600.5 1410.7L602.2 1410.5L603.9 1410.3L605.6 1410.2L607.3 1410.1L609 1410L610.7 1409.9L612.5 1409.8L614.2 1409.7L615.9 1409.7L617.6 1409.7L619.3 1409.6L621 1409.6L622.7 1409.6L624.4 1409.6L626.1 1409.6L627.9 1409.6L629.6 1409.6L631.3 1409.6L633 1409.6L634.7 1409.6L636.4 1409.6L638.1 1409.5L639.8 1409.5L641.5 1409.4L643.2 1409.3L645 1409.2L646.7 1409.1L648.4 1408.9L650.1 1408.8L651.8 1408.6L653.5 1408.3L655.2 1408.1L656.9 1407.8L658.6 1407.5L660.4 1407.1L662.1 1406.7L663.8 1406.3L665.5 1405.8L667.2 1405.3L668.9 1404.7L670.6 1404.1L672.3 1403.4L674 1402.7L675.8 1402L677.5 1401.1L679.2 1400.3L680.9 1399.3L682.6 1398.3L684.3 1397.2L686 1396.1L687.7 1394.9L689.4 1393.7L691.1 1392.3L692.9 1390.9L694.6 1389.4L696.3 1387.9L698 1386.2L699.7 1384.5L701.4 1382.7L703.1 1380.8L704.8 1378.9L706.5 1376.8L708.3 1374.7L710 1372.4L711.7 1370.1L713.4 1367.7L715.1 1365.1L716.8 1362.5L718.5 1359.8L720.2 1357L721.9 1354L723.7 1351L725.4 1347.8L727.1 1344.6L728.8 1341.2L730.5 1337.7L732.2 1334.1L733.9 1330.4L735.6 1326.5L737.3 1322.6L739.1 1318.5L740.8 1314.3L742.5 1309.9L744.2 1305.4L745.9 1300.8L747.6 1296.1L749.3 1291.2L751 1286.2L752.7 1281.1L754.4 1275.8L756.2 1270.3L757.9 1264.7L759.6 1259L761.3 1253.1L763 1247.1L764.7 1240.9L766.4 1234.6L768.1 1228.1L769.8 1221.4L771.6 1214.6L773.3 1207.6L775 1200.5L776.7 1193.2L778.4 1185.7L780.1 1178L781.8 1170.2L783.5 1162.2L785.2 1154.1L787 1145.7L788.7 1137.2L790.4 1128.5L792.1 1119.6L793.8 1110.5L795.5 1101.2L797.2 1091.8L798.9 1082.1L800.6 1072.3L802.4 1062.3" stroke="#8fb032" stroke-dasharray="12 12"/>
</g>
<path d="M220.13 1636.9v-4.9M220.13 1214.8v4.9M251.38 1636.9v-4.9M251.38 1214.8v4.9M282.64 1636.9v-4.9M282.64 1214.8v4.9M313.89 1636.9v-8.4M313.89 1214.8v8.4M345.15 1636.9v-4.9M345.15 1214.8v4.9M376.4 1636.9v-4.9M376.4 1214.8v4.9M407.65 1636.9v-4.9M407.65 1214.8v4.9M438.91 1636.9v-4.9M438.91 1214.8v4.9M470.16 1636.9v-8.4M470.16 1214.8v8.4M501.42 1636.9v-4.9M501.42 1214.8v4.9M532.67 1636.9v-4.9M532.67 1214.8v4.9M563.93 1636.9v-4.9M563.93 1214.8v4.9M595.18 1636.9v-4.9M595.18 1214.8v4.9M657.69 1636.9v-4.9M657.69 1214.8v4.9M688.95 1636.9v-4.9M688.95 1214.8v4.9M720.2 1636.9v-4.9M720.2 1214.8v4.9M751.45 1636.9v-4.9M751.45 1214.8v4.9M782.71 1636.9v-8.4M782.71 1214.8v8.4M813.96 1636.9v-4.9M813.96 1214.8v4.9M845.22 1636.9v-4.9M845.22 1214.8v4.9M876.47 1636.9v-4.9M876.47 1214.8v4.9M207 1636.9h4.9M889.6 1636.9h-4.9M207 1620.67h4.9M889.6 1620.67h-4.9M207 1604.43h8.4M889.6 1604.43h-8.4M207 1588.2h4.9M889.6 1588.2h-4.9M207 1571.96h4.9M889.6 1571.96h-4.9M207 1555.73h4.9M889.6 1555.73h-4.9M207 1539.49h8.4M889.6 1539.49h-8.4M207 1523.26h4.9M889.6 1523.26h-4.9M207 1507.02h4.9M889.6 1507.02h-4.9M207 1490.79h4.9M889.6 1490.79h-4.9M207 1474.55h8.4M889.6 1474.55h-8.4M207 1458.32h4.9M889.6 1458.32h-4.9M207 1442.08h4.9M889.6 1442.08h-4.9M207 1425.85h4.9M889.6 1425.85h-4.9M207 1393.38h4.9M889.6 1393.38h-4.9M207 1377.15h4.9M889.6 1377.15h-4.9M207 1360.91h4.9M889.6 1360.91h-4.9M207 1344.68h8.4M889.6 1344.68h-8.4M207 1328.44h4.9M889.6 1328.44h-4.9M207 1312.21h4.9M889.6 1312.21h-4.9M207 1295.97h4.9M889.6 1295.97h-4.9M207 1279.74h8.4M889.6 1279.74h-8.4M207 1263.5h4.9M889.6 1263.5h-4.9M207 1247.27h4.9M889.6 1247.27h-4.9M207 1231.03h4.9M889.6 1231.03h-4.9M207 1214.8h8.4M889.6 1214.8h-8.4" stroke="#666" stroke-width="1" fill="none"/>
<rect x="207.0" y="1214.8" width="682.6" height="422.1" fill="none" stroke="#6a6a6a" stroke-width="1.5"/>
<g font-size="54"><text x="198.3" y="1623.13" text-anchor="end"><tspan dy="4.2" stroke="#000" stroke-width="1">−</tspan><tspan dy="-4.2" dx="4.5">600</tspan></text><text x="198.3" y="1558.19" text-anchor="end"><tspan dy="4.2" stroke="#000" stroke-width="1">−</tspan><tspan dy="-4.2" dx="4.5">400</tspan></text><text x="198.3" y="1493.25" text-anchor="end"><tspan dy="4.2" stroke="#000" stroke-width="1">−</tspan><tspan dy="-4.2" dx="4.5">200</tspan></text><text x="198.3" y="1428.32" text-anchor="end">0</text><text x="198.3" y="1363.38" text-anchor="end">200</text><text x="198.3" y="1298.44" text-anchor="end">400</text><text x="198.3" y="1233.5" text-anchor="end">600</text><text x="312.39" y="1695.3" text-anchor="middle"><tspan dy="4.2" stroke="#000" stroke-width="1">−</tspan><tspan dy="-4.2" dx="4.5">10</tspan></text><text x="470.16" y="1695.3" text-anchor="middle"><tspan dy="4.2" stroke="#000" stroke-width="1">−</tspan><tspan dy="-4.2" dx="4.5">5</tspan></text><text x="626.44" y="1695.3" text-anchor="middle">0</text><text x="782.71" y="1695.3" text-anchor="middle">5</text><text x="547.5" y="1776.5" text-anchor="middle">q</text><text transform="translate(39.3 1426.4) rotate(-90)" text-anchor="middle">V(q)</text></g>
<clipPath id="cbr"><rect x="1016.3" y="1220.7" width="772.4" height="411.3"/></clipPath>
<g clip-path="url(#cbr)" fill="none" stroke-width="6.2">
<path d="M1031.7 1426.3L1033.8 1430.4L1035.8 1434.5L1037.9 1438.5L1039.9 1442.4L1042 1446.3L1044.1 1450.1L1046.1 1453.9L1048.2 1457.6L1050.3 1461.3L1052.3 1464.9L1054.4 1468.5L1056.4 1472L1058.5 1475.5L1060.6 1478.9L1062.6 1482.3L1064.7 1485.6L1066.7 1488.8L1068.8 1492.1L1070.9 1495.2L1072.9 1498.3L1075 1501.4L1077.1 1504.4L1079.1 1507.4L1081.2 1510.3L1083.2 1513.1L1085.3 1515.9L1087.4 1518.7L1089.4 1521.4L1091.5 1524L1093.5 1526.6L1095.6 1529.1L1097.7 1531.6L1099.7 1534.1L1101.8 1536.5L1103.9 1538.8L1105.9 1541.1L1108 1543.3L1110 1545.5L1112.1 1547.7L1114.2 1549.7L1116.2 1551.8L1118.3 1553.8L1120.3 1555.7L1122.4 1557.6L1124.5 1559.4L1126.5 1561.2L1128.6 1562.9L1130.7 1564.5L1132.7 1566.2L1134.8 1567.7L1136.8 1569.3L1138.9 1570.7L1141 1572.1L1143 1573.5L1145.1 1574.8L1147.1 1576.1L1149.2 1577.3L1151.3 1578.4L1153.3 1579.5L1155.4 1580.6L1157.5 1581.6L1159.5 1582.5L1161.6 1583.4L1163.6 1584.3L1165.7 1585.1L1167.8 1585.8L1169.8 1586.5L1171.9 1587.2L1173.9 1587.8L1176 1588.3L1178.1 1588.8L1180.1 1589.2L1182.2 1589.6L1184.3 1589.9L1186.3 1590.2L1188.4 1590.5L1190.4 1590.6L1192.5 1590.8L1194.6 1590.8L1196.6 1590.9L1198.7 1590.8L1200.7 1590.8L1202.8 1590.6L1204.9 1590.5L1206.9 1590.2L1209 1589.9L1211.1 1589.6L1213.1 1589.2L1215.2 1588.8L1217.2 1588.3L1219.3 1587.8L1221.4 1587.2L1223.4 1586.5L1225.5 1585.8L1227.5 1585.1L1229.6 1584.3L1231.7 1583.4L1233.7 1582.5L1235.8 1581.6L1237.8 1580.6L1239.9 1579.5L1242 1578.4L1244 1577.3L1246.1 1576.1L1248.2 1574.8L1250.2 1573.5L1252.3 1572.1L1254.3 1570.7L1256.4 1569.3L1258.5 1567.7L1260.5 1566.2L1262.6 1564.5L1264.6 1562.9L1266.7 1561.2L1268.8 1559.4L1270.8 1557.6L1272.9 1555.7L1275 1553.8L1277 1551.8L1279.1 1549.7L1281.1 1547.7L1283.2 1545.5L1285.3 1543.3L1287.3 1541.1L1289.4 1538.8L1291.4 1536.5L1293.5 1534.1L1295.6 1531.6L1297.6 1529.1L1299.7 1526.6L1301.8 1524L1303.8 1521.4L1305.9 1518.7L1307.9 1515.9L1310 1513.1L1312.1 1510.3L1314.1 1507.4L1316.2 1504.4L1318.2 1501.4L1320.3 1498.3L1322.4 1495.2L1324.4 1492.1L1326.5 1488.8L1328.6 1485.6L1330.6 1482.3L1332.7 1478.9L1334.7 1475.5L1336.8 1472L1338.9 1468.5L1340.9 1464.9L1343 1461.3L1345 1457.6L1347.1 1453.9L1349.2 1450.1L1351.2 1446.3L1353.3 1442.4L1355.4 1438.5L1357.4 1434.5L1359.5 1430.4L1361.5 1426.3L1363.6 1422.2L1365.7 1418L1367.7 1413.8L1369.8 1409.5L1371.8 1405.1L1373.9 1400.7L1376 1396.3L1378 1391.8L1380.1 1387.3L1382.2 1382.6L1384.2 1378L1386.3 1373.3L1388.3 1368.5L1390.4 1363.7L1392.5 1358.9L1394.5 1354L1396.6 1349L1398.6 1344L1400.7 1338.9L1402.8 1333.8L1404.8 1328.6L1406.9 1323.4L1409 1318.2L1411 1312.8L1413.1 1307.5L1415.1 1302L1417.2 1296.6L1419.3 1291L1421.3 1285.5L1423.4 1279.8L1425.4 1274.1L1427.5 1268.4L1429.6 1262.6L1431.6 1256.8L1433.7 1250.9L1435.8 1245L1437.8 1239L1439.9 1232.9L1441.9 1226.8L1444 1220.7L1446.1 1214.5L1448.1 1208.3L1450.2 1202L1452.2 1195.6L1454.3 1189.2L1456.4 1182.8L1458.4 1176.3L1460.5 1169.7L1462.6 1163.1L1464.6 1156.4L1466.7 1149.7L1468.7 1143L1470.8 1136.2L1472.9 1129.3L1474.9 1122.4L1477 1115.4L1479 1108.4L1481.1 1101.3L1483.2 1094.2L1485.2 1087L1487.3 1079.8L1489.4 1072.5L1491.4 1065.2L1493.5 1057.8" stroke="#5e81b5" stroke-dasharray="12 12"/>
<path d="M1064.7 1057.8L1066.7 1065.2L1068.8 1072.5L1070.9 1079.8L1072.9 1087L1075 1094.2L1077.1 1101.3L1079.1 1108.4L1081.2 1115.4L1083.2 1122.4L1085.3 1129.3L1087.4 1136.2L1089.4 1143L1091.5 1149.7L1093.5 1156.4L1095.6 1163.1L1097.7 1169.7L1099.7 1176.3L1101.8 1182.8L1103.9 1189.2L1105.9 1195.6L1108 1202L1110 1208.3L1112.1 1214.5L1114.2 1220.7L1116.2 1226.8L1118.3 1232.9L1120.3 1239L1122.4 1245L1124.5 1250.9L1126.5 1256.8L1128.6 1262.6L1130.7 1268.4L1132.7 1274.1L1134.8 1279.8L1136.8 1285.5L1138.9 1291L1141 1296.6L1143 1302L1145.1 1307.5L1147.1 1312.8L1149.2 1318.2L1151.3 1323.4L1153.3 1328.6L1155.4 1333.8L1157.5 1338.9L1159.5 1344L1161.6 1349L1163.6 1354L1165.7 1358.9L1167.8 1363.7L1169.8 1368.5L1171.9 1373.3L1173.9 1378L1176 1382.6L1178.1 1387.3L1180.1 1391.8L1182.2 1396.3L1184.3 1400.7L1186.3 1405.1L1188.4 1409.5L1190.4 1413.8L1192.5 1418L1194.6 1422.2L1196.6 1426.3L1198.7 1430.4L1200.7 1434.5L1202.8 1438.5L1204.9 1442.4L1206.9 1446.3L1209 1450.1L1211.1 1453.9L1213.1 1457.6L1215.2 1461.3L1217.2 1464.9L1219.3 1468.5L1221.4 1472L1223.4 1475.5L1225.5 1478.9L1227.5 1482.3L1229.6 1485.6L1231.7 1488.8L1233.7 1492.1L1235.8 1495.2L1237.8 1498.3L1239.9 1501.4L1242 1504.4L1244 1507.4L1246.1 1510.3L1248.2 1513.1L1250.2 1515.9L1252.3 1518.7L1254.3 1521.4L1256.4 1524L1258.5 1526.6L1260.5 1529.1L1262.6 1531.6L1264.6 1534.1L1266.7 1536.5L1268.8 1538.8L1270.8 1541.1L1272.9 1543.3L1275 1545.5L1277 1547.7L1279.1 1549.7L1281.1 1551.8L1283.2 1553.8L1285.3 1555.7L1287.3 1557.6L1289.4 1559.4L1291.4 1561.2L1293.5 1562.9L1295.6 1564.5L1297.6 1566.2L1299.7 1567.7L1301.8 1569.3L1303.8 1570.7L1305.9 1572.1L1307.9 1573.5L1310 1574.8L1312.1 1576.1L1314.1 1577.3L1316.2 1578.4L1318.2 1579.5L1320.3 1580.6L1322.4 1581.6L1324.4 1582.5L1326.5 1583.4L1328.6 1584.3L1330.6 1585.1L1332.7 1585.8L1334.7 1586.5L1336.8 1587.2L1338.9 1587.8L1340.9 1588.3L1343 1588.8L1345 1589.2L1347.1 1589.6L1349.2 1589.9L1351.2 1590.2L1353.3 1590.5L1355.4 1590.6L1357.4 1590.8L1359.5 1590.8L1361.5 1590.9L1363.6 1590.8L1365.7 1590.8L1367.7 1590.6L1369.8 1590.5L1371.8 1590.2L1373.9 1589.9L1376 1589.6L1378 1589.2L1380.1 1588.8L1382.2 1588.3L1384.2 1587.8L1386.3 1587.2L1388.3 1586.5L1390.4 1585.8L1392.5 1585.1L1394.5 1584.3L1396.6 1583.4L1398.6 1582.5L1400.7 1581.6L1402.8 1580.6L1404.8 1579.5L1406.9 1578.4L1409 1577.3L1411 1576.1L1413.1 1574.8L1415.1 1573.5L1417.2 1572.1L1419.3 1570.7L1421.3 1569.3L1423.4 1567.7L1425.4 1566.2L1427.5 1564.5L1429.6 1562.9L1431.6 1561.2L1433.7 1559.4L1435.8 1557.6L1437.8 1555.7L1439.9 1553.8L1441.9 1551.8L1444 1549.7L1446.1 1547.7L1448.1 1545.5L1450.2 1543.3L1452.2 1541.1L1454.3 1538.8L1456.4 1536.5L1458.4 1534.1L1460.5 1531.6L1462.6 1529.1L1464.6 1526.6L1466.7 1524L1468.7 1521.4L1470.8 1518.7L1472.9 1515.9L1474.9 1513.1L1477 1510.3L1479 1507.4L1481.1 1504.4L1483.2 1501.4L1485.2 1498.3L1487.3 1495.2L1489.4 1492.1L1491.4 1488.8L1493.5 1485.6L1495.5 1482.3L1497.6 1478.9L1499.7 1475.5L1501.7 1472L1503.8 1468.5L1505.8 1464.9L1507.9 1461.3L1510 1457.6L1512 1453.9L1514.1 1450.1L1516.2 1446.3L1518.2 1442.4L1520.3 1438.5L1522.3 1434.5L1524.4 1430.4L1526.5 1426.3L1528.5 1422.2L1530.6 1418L1532.6 1413.8L1534.7 1409.5L1536.8 1405.1L1538.8 1400.7L1540.9 1396.3L1543 1391.8L1545 1387.3L1547.1 1382.6L1549.1 1378L1551.2 1373.3L1553.3 1368.5L1555.3 1363.7L1557.4 1358.9L1559.4 1354L1561.5 1349L1563.6 1344L1565.6 1338.9L1567.7 1333.8L1569.8 1328.6L1571.8 1323.4L1573.9 1318.2L1575.9 1312.8L1578 1307.5L1580.1 1302L1582.1 1296.6L1584.2 1291L1586.2 1285.5L1588.3 1279.8L1590.4 1274.1L1592.4 1268.4L1594.5 1262.6L1596.6 1256.8L1598.6 1250.9L1600.7 1245L1602.7 1239L1604.8 1232.9L1606.9 1226.8L1608.9 1220.7L1611 1214.5L1613 1208.3L1615.1 1202L1617.2 1195.6L1619.2 1189.2L1621.3 1182.8L1623.4 1176.3L1625.4 1169.7L1627.5 1163.1L1629.5 1156.4L1631.6 1149.7L1633.7 1143L1635.7 1136.2L1637.8 1129.3L1639.8 1122.4L1641.9 1115.4L1644 1108.4L1646 1101.3L1648.1 1094.2L1650.2 1087L1652.2 1079.8L1654.3 1072.5L1656.3 1065.2L1658.4 1057.8" stroke="#e19c24" stroke-dasharray="12 12"/>
<path d="M1229.6 1057.8L1231.7 1065.2L1233.7 1072.5L1235.8 1079.8L1237.8 1087L1239.9 1094.2L1242 1101.3L1244 1108.4L1246.1 1115.4L1248.2 1122.4L1250.2 1129.3L1252.3 1136.2L1254.3 1143L1256.4 1149.7L1258.5 1156.4L1260.5 1163.1L1262.6 1169.7L1264.6 1176.3L1266.7 1182.8L1268.8 1189.2L1270.8 1195.6L1272.9 1202L1275 1208.3L1277 1214.5L1279.1 1220.7L1281.1 1226.8L1283.2 1232.9L1285.3 1239L1287.3 1245L1289.4 1250.9L1291.4 1256.8L1293.5 1262.6L1295.6 1268.4L1297.6 1274.1L1299.7 1279.8L1301.8 1285.5L1303.8 1291L1305.9 1296.6L1307.9 1302L1310 1307.5L1312.1 1312.8L1314.1 1318.2L1316.2 1323.4L1318.2 1328.6L1320.3 1333.8L1322.4 1338.9L1324.4 1344L1326.5 1349L1328.6 1354L1330.6 1358.9L1332.7 1363.7L1334.7 1368.5L1336.8 1373.3L1338.9 1378L1340.9 1382.6L1343 1387.3L1345 1391.8L1347.1 1396.3L1349.2 1400.7L1351.2 1405.1L1353.3 1409.5L1355.4 1413.8L1357.4 1418L1359.5 1422.2L1361.5 1426.3L1363.6 1430.4L1365.7 1434.5L1367.7 1438.5L1369.8 1442.4L1371.8 1446.3L1373.9 1450.1L1376 1453.9L1378 1457.6L1380.1 1461.3L1382.2 1464.9L1384.2 1468.5L1386.3 1472L1388.3 1475.5L1390.4 1478.9L1392.5 1482.3L1394.5 1485.6L1396.6 1488.8L1398.6 1492.1L1400.7 1495.2L1402.8 1498.3L1404.8 1501.4L1406.9 1504.4L1409 1507.4L1411 1510.3L1413.1 1513.1L1415.1 1515.9L1417.2 1518.7L1419.3 1521.4L1421.3 1524L1423.4 1526.6L1425.4 1529.1L1427.5 1531.6L1429.6 1534.1L1431.6 1536.5L1433.7 1538.8L1435.8 1541.1L1437.8 1543.3L1439.9 1545.5L1441.9 1547.7L1444 1549.7L1446.1 1551.8L1448.1 1553.8L1450.2 1555.7L1452.2 1557.6L1454.3 1559.4L1456.4 1561.2L1458.4 1562.9L1460.5 1564.5L1462.6 1566.2L1464.6 1567.7L1466.7 1569.3L1468.7 1570.7L1470.8 1572.1L1472.9 1573.5L1474.9 1574.8L1477 1576.1L1479 1577.3L1481.1 1578.4L1483.2 1579.5L1485.2 1580.6L1487.3 1581.6L1489.4 1582.5L1491.4 1583.4L1493.5 1584.3L1495.5 1585.1L1497.6 1585.8L1499.7 1586.5L1501.7 1587.2L1503.8 1587.8L1505.8 1588.3L1507.9 1588.8L1510 1589.2L1512 1589.6L1514.1 1589.9L1516.2 1590.2L1518.2 1590.5L1520.3 1590.6L1522.3 1590.8L1524.4 1590.8L1526.5 1590.9L1528.5 1590.8L1530.6 1590.8L1532.6 1590.6L1534.7 1590.5L1536.8 1590.2L1538.8 1589.9L1540.9 1589.6L1543 1589.2L1545 1588.8L1547.1 1588.3L1549.1 1587.8L1551.2 1587.2L1553.3 1586.5L1555.3 1585.8L1557.4 1585.1L1559.4 1584.3L1561.5 1583.4L1563.6 1582.5L1565.6 1581.6L1567.7 1580.6L1569.8 1579.5L1571.8 1578.4L1573.9 1577.3L1575.9 1576.1L1578 1574.8L1580.1 1573.5L1582.1 1572.1L1584.2 1570.7L1586.2 1569.3L1588.3 1567.7L1590.4 1566.2L1592.4 1564.5L1594.5 1562.9L1596.6 1561.2L1598.6 1559.4L1600.7 1557.6L1602.7 1555.7L1604.8 1553.8L1606.9 1551.8L1608.9 1549.7L1611 1547.7L1613 1545.5L1615.1 1543.3L1617.2 1541.1L1619.2 1538.8L1621.3 1536.5L1623.4 1534.1L1625.4 1531.6L1627.5 1529.1L1629.5 1526.6L1631.6 1524L1633.7 1521.4L1635.7 1518.7L1637.8 1515.9L1639.8 1513.1L1641.9 1510.3L1644 1507.4L1646 1504.4L1648.1 1501.4L1650.2 1498.3L1652.2 1495.2L1654.3 1492.1L1656.3 1488.8L1658.4 1485.6L1660.5 1482.3L1662.5 1478.9L1664.6 1475.5L1666.6 1472L1668.7 1468.5L1670.8 1464.9L1672.8 1461.3L1674.9 1457.6L1676.9 1453.9L1679 1450.1L1681.1 1446.3L1683.1 1442.4L1685.2 1438.5L1687.3 1434.5L1689.3 1430.4L1691.4 1426.3L1693.4 1422.2L1695.5 1418L1697.6 1413.8L1699.6 1409.5L1701.7 1405.1L1703.7 1400.7L1705.8 1396.3L1707.9 1391.8L1709.9 1387.3L1712 1382.6L1714.1 1378L1716.1 1373.3L1718.2 1368.5L1720.2 1363.7L1722.3 1358.9L1724.4 1354L1726.4 1349L1728.5 1344L1730.5 1338.9L1732.6 1333.8L1734.7 1328.6L1736.7 1323.4L1738.8 1318.2L1740.9 1312.8L1742.9 1307.5L1745 1302L1747 1296.6L1749.1 1291L1751.2 1285.5L1753.2 1279.8L1755.3 1274.1L1757.3 1268.4L1759.4 1262.6L1761.5 1256.8L1763.5 1250.9L1765.6 1245L1767.7 1239L1769.7 1232.9L1771.8 1226.8L1773.8 1220.7" stroke="#8fb032" stroke-dasharray="12 12"/>
<path d="M1031.7 1419L1033.8 1423.2L1035.8 1427.3L1037.9 1431.4L1039.9 1435.4L1042 1439.3L1044.1 1443.2L1046.1 1447.1L1048.2 1450.9L1050.3 1454.6L1052.3 1458.3L1054.4 1461.9L1056.4 1465.5L1058.5 1469L1060.6 1472.5L1062.6 1475.9L1064.7 1479.3L1066.7 1482.6L1068.8 1485.9L1070.9 1489.1L1072.9 1492.3L1075 1495.4L1077.1 1498.5L1079.1 1501.5L1081.2 1504.4L1083.2 1507.3L1085.3 1510.2L1087.4 1513L1089.4 1515.7L1091.5 1518.4L1093.5 1521.1L1095.6 1523.7L1097.7 1526.2L1099.7 1528.7L1101.8 1531.1L1103.9 1533.5L1105.9 1535.8L1108 1538.1L1110 1540.3L1112.1 1542.5L1114.2 1544.6L1116.2 1546.7L1118.3 1548.7L1120.3 1550.7L1122.4 1552.6L1124.5 1554.5L1126.5 1556.3L1128.6 1558L1130.7 1559.7L1132.7 1561.4L1134.8 1563L1136.8 1564.5L1138.9 1566L1141 1567.4L1143 1568.8L1145.1 1570.2L1147.1 1571.4L1149.2 1572.7L1151.3 1573.8L1153.3 1575L1155.4 1576L1157.5 1577.1L1159.5 1578L1161.6 1578.9L1163.6 1579.8L1165.7 1580.6L1167.8 1581.4L1169.8 1582.1L1171.9 1582.7L1173.9 1583.3L1176 1583.9L1178.1 1584.4L1180.1 1584.8L1182.2 1585.2L1184.3 1585.6L1186.3 1585.9L1188.4 1586.1L1190.4 1586.3L1192.5 1586.4L1194.6 1586.5L1196.6 1586.5L1198.7 1586.5L1200.7 1586.4L1202.8 1586.3L1204.9 1586.1L1206.9 1585.9L1209 1585.6L1211.1 1585.2L1213.1 1584.8L1215.2 1584.4L1217.2 1583.9L1219.3 1583.3L1221.4 1582.7L1223.4 1582.1L1225.5 1581.4L1227.5 1580.6L1229.6 1579.8L1231.7 1578.9L1233.7 1578L1235.8 1577.1L1237.8 1576L1239.9 1575L1242 1573.8L1244 1572.7L1246.1 1571.4L1248.2 1570.2L1250.2 1568.8L1252.3 1567.4L1254.3 1566L1256.4 1564.5L1258.5 1563L1260.5 1561.4L1262.6 1559.7L1264.6 1558L1266.7 1556.3L1268.8 1554.5L1270.8 1552.6L1272.9 1550.7L1275 1548.7L1277 1546.7L1279.1 1544.6L1281.1 1542.5L1283.2 1540.3L1285.3 1538.1L1287.3 1535.8L1289.4 1533.5L1291.4 1531.1L1293.5 1528.7L1295.6 1526.2L1297.6 1523.7L1299.7 1521.1L1301.8 1518.4L1303.8 1515.7L1305.9 1513L1307.9 1510.2L1310 1507.3L1312.1 1504.4L1314.1 1501.5L1316.2 1498.5L1318.2 1495.4L1320.3 1492.3L1322.4 1489.1L1324.4 1485.9L1326.5 1482.6L1328.6 1479.3L1330.6 1475.9L1332.7 1472.5L1334.7 1469L1336.8 1465.5L1338.9 1461.9L1340.9 1458.3L1343 1454.6L1345 1450.9L1347.1 1447.1L1349.2 1443.2L1351.2 1439.3L1353.3 1435.4L1355.4 1431.4L1357.4 1427.3L1359.5 1423.2L1361.5 1419L1363.6 1414.8L1365.7 1410.6L1367.7 1406.2L1369.8 1401.9L1371.8 1397.4L1373.9 1393L1376 1388.4L1378 1383.9L1380.1 1379.2L1382.2 1374.5L1384.2 1369.8L1386.3 1365L1388.3 1360.2L1390.4 1355.3L1392.5 1350.3L1394.5 1345.3L1396.6 1340.3L1398.6 1335.2L1400.7 1330L1402.8 1324.8L1404.8 1319.6L1406.9 1314.2L1409 1308.9L1411 1303.5L1413.1 1298L1415.1 1292.5L1417.2 1286.9L1419.3 1281.3L1421.3 1275.6L1423.4 1269.9L1425.4 1264.1L1427.5 1258.2L1429.6 1252.4L1431.6 1246.4L1433.7 1240.4L1435.8 1234.4L1437.8 1228.3L1439.9 1222.1L1441.9 1215.9L1444 1209.7L1446.1 1203.4L1448.1 1197L1450.2 1190.6L1452.2 1184.1L1454.3 1177.6L1456.4 1171.1L1458.4 1164.4L1460.5 1157.8L1462.6 1151L1464.6 1144.3L1466.7 1137.4L1468.7 1130.5L1470.8 1123.6L1472.9 1116.6L1474.9 1109.6L1477 1102.5L1479 1095.3L1481.1 1088.1L1483.2 1080.9L1485.2 1073.6L1487.3 1066.2L1489.4 1058.8" stroke="#5e81b5"/>
<path d="M1072.9 1060L1075 1067.2L1077.1 1074.4L1079.1 1081.5L1081.2 1088.5L1083.2 1095.5L1085.3 1102.5L1087.4 1109.4L1089.4 1116.2L1091.5 1123L1093.5 1129.7L1095.6 1136.4L1097.7 1143.1L1099.7 1149.7L1101.8 1156.2L1103.9 1162.7L1105.9 1169.1L1108 1175.5L1110 1181.8L1112.1 1188.1L1114.2 1194.3L1116.2 1200.5L1118.3 1206.6L1120.3 1212.7L1122.4 1218.7L1124.5 1224.7L1126.5 1230.6L1128.6 1236.5L1130.7 1242.3L1132.7 1248L1134.8 1253.8L1136.8 1259.4L1138.9 1265L1141 1270.6L1143 1276.1L1145.1 1281.5L1147.1 1286.9L1149.2 1292.3L1151.3 1297.6L1153.3 1302.8L1155.4 1308L1157.5 1313.1L1159.5 1318.2L1161.6 1323.3L1163.6 1328.3L1165.7 1333.2L1167.8 1338.1L1169.8 1342.9L1171.9 1347.7L1173.9 1352.4L1176 1357.1L1178.1 1361.7L1180.1 1366.3L1182.2 1370.8L1184.3 1375.3L1186.3 1379.7L1188.4 1384.1L1190.4 1388.4L1192.5 1392.6L1194.6 1396.9L1196.6 1401L1198.7 1405.1L1200.7 1409.2L1202.8 1413.2L1204.9 1417.1L1206.9 1421L1209 1424.9L1211.1 1428.7L1213.1 1432.4L1215.2 1436.1L1217.2 1439.8L1219.3 1443.4L1221.4 1446.9L1223.4 1450.4L1225.5 1453.8L1227.5 1457.2L1229.6 1460.5L1231.7 1463.8L1233.7 1467L1235.8 1470.2L1237.8 1473.4L1239.9 1476.4L1242 1479.4L1244 1482.4L1246.1 1485.3L1248.2 1488.2L1250.2 1491L1252.3 1493.8L1254.3 1496.5L1256.4 1499.2L1258.5 1501.8L1260.5 1504.3L1262.6 1506.8L1264.6 1509.3L1266.7 1511.7L1268.8 1514L1270.8 1516.3L1272.9 1518.6L1275 1520.8L1277 1522.9L1279.1 1525L1281.1 1527.1L1283.2 1529.1L1285.3 1531L1287.3 1532.9L1289.4 1534.7L1291.4 1536.5L1293.5 1538.2L1295.6 1539.9L1297.6 1541.5L1299.7 1543.1L1301.8 1544.6L1303.8 1546.1L1305.9 1547.5L1307.9 1548.9L1310 1550.2L1312.1 1551.5L1314.1 1552.7L1316.2 1553.9L1318.2 1555L1320.3 1556L1322.4 1557L1324.4 1558L1326.5 1558.9L1328.6 1559.7L1330.6 1560.5L1332.7 1561.3L1334.7 1562L1336.8 1562.6L1338.9 1563.2L1340.9 1563.8L1343 1564.3L1345 1564.7L1347.1 1565.1L1349.2 1565.4L1351.2 1565.7L1353.3 1565.9L1355.4 1566.1L1357.4 1566.3L1359.5 1566.3L1361.5 1566.4L1363.6 1566.3L1365.7 1566.3L1367.7 1566.1L1369.8 1565.9L1371.8 1565.7L1373.9 1565.4L1376 1565.1L1378 1564.7L1380.1 1564.3L1382.2 1563.8L1384.2 1563.2L1386.3 1562.6L1388.3 1562L1390.4 1561.3L1392.5 1560.5L1394.5 1559.7L1396.6 1558.9L1398.6 1558L1400.7 1557L1402.8 1556L1404.8 1555L1406.9 1553.9L1409 1552.7L1411 1551.5L1413.1 1550.2L1415.1 1548.9L1417.2 1547.5L1419.3 1546.1L1421.3 1544.6L1423.4 1543.1L1425.4 1541.5L1427.5 1539.9L1429.6 1538.2L1431.6 1536.5L1433.7 1534.7L1435.8 1532.9L1437.8 1531L1439.9 1529.1L1441.9 1527.1L1444 1525L1446.1 1522.9L1448.1 1520.8L1450.2 1518.6L1452.2 1516.3L1454.3 1514L1456.4 1511.7L1458.4 1509.3L1460.5 1506.8L1462.6 1504.3L1464.6 1501.8L1466.7 1499.2L1468.7 1496.5L1470.8 1493.8L1472.9 1491L1474.9 1488.2L1477 1485.3L1479 1482.4L1481.1 1479.4L1483.2 1476.4L1485.2 1473.4L1487.3 1470.2L1489.4 1467L1491.4 1463.8L1493.5 1460.5L1495.5 1457.2L1497.6 1453.8L1499.7 1450.4L1501.7 1446.9L1503.8 1443.4L1505.8 1439.8L1507.9 1436.1L1510 1432.4L1512 1428.7L1514.1 1424.9L1516.2 1421L1518.2 1417.1L1520.3 1413.2L1522.3 1409.2L1524.4 1405.1L1526.5 1401L1528.5 1396.9L1530.6 1392.6L1532.6 1388.4L1534.7 1384.1L1536.8 1379.7L1538.8 1375.3L1540.9 1370.8L1543 1366.3L1545 1361.7L1547.1 1357.1L1549.1 1352.4L1551.2 1347.7L1553.3 1342.9L1555.3 1338.1L1557.4 1333.2L1559.4 1328.3L1561.5 1323.3L1563.6 1318.2L1565.6 1313.1L1567.7 1308L1569.8 1302.8L1571.8 1297.6L1573.9 1292.3L1575.9 1286.9L1578 1281.5L1580.1 1276.1L1582.1 1270.6L1584.2 1265L1586.2 1259.4L1588.3 1253.8L1590.4 1248L1592.4 1242.3L1594.5 1236.5L1596.6 1230.6L1598.6 1224.7L1600.7 1218.7L1602.7 1212.7L1604.8 1206.6L1606.9 1200.5L1608.9 1194.3L1611 1188.1L1613 1181.8L1615.1 1175.5L1617.2 1169.1L1619.2 1162.7L1621.3 1156.2L1623.4 1149.7L1625.4 1143.1L1627.5 1136.4L1629.5 1129.7L1631.6 1123L1633.7 1116.2L1635.7 1109.4L1637.8 1102.5L1639.8 1095.5L1641.9 1088.5L1644 1081.5L1646 1074.4L1648.1 1067.2L1650.2 1060" stroke="#e19c24"/>
<path d="M1246.1 1059.8L1248.2 1066.8L1250.2 1073.7L1252.3 1080.5L1254.3 1087.4L1256.4 1094.1L1258.5 1100.8L1260.5 1107.5L1262.6 1114.1L1264.6 1120.6L1266.7 1127.1L1268.8 1133.6L1270.8 1140L1272.9 1146.4L1275 1152.7L1277 1158.9L1279.1 1165.1L1281.1 1171.2L1283.2 1177.3L1285.3 1183.4L1287.3 1189.4L1289.4 1195.3L1291.4 1201.2L1293.5 1207L1295.6 1212.8L1297.6 1218.5L1299.7 1224.2L1301.8 1229.8L1303.8 1235.4L1305.9 1241L1307.9 1246.4L1310 1251.9L1312.1 1257.2L1314.1 1262.5L1316.2 1267.8L1318.2 1273L1320.3 1278.2L1322.4 1283.3L1324.4 1288.4L1326.5 1293.4L1328.6 1298.4L1330.6 1303.3L1332.7 1308.1L1334.7 1312.9L1336.8 1317.7L1338.9 1322.4L1340.9 1327L1343 1331.6L1345 1336.2L1347.1 1340.7L1349.2 1345.1L1351.2 1349.5L1353.3 1353.9L1355.4 1358.2L1357.4 1362.4L1359.5 1366.6L1361.5 1370.7L1363.6 1374.8L1365.7 1378.9L1367.7 1382.8L1369.8 1386.8L1371.8 1390.7L1373.9 1394.5L1376 1398.3L1378 1402L1380.1 1405.7L1382.2 1409.3L1384.2 1412.9L1386.3 1416.4L1388.3 1419.9L1390.4 1423.3L1392.5 1426.7L1394.5 1430L1396.6 1433.2L1398.6 1436.4L1400.7 1439.6L1402.8 1442.7L1404.8 1445.8L1406.9 1448.8L1409 1451.7L1411 1454.6L1413.1 1457.5L1415.1 1460.3L1417.2 1463.1L1419.3 1465.8L1421.3 1468.4L1423.4 1471L1425.4 1473.5L1427.5 1476L1429.6 1478.5L1431.6 1480.9L1433.7 1483.2L1435.8 1485.5L1437.8 1487.7L1439.9 1489.9L1441.9 1492.1L1444 1494.1L1446.1 1496.2L1448.1 1498.1L1450.2 1500.1L1452.2 1501.9L1454.3 1503.8L1456.4 1505.5L1458.4 1507.3L1460.5 1508.9L1462.6 1510.6L1464.6 1512.1L1466.7 1513.6L1468.7 1515.1L1470.8 1516.5L1472.9 1517.9L1474.9 1519.2L1477 1520.5L1479 1521.7L1481.1 1522.8L1483.2 1523.9L1485.2 1525L1487.3 1526L1489.4 1526.9L1491.4 1527.8L1493.5 1528.7L1495.5 1529.5L1497.6 1530.2L1499.7 1530.9L1501.7 1531.6L1503.8 1532.2L1505.8 1532.7L1507.9 1533.2L1510 1533.6L1512 1534L1514.1 1534.3L1516.2 1534.6L1518.2 1534.9L1520.3 1535L1522.3 1535.2L1524.4 1535.2L1526.5 1535.3L1528.5 1535.2L1530.6 1535.2L1532.6 1535L1534.7 1534.9L1536.8 1534.6L1538.8 1534.3L1540.9 1534L1543 1533.6L1545 1533.2L1547.1 1532.7L1549.1 1532.2L1551.2 1531.6L1553.3 1530.9L1555.3 1530.2L1557.4 1529.5L1559.4 1528.7L1561.5 1527.8L1563.6 1526.9L1565.6 1526L1567.7 1525L1569.8 1523.9L1571.8 1522.8L1573.9 1521.7L1575.9 1520.5L1578 1519.2L1580.1 1517.9L1582.1 1516.5L1584.2 1515.1L1586.2 1513.6L1588.3 1512.1L1590.4 1510.6L1592.4 1508.9L1594.5 1507.3L1596.6 1505.5L1598.6 1503.8L1600.7 1501.9L1602.7 1500.1L1604.8 1498.1L1606.9 1496.2L1608.9 1494.1L1611 1492.1L1613 1489.9L1615.1 1487.7L1617.2 1485.5L1619.2 1483.2L1621.3 1480.9L1623.4 1478.5L1625.4 1476L1627.5 1473.5L1629.5 1471L1631.6 1468.4L1633.7 1465.8L1635.7 1463.1L1637.8 1460.3L1639.8 1457.5L1641.9 1454.6L1644 1451.7L1646 1448.8L1648.1 1445.8L1650.2 1442.7L1652.2 1439.6L1654.3 1436.4L1656.3 1433.2L1658.4 1430L1660.5 1426.7L1662.5 1423.3L1664.6 1419.9L1666.6 1416.4L1668.7 1412.9L1670.8 1409.3L1672.8 1405.7L1674.9 1402L1676.9 1398.3L1679 1394.5L1681.1 1390.7L1683.1 1386.8L1685.2 1382.8L1687.3 1378.9L1689.3 1374.8L1691.4 1370.7L1693.4 1366.6L1695.5 1362.4L1697.6 1358.2L1699.6 1353.9L1701.7 1349.5L1703.7 1345.1L1705.8 1340.7L1707.9 1336.2L1709.9 1331.6L1712 1327L1714.1 1322.4L1716.1 1317.7L1718.2 1312.9L1720.2 1308.1L1722.3 1303.3L1724.4 1298.4L1726.4 1293.4L1728.5 1288.4L1730.5 1283.3L1732.6 1278.2L1734.7 1273L1736.7 1267.8L1738.8 1262.5L1740.9 1257.2L1742.9 1251.9L1745 1246.4L1747 1241L1749.1 1235.4L1751.2 1229.8L1753.2 1224.2L1755.3 1218.5L1757.3 1212.8L1759.4 1207L1761.5 1201.2L1763.5 1195.3L1765.6 1189.4L1767.7 1183.4L1769.7 1177.3L1771.8 1171.2L1773.8 1165.1" stroke="#8fb032"/>
<path d="M1031.7 1590.9L1033.8 1590.8L1035.8 1590.8L1037.9 1590.6L1039.9 1590.5L1042 1590.2L1044.1 1589.9L1046.1 1589.6L1048.2 1589.2L1050.3 1588.8L1052.3 1588.3L1054.4 1587.8L1056.4 1587.2L1058.5 1586.5L1060.6 1585.8L1062.6 1585.1L1064.7 1584.3L1066.7 1583.4L1068.8 1582.5L1070.9 1581.6L1072.9 1580.6L1075 1579.5L1077.1 1578.4L1079.1 1577.3L1081.2 1576.1L1083.2 1574.8L1085.3 1573.5L1087.4 1572.1L1089.4 1570.7L1091.5 1569.3L1093.5 1567.7L1095.6 1566.2L1097.7 1564.5L1099.7 1562.9L1101.8 1561.2L1103.9 1559.4L1105.9 1557.6L1108 1555.7L1110 1553.8L1112.1 1551.8L1114.2 1549.7L1116.2 1547.7L1118.3 1545.5L1120.3 1543.3L1122.4 1541.1L1124.5 1538.8L1126.5 1536.5L1128.6 1534.1L1130.7 1531.6L1132.7 1529.1L1134.8 1526.6L1136.8 1524L1138.9 1521.4L1141 1518.7L1143 1515.9L1145.1 1513.1L1147.1 1510.3L1149.2 1507.4L1151.3 1504.4L1153.3 1501.4L1155.4 1498.3L1157.5 1495.2L1159.5 1492.1L1161.6 1488.8L1163.6 1485.6L1165.7 1482.3L1167.8 1478.9L1169.8 1475.5L1171.9 1472L1173.9 1468.5L1176 1464.9L1178.1 1461.3L1180.1 1457.6L1182.2 1453.9L1184.3 1450.1L1186.3 1446.3L1188.4 1442.4L1190.4 1438.5L1192.5 1434.5L1194.6 1430.4L1196.6 1426.3L1198.7 1422.2L1200.7 1418L1202.8 1413.8L1204.9 1409.5L1206.9 1405.1L1209 1400.7L1211.1 1396.3L1213.1 1391.8L1215.2 1387.3L1217.2 1382.6L1219.3 1378L1221.4 1373.3L1223.4 1368.5L1225.5 1363.7L1227.5 1358.9L1229.6 1354L1231.7 1349L1233.7 1344L1235.8 1338.9L1237.8 1333.8L1239.9 1328.6L1242 1323.4L1244 1318.2L1246.1 1312.8L1248.2 1307.5L1250.2 1302L1252.3 1296.6L1254.3 1291L1256.4 1285.5L1258.5 1279.8L1260.5 1274.1L1262.6 1268.4L1264.6 1262.6L1266.7 1256.8L1268.8 1250.9L1270.8 1245L1272.9 1239L1275 1232.9L1277 1226.8L1279.1 1220.7L1281.1 1214.5L1283.2 1208.3L1285.3 1202L1287.3 1195.6L1289.4 1189.2L1291.4 1182.8L1293.5 1176.3L1295.6 1169.7L1297.6 1163.1L1299.7 1156.4L1301.8 1149.7L1303.8 1143L1305.9 1136.2L1307.9 1129.3L1310 1122.4L1312.1 1115.4L1314.1 1108.4L1316.2 1101.3L1318.2 1094.2L1320.3 1087L1322.4 1079.8L1324.4 1072.5L1326.5 1065.2L1328.6 1057.8" stroke="#000"/>
<path d="M1031.7 1632L1031.8 1631.1L1032 1630.2L1032.2 1629.3L1032.5 1628.4L1032.8 1627.5L1033.2 1626.6L1033.6 1625.7L1034 1624.9L1034.4 1624L1034.9 1623.1L1035.4 1622.2L1035.9 1621.3L1036.5 1620.4L1037 1619.5L1037.6 1618.6L1038.2 1617.7L1038.8 1616.8L1039.5 1615.9L1040.1 1615L1040.8 1614.1L1041.5 1613.2L1042.2 1612.3L1042.9 1611.5L1043.6 1610.6L1044.4 1609.7L1045.2 1608.8L1045.9 1607.9L1046.7 1607L1047.6 1606.1L1048.4 1605.2L1049.2 1604.3L1050.1 1603.4L1051 1602.5L1051.8 1601.6L1052.7 1600.7L1053.6 1599.8L1054.6 1599L1055.5 1598.1L1056.4 1597.2L1060.2 1593.7L1063.9 1590.5L1067.6 1587.3L1071.4 1584.3L1075.1 1581.3L1078.8 1578.5L1082.5 1575.7L1086.3 1573L1090 1570.3L1093.7 1567.7L1097.5 1565.2L1101.2 1562.6L1104.9 1560.2L1108.6 1557.8L1112.4 1555.4L1116.1 1553.1L1119.8 1550.7L1123.6 1548.5L1127.3 1546.2L1131 1544L1134.8 1541.8L1138.5 1539.7L1142.2 1537.5L1145.9 1535.4L1149.7 1533.3L1153.4 1531.2L1157.1 1529.2L1160.9 1527.2L1164.6 1525.2L1168.3 1523.2L1172 1521.2L1175.8 1519.2L1179.5 1517.3L1183.2 1515.4L1187 1513.5L1190.7 1511.6L1194.4 1509.7L1198.2 1507.8L1201.9 1506L1205.6 1504.2L1209.3 1502.3L1213.1 1500.5L1216.8 1498.7L1220.5 1497L1224.3 1495.2L1228 1493.4L1231.7 1491.7L1235.4 1489.9L1239.2 1488.2L1242.9 1486.5L1246.6 1484.8L1250.4 1483.1L1254.1 1481.4L1257.8 1479.7L1261.6 1478L1265.3 1476.4L1269 1474.7L1272.7 1473.1L1276.5 1471.5L1280.2 1469.8L1283.9 1468.2L1287.7 1466.6L1291.4 1465L1295.1 1463.4L1298.8 1461.8L1302.6 1460.2L1306.3 1458.7L1310 1457.1L1313.8 1455.5L1317.5 1454L1321.2 1452.4L1325 1450.9L1328.7 1449.4L1332.4 1447.8L1336.1 1446.3L1339.9 1444.8L1343.6 1443.3L1347.3 1441.8L1351.1 1440.3L1354.8 1438.8L1358.5 1437.3L1362.2 1435.9L1366 1434.4L1369.7 1432.9L1373.4 1431.5L1377.2 1430L1380.9 1428.5L1384.6 1427.1L1388.3 1425.7L1392.1 1424.2L1395.8 1422.8L1399.5 1421.4L1403.3 1419.9L1407 1418.5L1410.7 1417.1L1414.5 1415.7L1418.2 1414.3L1421.9 1412.9L1425.6 1411.5L1429.4 1410.1L1433.1 1408.7L1436.8 1407.4L1440.6 1406L1444.3 1404.6L1448 1403.2L1451.7 1401.9L1455.5 1400.5L1459.2 1399.2L1462.9 1397.8L1466.7 1396.5L1470.4 1395.1L1474.1 1393.8L1477.9 1392.4L1481.6 1391.1L1485.3 1389.8L1489 1388.4L1492.8 1387.1L1496.5 1385.8L1500.2 1384.5L1504 1383.2L1507.7 1381.9L1511.4 1380.6L1515.1 1379.3L1518.9 1378L1522.6 1376.7L1526.3 1375.4L1530.1 1374.1L1533.8 1372.8L1537.5 1371.5L1541.3 1370.2L1545 1369L1548.7 1367.7L1552.4 1366.4L1556.2 1365.2L1559.9 1363.9L1563.6 1362.6L1567.4 1361.4L1571.1 1360.1L1574.8 1358.9L1578.5 1357.6L1582.3 1356.4L1586 1355.1L1589.7 1353.9L1593.5 1352.7L1597.2 1351.4L1600.9 1350.2L1604.7 1349L1608.4 1347.7L1612.1 1346.5L1615.8 1345.3L1619.6 1344.1L1623.3 1342.9L1627 1341.6L1630.8 1340.4L1634.5 1339.2L1638.2 1338L1641.9 1336.8L1645.7 1335.6L1649.4 1334.4L1653.1 1333.2L1656.9 1332L1660.6 1330.8L1664.3 1329.6L1668.1 1328.5L1671.8 1327.3L1675.5 1326.1L1679.2 1324.9L1683 1323.7L1686.7 1322.5L1690.4 1321.4L1694.2 1320.2L1697.9 1319L1701.6 1317.9L1705.3 1316.7L1709.1 1315.5L1712.8 1314.4L1716.5 1313.2L1720.3 1312.1L1724 1310.9L1727.7 1309.8L1731.4 1308.6L1735.2 1307.5L1738.9 1306.3L1742.6 1305.2L1746.4 1304L1750.1 1302.9L1753.8 1301.8L1757.6 1300.6L1761.3 1299.5L1765 1298.4L1768.7 1297.2L1772.5 1296.1L1776.2 1295L1779.9 1293.8L1783.7 1292.7L1787.4 1291.6L1791.1 1290.5L1794.8 1289.4L1798.6 1288.2" stroke="#000" stroke-dasharray="12 12"/>
</g>
<path d="M1031.7 1632v-8.4M1031.7 1220.7v8.4M1072.93 1632v-4.9M1072.93 1220.7v4.9M1114.16 1632v-4.9M1114.16 1220.7v4.9M1155.39 1632v-4.9M1155.39 1220.7v4.9M1196.62 1632v-8.4M1196.62 1220.7v8.4M1237.85 1632v-4.9M1237.85 1220.7v4.9M1279.08 1632v-4.9M1279.08 1220.7v4.9M1320.31 1632v-4.9M1320.31 1220.7v4.9M1361.54 1632v-8.4M1361.54 1220.7v8.4M1402.77 1632v-4.9M1402.77 1220.7v4.9M1444 1632v-4.9M1444 1220.7v4.9M1485.23 1632v-4.9M1485.23 1220.7v4.9M1526.46 1632v-8.4M1526.46 1220.7v8.4M1567.69 1632v-4.9M1567.69 1220.7v4.9M1608.92 1632v-4.9M1608.92 1220.7v4.9M1650.15 1632v-4.9M1650.15 1220.7v4.9M1691.38 1632v-8.4M1691.38 1220.7v8.4M1732.61 1632v-4.9M1732.61 1220.7v4.9M1773.84 1632v-4.9M1773.84 1220.7v4.9M1016.3 1632h8.4M1788.7 1632h-8.4M1016.3 1615.55h4.9M1788.7 1615.55h-4.9M1016.3 1599.1h4.9M1788.7 1599.1h-4.9M1016.3 1582.64h4.9M1788.7 1582.64h-4.9M1016.3 1566.19h4.9M1788.7 1566.19h-4.9M1016.3 1549.74h8.4M1788.7 1549.74h-8.4M1016.3 1533.29h4.9M1788.7 1533.29h-4.9M1016.3 1516.84h4.9M1788.7 1516.84h-4.9M1016.3 1500.38h4.9M1788.7 1500.38h-4.9M1016.3 1483.93h4.9M1788.7 1483.93h-4.9M1016.3 1467.48h8.4M1788.7 1467.48h-8.4M1016.3 1451.03h4.9M1788.7 1451.03h-4.9M1016.3 1434.58h4.9M1788.7 1434.58h-4.9M1016.3 1418.12h4.9M1788.7 1418.12h-4.9M1016.3 1401.67h4.9M1788.7 1401.67h-4.9M1016.3 1385.22h8.4M1788.7 1385.22h-8.4M1016.3 1368.77h4.9M1788.7 1368.77h-4.9M1016.3 1352.32h4.9M1788.7 1352.32h-4.9M1016.3 1335.86h4.9M1788.7 1335.86h-4.9M1016.3 1319.41h4.9M1788.7 1319.41h-4.9M1016.3 1302.96h8.4M1788.7 1302.96h-8.4M1016.3 1286.51h4.9M1788.7 1286.51h-4.9M1016.3 1270.06h4.9M1788.7 1270.06h-4.9M1016.3 1253.6h4.9M1788.7 1253.6h-4.9M1016.3 1237.15h4.9M1788.7 1237.15h-4.9M1016.3 1220.7h8.4M1788.7 1220.7h-8.4" stroke="#4a4a4a" stroke-width="1" fill="none"/>
<rect x="1016.3" y="1220.7" width="772.4" height="411.3" fill="none" stroke="#3c3c3c" stroke-width="1.1"/>
<g font-size="54"><text x="1006.8" y="1650.7" text-anchor="end">0</text><text x="1006.8" y="1568.44" text-anchor="end">1</text><text x="1006.8" y="1486.18" text-anchor="end">2</text><text x="1006.8" y="1403.92" text-anchor="end">3</text><text x="1006.8" y="1321.66" text-anchor="end">4</text><text x="1006.8" y="1239.4" text-anchor="end">5</text><text x="1031.7" y="1690.6" text-anchor="middle">0</text><text x="1196.62" y="1690.6" text-anchor="middle">2</text><text x="1361.54" y="1690.6" text-anchor="middle">4</text><text x="1526.46" y="1690.6" text-anchor="middle">6</text><text x="1691.38" y="1690.6" text-anchor="middle">8</text><text x="1403" y="1772.2" text-anchor="middle" class="i">λ</text><text transform="translate(944.6 1427) rotate(-90)" text-anchor="middle">Var(p−<tspan class="i">λ</tspan>q<tspan font-size="40" dy="-21">2</tspan><tspan dy="21">)</tspan></text></g>
</svg></body></html>
